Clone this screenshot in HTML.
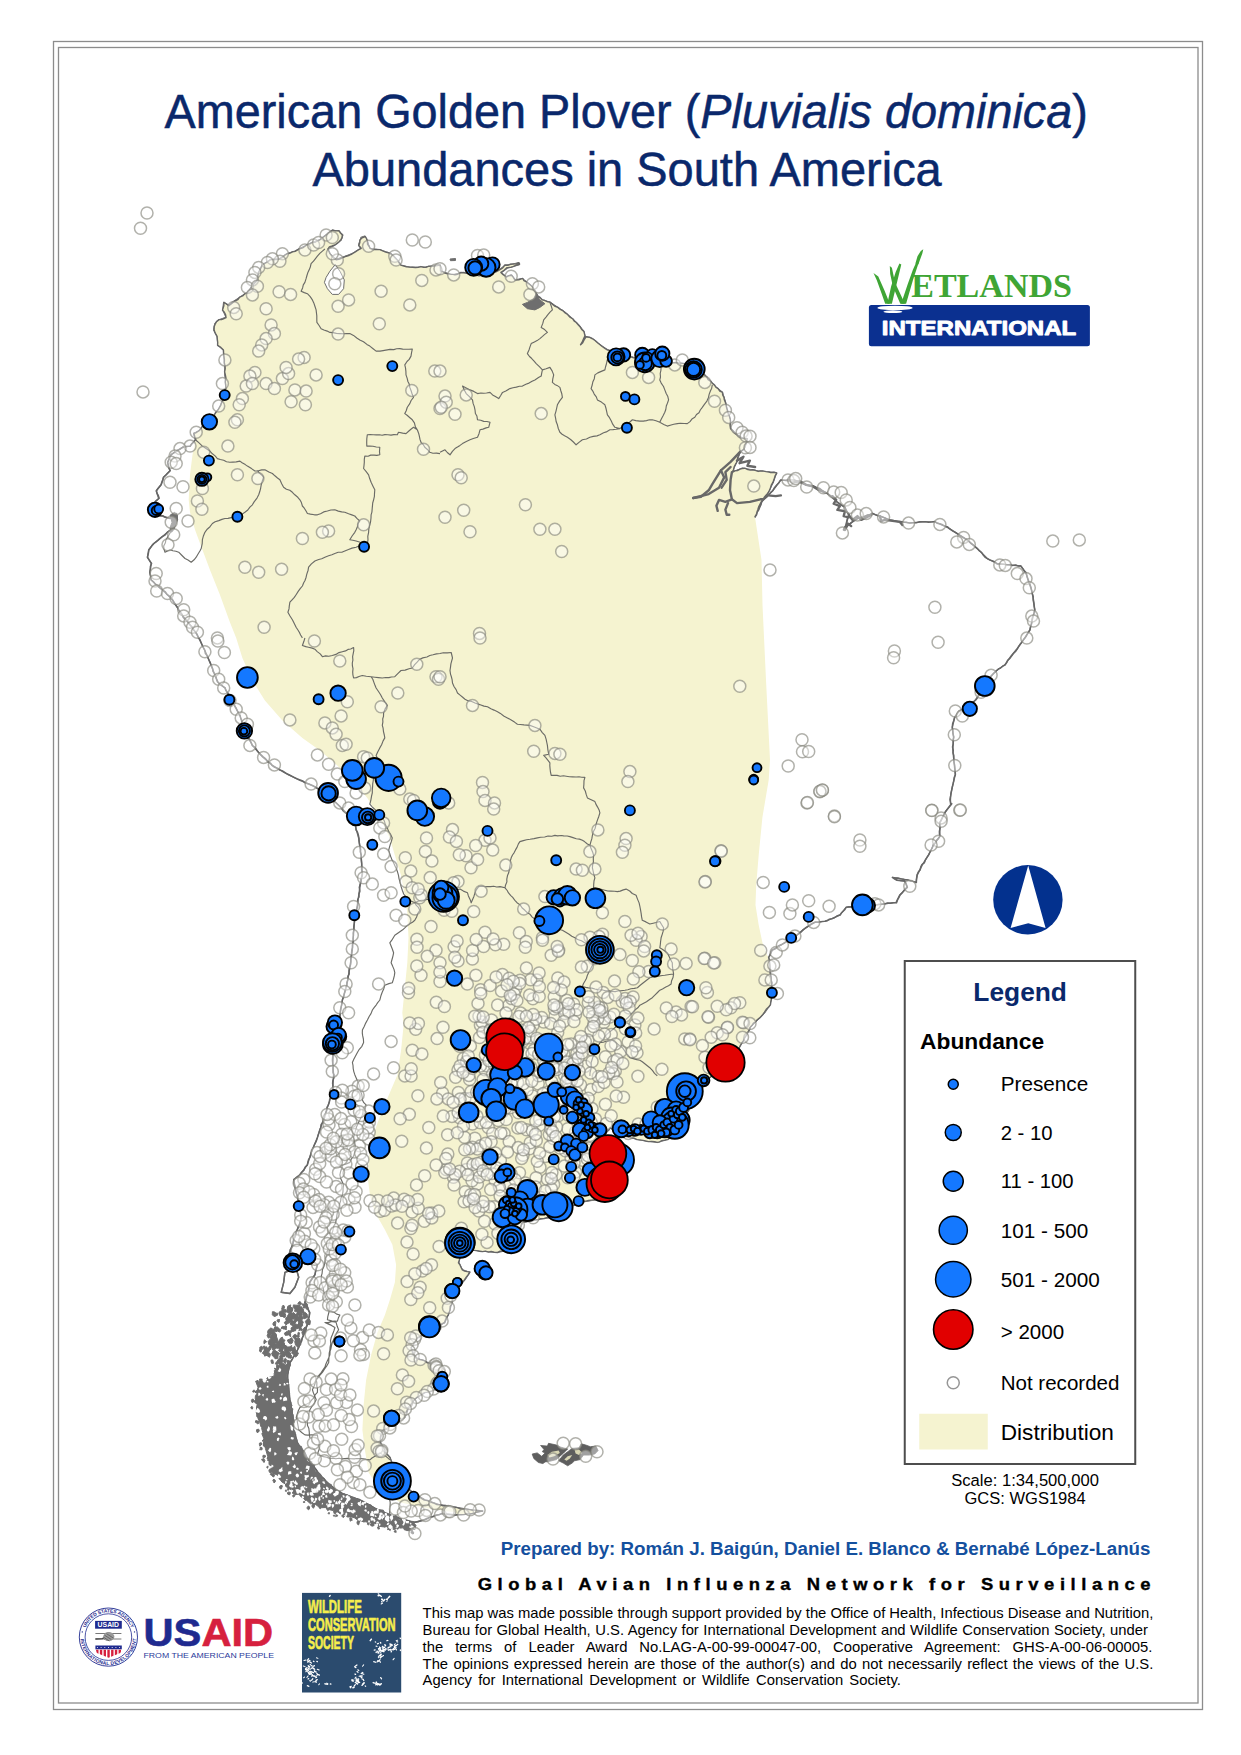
<!DOCTYPE html>
<html><head><meta charset="utf-8"><title>American Golden Plover Abundances in South America</title>
<style>
html,body{margin:0;padding:0;background:#fff;}
body{width:1241px;height:1755px;overflow:hidden;font-family:"Liberation Sans",sans-serif;}
svg{display:block;font-family:"Liberation Sans",sans-serif;}
</style></head><body>
<svg width="1241" height="1755" viewBox="0 0 1241 1755">
<rect width="1241" height="1755" fill="#fff"/>
<defs><clipPath id="landclip"><path d="M440.0,265.5 L426.0,266.9 L409.8,267.4 L401.0,265.5 L396.1,258.7 L391.1,253.7 L379.8,250.0 L369.8,248.7 L367.3,241.2 L364.8,236.2 L361.1,237.5 L358.6,245.0 L361.1,248.7 L352.3,253.7 L343.6,257.0 L336.1,259.5 L329.9,253.7 L327.4,248.7 L334.8,245.0 L341.1,240.0 L342.8,235.0 L338.6,231.2 L332.3,230.5 L327.4,233.7 L319.9,240.0 L312.4,242.5 L304.9,246.2 L294.9,251.2 L287.4,253.7 L279.9,258.7 L269.9,260.0 L262.4,265.0 L258.7,272.4 L257.4,279.9 L252.4,286.2 L247.4,292.4 L239.9,297.4 L232.4,302.4 L228.7,306.2 L223.7,302.4 L222.9,309.9 L226.2,317.4 L218.7,319.9 L214.9,323.7 L213.7,329.9 L217.4,336.1 L217.9,344.9 L223.7,349.9 L224.4,359.9 L224.9,374.9 L226.2,384.9 L223.7,397.4 L219.9,407.3 L213.7,416.1 L204.9,423.6 L198.7,431.1 L193.7,433.6 L195.5,439.8 L190.0,446.1 L182.5,447.3 L176.2,451.1 L171.2,454.8 L167.5,462.3 L170.0,471.0 L163.7,477.3 L161.2,484.8 L156.2,491.0 L158.7,498.5 L153.7,503.5 L148.7,509.8 L153.7,515.3 L162.5,516.0 L170.0,518.5 L176.2,513.5 L177.5,519.8 L173.7,527.3 L167.5,532.3 L160.0,538.5 L153.7,543.5 L148.7,549.7 L147.5,557.2 L151.2,563.5 L150.0,572.2 L151.2,579.7 L157.5,586.0 L165.0,592.2 L172.5,599.7 L178.7,609.7 L183.7,617.2 L190.0,624.7 L195.5,632.2 L198.7,637.9 L198.7,638.0 L204.9,650.5 L211.2,665.5 L217.4,681.7 L224.9,688.0 L232.4,701.7 L239.9,715.4 L244.9,730.4 L252.4,745.4 L262.4,756.7 L272.4,765.4 L284.9,772.9 L299.9,780.4 L312.4,785.4 L327.4,794.1 L337.3,804.1 L347.3,814.1 L354.8,824.1 L358.6,837.9 L361.1,855.3 L362.3,872.8 L359.8,887.8 L357.3,905.3 L354.8,917.8 L353.6,932.8 L352.3,950.3 L349.8,967.8 L346.8,985.2 L342.4,1000.0 L339.9,1015.0 L336.1,1030.0 L333.6,1045.0 L332.4,1060.0 L333.6,1074.9 L332.4,1092.4 L327.4,1107.4 L322.4,1122.4 L317.4,1137.4 L311.2,1152.4 L307.4,1164.9 L299.9,1174.9 L293.7,1179.9 L296.2,1192.4 L299.9,1207.3 L301.2,1219.8 L296.2,1232.3 L292.4,1244.8 L288.7,1254.8 L287.4,1264.8 L299.9,1262.3 L312.4,1261.1 L317.4,1264.8 L314.9,1274.8 L309.9,1282.3 L307.4,1294.8 L304.9,1302.5 L309.9,1312.5 L307.4,1325.0 L302.4,1337.5 L297.4,1350.0 L290.0,1362.5 L287.5,1374.9 L288.7,1387.4 L290.0,1399.9 L292.5,1414.9 L293.7,1429.9 L297.4,1442.4 L304.9,1454.9 L312.4,1464.9 L319.9,1474.9 L329.9,1484.9 L339.9,1492.4 L352.4,1497.4 L364.9,1502.3 L377.4,1509.8 L389.9,1514.8 L402.4,1519.8 L414.9,1522.3 L424.9,1519.8 L429.9,1517.3 L442.3,1513.6 L454.8,1514.8 L469.8,1513.6 L482.3,1511.1 L469.8,1509.8 L454.8,1507.3 L439.8,1504.8 L424.9,1499.9 L412.4,1492.4 L402.4,1482.4 L392.4,1474.9 L392.4,1464.9 L389.9,1457.4 L382.4,1449.9 L379.9,1439.9 L382.4,1431.2 L392.4,1424.9 L404.9,1417.4 L408.6,1407.4 L414.9,1398.7 L424.9,1392.4 L434.8,1389.9 L443.6,1382.4 L444.8,1369.9 L439.8,1365.0 L427.4,1362.5 L414.9,1357.5 L411.1,1347.5 L417.4,1337.5 L429.9,1330.0 L444.8,1322.5 L449.8,1310.0 L452.3,1300.0 L452.3,1297.3 L457.3,1287.3 L464.8,1279.8 L469.8,1272.3 L462.3,1269.8 L458.6,1262.3 L461.1,1252.3 L469.8,1249.8 L472.5,1249.8 L482.5,1251.1 L497.5,1252.3 L509.9,1249.8 L517.4,1239.8 L519.9,1229.8 L522.4,1222.3 L534.9,1219.8 L549.9,1217.3 L564.9,1209.8 L579.9,1202.3 L594.9,1199.9 L609.9,1194.9 L619.9,1184.9 L627.4,1169.9 L624.9,1154.9 L614.9,1144.9 L604.9,1134.9 L609.9,1127.4 L614.9,1131.2 L624.9,1136.1 L639.9,1139.9 L657.3,1142.4 L672.3,1137.4 L683.6,1124.9 L687.3,1112.4 L692.3,1099.9 L699.8,1087.4 L709.8,1077.4 L731.0,1060.0 L738.5,1048.7 L744.8,1037.5 L750.0,1028.7 L750.0,1027.3 L757.4,1019.8 L764.9,1012.3 L769.9,1004.8 L772.4,992.3 L771.2,979.9 L769.9,967.4 L768.7,957.4 L772.4,949.9 L781.2,944.9 L789.9,939.9 L798.7,933.6 L806.2,927.4 L814.9,922.4 L824.9,921.1 L832.4,918.6 L839.9,914.9 L846.1,907.4 L854.9,906.2 L864.9,906.2 L874.9,904.9 L884.9,903.7 L896.1,902.4 L899.8,894.9 L907.3,887.4 L904.8,881.2 L897.3,879.9 L892.3,877.4 L907.3,879.9 L916.1,882.4 L917.3,874.9 L922.3,864.9 L928.6,854.9 L933.6,845.0 L939.8,836.2 L939.8,822.5 L944.8,812.5 L951.8,803.7 L951.1,804.7 L949.9,799.7 L952.3,787.2 L955.3,774.7 L954.3,764.7 L952.8,749.7 L953.6,737.2 L952.3,727.2 L954.8,717.2 L958.6,711.0 L967.3,707.3 L976.1,699.8 L983.6,687.3 L989.8,677.3 L996.1,671.0 L1004.8,664.8 L1011.1,656.0 L1017.3,648.5 L1023.5,639.8 L1029.8,629.8 L1032.3,619.8 L1034.8,609.8 L1033.5,599.8 L1031.0,587.3 L1026.0,573.6 L1021.0,566.1 L1009.8,564.9 L997.3,563.6 L987.3,558.6 L977.3,548.6 L967.3,539.9 L957.3,533.6 L947.4,527.4 L934.9,521.9 L922.4,521.9 L909.9,522.9 L899.9,521.9 L889.9,519.9 L879.9,516.1 L872.4,513.6 L864.9,516.1 L857.4,518.6 L849.9,523.6 L843.7,529.9 L846.2,524.9 L848.7,514.9 L844.9,507.4 L837.4,502.4 L830.0,495.4 L819.6,489.0 L813.1,485.7 L806.7,485.1 L800.2,482.5 L793.8,479.9 L786.0,480.6 L780.9,479.9 L777.0,485.1 L773.1,490.3 L768.0,495.4 L760.3,503.1 L755.1,517.3 L762.8,499.3 L768.0,492.8 L773.1,482.5 L776.4,472.8 L757.7,470.9 L742.2,468.3 L731.9,472.2 L737.0,460.6 L740.3,451.6 L744.1,449.0 L746.1,443.8 L747.4,438.7 L743.5,438.7 L737.0,434.8 L730.6,428.4 L730.0,419.3 L726.7,409.0 L724.8,400.0 L722.3,392.4 L716.0,387.4 L712.3,383.6 L704.8,374.9 L694.8,366.1 L682.3,363.6 L669.8,362.4 L654.8,359.9 L639.9,359.9 L629.9,356.1 L614.9,352.4 L607.4,349.9 L599.9,344.9 L592.4,338.6 L586.1,336.9 L581.1,344.9 L584.9,336.1 L583.6,331.2 L578.6,324.9 L572.4,318.7 L564.9,312.4 L557.4,307.4 L549.9,302.4 L542.4,299.9 L537.4,296.2 L533.7,288.7 L528.7,283.7 L522.4,278.7 L514.9,279.9 L511.2,274.9 L506.2,277.4 L501.2,272.4 L507.4,267.9 L519.4,264.5 L518.7,263.0 L505.0,265.5 L497.5,271.2 L485.0,276.2 L472.5,274.9 L463.7,272.4 L452.5,274.9 L440.0,271.2Z"/><path d="M284.9,1272.3 L296.2,1268.5 L298.7,1277.3 L294.9,1287.3 L289.9,1293.5 L281.2,1292.3 L283.7,1282.3Z"/></clipPath></defs>
<path d="M440.0,265.5 L426.0,266.9 L409.8,267.4 L401.0,265.5 L396.1,258.7 L391.1,253.7 L379.8,250.0 L369.8,248.7 L367.3,241.2 L364.8,236.2 L361.1,237.5 L358.6,245.0 L361.1,248.7 L352.3,253.7 L343.6,257.0 L336.1,259.5 L329.9,253.7 L327.4,248.7 L334.8,245.0 L341.1,240.0 L342.8,235.0 L338.6,231.2 L332.3,230.5 L327.4,233.7 L319.9,240.0 L312.4,242.5 L304.9,246.2 L294.9,251.2 L287.4,253.7 L279.9,258.7 L269.9,260.0 L262.4,265.0 L258.7,272.4 L257.4,279.9 L252.4,286.2 L247.4,292.4 L239.9,297.4 L232.4,302.4 L228.7,306.2 L223.7,302.4 L222.9,309.9 L226.2,317.4 L218.7,319.9 L214.9,323.7 L213.7,329.9 L217.4,336.1 L217.9,344.9 L223.7,349.9 L224.4,359.9 L224.9,374.9 L226.2,384.9 L223.7,397.4 L219.9,407.3 L213.7,416.1 L204.9,423.6 L198.7,431.1 L193.7,433.6 L195.5,439.8 L190.0,446.1 L182.5,447.3 L176.2,451.1 L171.2,454.8 L167.5,462.3 L170.0,471.0 L163.7,477.3 L161.2,484.8 L156.2,491.0 L158.7,498.5 L153.7,503.5 L148.7,509.8 L153.7,515.3 L162.5,516.0 L170.0,518.5 L176.2,513.5 L177.5,519.8 L173.7,527.3 L167.5,532.3 L160.0,538.5 L153.7,543.5 L148.7,549.7 L147.5,557.2 L151.2,563.5 L150.0,572.2 L151.2,579.7 L157.5,586.0 L165.0,592.2 L172.5,599.7 L178.7,609.7 L183.7,617.2 L190.0,624.7 L195.5,632.2 L198.7,637.9 L198.7,638.0 L204.9,650.5 L211.2,665.5 L217.4,681.7 L224.9,688.0 L232.4,701.7 L239.9,715.4 L244.9,730.4 L252.4,745.4 L262.4,756.7 L272.4,765.4 L284.9,772.9 L299.9,780.4 L312.4,785.4 L327.4,794.1 L337.3,804.1 L347.3,814.1 L354.8,824.1 L358.6,837.9 L361.1,855.3 L362.3,872.8 L359.8,887.8 L357.3,905.3 L354.8,917.8 L353.6,932.8 L352.3,950.3 L349.8,967.8 L346.8,985.2 L342.4,1000.0 L339.9,1015.0 L336.1,1030.0 L333.6,1045.0 L332.4,1060.0 L333.6,1074.9 L332.4,1092.4 L327.4,1107.4 L322.4,1122.4 L317.4,1137.4 L311.2,1152.4 L307.4,1164.9 L299.9,1174.9 L293.7,1179.9 L296.2,1192.4 L299.9,1207.3 L301.2,1219.8 L296.2,1232.3 L292.4,1244.8 L288.7,1254.8 L287.4,1264.8 L299.9,1262.3 L312.4,1261.1 L317.4,1264.8 L314.9,1274.8 L309.9,1282.3 L307.4,1294.8 L304.9,1302.5 L309.9,1312.5 L307.4,1325.0 L302.4,1337.5 L297.4,1350.0 L290.0,1362.5 L287.5,1374.9 L288.7,1387.4 L290.0,1399.9 L292.5,1414.9 L293.7,1429.9 L297.4,1442.4 L304.9,1454.9 L312.4,1464.9 L319.9,1474.9 L329.9,1484.9 L339.9,1492.4 L352.4,1497.4 L364.9,1502.3 L377.4,1509.8 L389.9,1514.8 L402.4,1519.8 L414.9,1522.3 L424.9,1519.8 L429.9,1517.3 L442.3,1513.6 L454.8,1514.8 L469.8,1513.6 L482.3,1511.1 L469.8,1509.8 L454.8,1507.3 L439.8,1504.8 L424.9,1499.9 L412.4,1492.4 L402.4,1482.4 L392.4,1474.9 L392.4,1464.9 L389.9,1457.4 L382.4,1449.9 L379.9,1439.9 L382.4,1431.2 L392.4,1424.9 L404.9,1417.4 L408.6,1407.4 L414.9,1398.7 L424.9,1392.4 L434.8,1389.9 L443.6,1382.4 L444.8,1369.9 L439.8,1365.0 L427.4,1362.5 L414.9,1357.5 L411.1,1347.5 L417.4,1337.5 L429.9,1330.0 L444.8,1322.5 L449.8,1310.0 L452.3,1300.0 L452.3,1297.3 L457.3,1287.3 L464.8,1279.8 L469.8,1272.3 L462.3,1269.8 L458.6,1262.3 L461.1,1252.3 L469.8,1249.8 L472.5,1249.8 L482.5,1251.1 L497.5,1252.3 L509.9,1249.8 L517.4,1239.8 L519.9,1229.8 L522.4,1222.3 L534.9,1219.8 L549.9,1217.3 L564.9,1209.8 L579.9,1202.3 L594.9,1199.9 L609.9,1194.9 L619.9,1184.9 L627.4,1169.9 L624.9,1154.9 L614.9,1144.9 L604.9,1134.9 L609.9,1127.4 L614.9,1131.2 L624.9,1136.1 L639.9,1139.9 L657.3,1142.4 L672.3,1137.4 L683.6,1124.9 L687.3,1112.4 L692.3,1099.9 L699.8,1087.4 L709.8,1077.4 L731.0,1060.0 L738.5,1048.7 L744.8,1037.5 L750.0,1028.7 L750.0,1027.3 L757.4,1019.8 L764.9,1012.3 L769.9,1004.8 L772.4,992.3 L771.2,979.9 L769.9,967.4 L768.7,957.4 L772.4,949.9 L781.2,944.9 L789.9,939.9 L798.7,933.6 L806.2,927.4 L814.9,922.4 L824.9,921.1 L832.4,918.6 L839.9,914.9 L846.1,907.4 L854.9,906.2 L864.9,906.2 L874.9,904.9 L884.9,903.7 L896.1,902.4 L899.8,894.9 L907.3,887.4 L904.8,881.2 L897.3,879.9 L892.3,877.4 L907.3,879.9 L916.1,882.4 L917.3,874.9 L922.3,864.9 L928.6,854.9 L933.6,845.0 L939.8,836.2 L939.8,822.5 L944.8,812.5 L951.8,803.7 L951.1,804.7 L949.9,799.7 L952.3,787.2 L955.3,774.7 L954.3,764.7 L952.8,749.7 L953.6,737.2 L952.3,727.2 L954.8,717.2 L958.6,711.0 L967.3,707.3 L976.1,699.8 L983.6,687.3 L989.8,677.3 L996.1,671.0 L1004.8,664.8 L1011.1,656.0 L1017.3,648.5 L1023.5,639.8 L1029.8,629.8 L1032.3,619.8 L1034.8,609.8 L1033.5,599.8 L1031.0,587.3 L1026.0,573.6 L1021.0,566.1 L1009.8,564.9 L997.3,563.6 L987.3,558.6 L977.3,548.6 L967.3,539.9 L957.3,533.6 L947.4,527.4 L934.9,521.9 L922.4,521.9 L909.9,522.9 L899.9,521.9 L889.9,519.9 L879.9,516.1 L872.4,513.6 L864.9,516.1 L857.4,518.6 L849.9,523.6 L843.7,529.9 L846.2,524.9 L848.7,514.9 L844.9,507.4 L837.4,502.4 L830.0,495.4 L819.6,489.0 L813.1,485.7 L806.7,485.1 L800.2,482.5 L793.8,479.9 L786.0,480.6 L780.9,479.9 L777.0,485.1 L773.1,490.3 L768.0,495.4 L760.3,503.1 L755.1,517.3 L762.8,499.3 L768.0,492.8 L773.1,482.5 L776.4,472.8 L757.7,470.9 L742.2,468.3 L731.9,472.2 L737.0,460.6 L740.3,451.6 L744.1,449.0 L746.1,443.8 L747.4,438.7 L743.5,438.7 L737.0,434.8 L730.6,428.4 L730.0,419.3 L726.7,409.0 L724.8,400.0 L722.3,392.4 L716.0,387.4 L712.3,383.6 L704.8,374.9 L694.8,366.1 L682.3,363.6 L669.8,362.4 L654.8,359.9 L639.9,359.9 L629.9,356.1 L614.9,352.4 L607.4,349.9 L599.9,344.9 L592.4,338.6 L586.1,336.9 L581.1,344.9 L584.9,336.1 L583.6,331.2 L578.6,324.9 L572.4,318.7 L564.9,312.4 L557.4,307.4 L549.9,302.4 L542.4,299.9 L537.4,296.2 L533.7,288.7 L528.7,283.7 L522.4,278.7 L514.9,279.9 L511.2,274.9 L506.2,277.4 L501.2,272.4 L507.4,267.9 L519.4,264.5 L518.7,263.0 L505.0,265.5 L497.5,271.2 L485.0,276.2 L472.5,274.9 L463.7,272.4 L452.5,274.9 L440.0,271.2Z" fill="#fff" stroke="#6a6a6a" stroke-width="1.4" stroke-linejoin="round"/>
<path d="M284.9,1272.3 L296.2,1268.5 L298.7,1277.3 L294.9,1287.3 L289.9,1293.5 L281.2,1292.3 L283.7,1282.3Z" fill="#fff" stroke="#6a6a6a" stroke-width="1.4" stroke-linejoin="round"/>
<g clip-path="url(#landclip)"><path d="M150.0,440.0 L195.5,439.8 L192.5,454.8 L190.0,474.8 L188.7,499.8 L190.0,512.3 L195.0,529.8 L202.4,549.7 L209.9,569.7 L219.9,594.7 L229.9,622.2 L236.2,637.9 L236.2,638.0 L242.4,658.0 L252.4,680.5 L264.9,700.5 L282.4,720.4 L302.4,737.9 L319.9,750.4 L337.3,765.4 L354.8,782.9 L367.3,797.9 L379.8,817.9 L389.8,837.9 L394.8,855.3 L401.0,875.3 L404.8,895.3 L407.3,912.8 L408.5,937.8 L407.3,962.8 L404.8,987.7 L402.3,1012.7 L403.6,1025.0 L401.1,1050.0 L397.4,1074.9 L389.9,1092.4 L382.4,1109.9 L374.9,1129.9 L369.9,1149.9 L367.4,1174.9 L369.9,1194.9 L374.9,1212.3 L384.9,1229.8 L392.4,1244.8 L396.1,1264.8 L394.9,1282.3 L389.9,1299.8 L384.9,1315.0 L377.4,1332.5 L371.1,1355.0 L366.1,1379.9 L363.6,1404.9 L362.4,1429.9 L364.9,1449.9 L368.6,1472.4 L379.9,1489.9 L399.9,1502.3 L427.4,1508.6 L454.8,1512.3 L482.0,1535.0 L800.0,1535.0 L800.0,960.0 L767.4,956.1 L762.4,942.4 L758.7,924.9 L755.5,904.9 L756.2,884.9 L758.7,854.9 L762.4,817.5 L768.7,780.0 L770.0,760.0 L766.0,680.0 L762.5,605.0 L761.5,560.0 L755.0,517.0 L762.8,499.3 L768.0,492.8 L773.1,482.5 L776.4,472.8 L792.0,465.0 L792.0,200.0 L150.0,200.0Z" fill="#f5f3d0"/></g>
<path d="M335.3,264.5 L329.9,271.2 L326.1,277.4 L324.4,282.4 L327.4,288.7 L332.3,294.4 L338.6,294.4 L343.6,288.7 L344.3,279.9 L340.3,271.9Z" fill="#fff" stroke="#6e6e6e" stroke-width="1"/>
<path d="M440.2,265.1 L437.3,265.5 L433.9,266.1 L431.6,266.1 L428.3,266.3 L426.0,267.4 L423.5,267.3 L420.9,266.6 L418.3,267.4 L415.5,267.6 L412.7,267.2 L409.5,267.0 L406.5,266.7 L403.9,266.0 L400.8,265.1 L399.3,263.1 L398.0,260.7 L395.8,258.6 L393.7,256.2 L391.2,254.0 L388.5,252.8 L385.7,252.1 L382.7,250.9 L380.1,249.6 L376.4,249.5 L373.0,249.5 L370.2,248.4 L369.2,246.5 L367.6,244.1 L367.4,240.7 L366.5,238.5 L365.3,236.5 L361.6,238.0 L359.9,240.2 L359.8,242.5 L358.8,245.5 L361.2,248.3 L358.2,249.9 L355.3,251.9 L351.9,254.0 L349.4,255.2 L346.3,256.2 L343.6,257.3 L341.5,258.2 L338.7,259.2 L336.1,259.7 L333.7,258.1 L331.6,255.6 L330.0,253.6 L328.8,251.0 L327.9,249.1 L329.4,246.9 L332.1,246.0 L334.8,245.0 L336.8,243.7 L339.1,241.7 L340.9,239.8 L342.0,237.7 L342.4,234.9 L340.5,233.0 L339.0,230.7 L335.6,230.9 L332.5,230.0 L329.7,231.8 L327.3,234.2 L324.6,236.1 L322.1,237.9 L319.9,239.8 L317.1,241.0 L315.3,242.2 L312.3,242.4 L309.9,243.8 L307.0,244.6 L305.3,246.0 L302.6,247.9 L299.7,248.7 L297.4,250.0 L295.2,251.4 L292.5,251.8 L290.0,253.1 L287.3,253.7 L284.4,255.4 L282.8,257.4 L279.8,258.7 L276.8,259.5 L273.2,259.4 L269.8,260.1 L267.7,261.9 L264.8,263.3 L262.0,265.2 L261.2,267.3 L260.1,269.7 L258.6,272.6 L257.7,276.4 L257.5,279.5 L256.0,281.6 L253.9,283.6 L252.7,286.0 L250.8,287.8 L249.5,290.3 L247.5,292.9 L244.8,293.7 L242.6,295.9 L239.7,297.1 L237.9,299.5 L234.6,301.1 L232.4,302.9 L230.8,304.2 L228.9,305.7 L226.4,303.8 L223.9,302.4 L223.8,305.7 L222.5,310.1 L224.3,312.2 L225.6,314.9 L226.0,317.7 L224.0,318.5 L221.5,319.6 L219.1,319.6 L216.5,321.6 L215.4,323.6 L214.2,326.6 L214.1,329.9 L215.1,332.9 L217.0,336.3 L217.3,339.3 L217.7,342.5 L217.6,345.3 L220.8,347.4 L223.4,350.1 L223.6,353.2 L224.0,356.8 L224.4,359.7 L224.3,362.9 L225.0,365.6 L225.2,368.7 L224.6,371.9 L225.2,374.5 L225.9,378.0 L225.2,381.8 L225.7,385.2 L226.0,388.0 L224.6,391.5 L223.9,394.7 L223.4,396.9 L223.3,399.7 L221.7,402.3 L220.8,405.2 L219.5,407.3 L218.2,409.7 L216.7,411.2 L215.1,413.5 L213.9,415.7 L211.9,417.7 L209.0,420.1 L207.1,421.6 L204.8,423.4 L202.6,425.9 L201.1,428.5 L199.1,430.7 L196.0,432.7 L193.9,433.2 L194.8,437.2 L195.8,439.3 L193.5,442.1 L191.4,444.0 L190.2,446.3 L186.0,446.4 L182.6,447.3 L179.7,449.4 L176.3,451.2 L173.3,453.2 L171.0,454.6 L169.8,457.5 L169.0,459.3 L167.7,462.7 L168.2,465.6 L168.7,467.7 L170.2,470.6 L167.7,473.0 L165.9,475.0 L163.4,477.2 L162.8,479.7 L161.6,482.7 L161.1,484.6 L159.5,486.5 L157.9,488.4 L156.4,490.6 L157.2,493.7 L158.3,495.5 L159.2,498.2 L155.9,500.8 L153.8,503.6 L152.4,505.6 L150.0,507.3 L148.8,509.5 L150.8,512.7 L153.2,515.3 L157.2,515.5 L159.2,515.7 L162.9,515.8 L164.5,517.1 L168.0,518.1 L169.8,518.2 L172.4,516.9 L174.7,515.2 L175.7,513.3 L176.9,516.8 L177.2,519.4 L175.8,522.7 L175.0,524.9 L174.0,527.6 L171.4,528.8 L170.1,530.7 L167.7,531.8 L165.3,534.9 L162.4,536.6 L159.8,538.6 L158.2,540.1 L155.8,542.2 L154.0,543.5 L152.3,545.1 L150.6,547.6 L148.9,550.0 L148.4,553.3 L147.4,557.3 L149.1,559.9 L151.6,563.5 L150.4,566.4 L150.3,569.2 L149.7,572.5 L150.5,575.5 L151.0,580.0 L153.4,581.8 L155.2,584.1 L157.7,585.5 L160.1,588.0 L162.8,590.2 L165.4,591.8 L166.7,594.1 L168.3,595.4 L170.9,597.4 L172.5,600.1 L173.7,602.3 L175.6,605.0 L177.3,607.3 L178.5,609.9 L180.4,612.6 L182.2,614.4 L183.2,617.4 L185.7,619.7 L188.4,622.6 L190.0,625.0 L192.3,627.1 L193.5,630.1 L195.6,632.2 L197.2,634.5 L198.6,638.3 L198.6,637.6 L200.2,640.2 L201.5,643.5 L202.4,645.8 L203.2,647.5 L204.7,650.2 L205.4,653.5 L207.1,655.5 L208.2,658.2 L209.1,660.3 L210.4,662.9 L211.4,665.9 L212.7,668.7 L213.0,671.3 L214.7,673.8 L215.9,676.6 L216.6,679.0 L217.7,681.6 L219.4,684.0 L222.5,686.1 L225.2,687.8 L225.7,690.4 L227.7,693.0 L228.9,694.8 L230.3,696.8 L230.8,699.7 L231.9,701.5 L233.8,703.8 L235.0,706.5 L236.2,708.4 L237.1,710.5 L238.5,713.2 L240.2,715.8 L240.6,717.9 L241.6,720.4 L242.2,723.4 L243.5,725.1 L243.9,728.4 L245.1,730.2 L246.7,732.4 L247.7,735.3 L248.2,737.4 L250.1,740.9 L251.1,742.5 L252.3,745.6 L254.9,747.2 L256.4,749.5 L258.0,751.7 L259.9,753.9 L262.9,756.6 L264.8,758.0 L266.5,759.8 L267.9,762.1 L270.6,763.2 L272.0,765.3 L274.7,767.3 L277.6,768.4 L279.6,769.9 L282.5,770.9 L285.1,772.5 L287.2,774.0 L289.4,775.0 L292.1,776.4 L294.5,777.7 L297.3,778.9 L300.1,779.9 L302.7,780.9 L304.9,782.7 L307.8,783.7 L309.8,784.5 L312.9,785.8 L315.2,787.0 L317.4,788.5 L320.3,790.1 L322.9,791.3 L325.4,792.5 L327.8,793.9 L329.8,796.4 L331.7,797.6 L333.1,800.4 L335.4,802.3 L337.1,803.8 L339.8,806.2 L341.6,808.4 L342.8,810.3 L344.8,811.8 L347.7,814.3 L349.0,816.8 L350.8,819.3 L353.0,822.0 L355.1,824.1 L355.8,826.7 L355.9,829.8 L357.5,832.2 L358.3,834.7 L359.0,838.4 L359.1,841.0 L359.5,844.2 L360.0,846.7 L360.7,849.2 L360.3,851.9 L361.3,855.2 L361.1,858.1 L361.4,860.8 L361.7,863.7 L361.6,867.0 L361.6,869.9 L362.5,873.3 L362.2,876.3 L360.9,878.9 L361.1,881.3 L359.8,885.3 L359.3,887.4 L359.9,891.2 L359.0,894.0 L359.0,897.0 L357.7,899.5 L357.7,902.3 L357.8,905.4 L357.0,908.6 L356.2,911.6 L355.4,914.2 L354.4,917.5 L354.6,920.4 L354.1,924.3 L353.8,926.4 L353.8,929.9 L353.2,933.2 L353.4,935.2 L353.1,938.6 L353.4,941.2 L352.4,944.6 L352.5,947.5 L351.8,949.9 L351.5,953.5 L351.3,956.0 L350.6,958.8 L350.9,961.9 L350.6,964.7 L349.4,967.8 L349.0,970.7 L349.2,973.9 L347.9,976.3 L347.8,979.9 L346.8,982.4 L346.8,984.8 L345.7,988.3 L345.1,990.7 L344.3,993.9 L343.6,997.3 L342.5,999.5 L342.0,1003.0 L341.5,1005.5 L340.6,1009.2 L340.2,1012.4 L340.1,1015.0 L339.5,1018.3 L338.6,1021.2 L337.3,1023.9 L337.1,1027.3 L336.0,1030.3 L335.9,1033.4 L335.5,1036.3 L334.3,1039.5 L334.1,1041.8 L333.8,1045.0 L333.4,1048.1 L332.9,1051.5 L333.2,1054.4 L333.1,1056.8 L332.9,1060.5 L332.8,1063.2 L333.2,1066.2 L333.0,1069.0 L333.0,1072.4 L334.1,1075.1 L333.8,1078.3 L332.8,1080.8 L332.6,1083.3 L333.1,1086.4 L333.1,1089.2 L332.4,1092.4 L331.4,1094.8 L330.7,1097.2 L329.6,1099.5 L329.4,1102.0 L328.3,1105.3 L327.0,1107.1 L326.9,1109.9 L326.2,1112.1 L324.9,1115.1 L324.6,1117.5 L323.6,1120.4 L322.7,1122.7 L321.1,1124.5 L320.7,1127.8 L319.9,1129.4 L318.9,1132.8 L318.2,1134.9 L317.5,1137.4 L316.7,1139.9 L315.8,1142.2 L314.3,1145.0 L313.5,1147.2 L312.4,1149.4 L311.3,1152.7 L310.5,1155.4 L309.9,1157.7 L308.6,1159.5 L307.8,1162.4 L307.3,1165.0 L305.2,1167.1 L303.8,1170.4 L301.6,1172.3 L299.6,1175.0 L298.3,1176.2 L296.1,1177.7 L293.9,1179.4 L293.9,1183.2 L294.7,1185.7 L295.7,1189.8 L295.9,1192.1 L297.2,1195.8 L297.6,1198.1 L298.8,1201.6 L299.4,1204.1 L299.5,1207.1 L299.9,1210.1 L300.7,1213.9 L301.1,1216.2 L301.0,1220.3 L300.1,1222.5 L299.4,1224.7 L298.4,1226.9 L297.2,1229.8 L296.1,1231.9 L295.8,1235.3 L294.6,1237.7 L293.5,1239.8 L293.1,1242.2 L292.9,1244.5 L291.6,1247.6 L290.1,1250.0 L290.1,1252.4 L289.1,1255.1 L287.8,1258.6 L288.1,1261.1 L287.5,1265.2 L290.4,1264.0 L294.0,1263.3 L296.3,1263.0 L299.4,1262.2 L302.6,1261.8 L306.5,1261.6 L309.0,1261.5 L312.8,1261.3 L315.3,1263.0 L317.6,1264.5 L316.2,1268.6 L315.5,1271.2 L315.0,1274.5 L313.5,1276.8 L311.4,1279.3 L309.5,1282.3 L309.8,1285.2 L309.1,1288.3 L308.5,1291.3 L307.4,1294.3 L306.0,1296.9 L306.2,1299.5 L304.7,1302.6 L306.4,1304.5 L307.7,1307.4 L308.2,1310.0 L309.5,1312.7 L309.3,1316.2 L308.2,1318.9 L308.3,1322.2 L306.9,1325.3 L306.1,1327.1 L305.5,1329.6 L304.0,1332.7 L303.6,1335.5 L302.3,1338.0 L301.9,1340.4 L300.9,1342.8 L299.8,1344.5 L298.8,1347.6 L297.7,1349.5 L296.4,1352.7 L294.5,1355.5 L293.0,1357.9 L291.8,1360.3 L290.2,1362.3 L289.5,1366.1 L288.9,1368.4 L288.3,1371.3 L287.7,1374.9 L287.3,1378.3 L287.8,1381.1 L288.4,1384.2 L288.6,1387.6 L288.7,1390.7 L288.9,1393.7 L289.3,1397.0 L289.8,1400.4 L290.9,1402.6 L291.1,1405.5 L291.6,1409.2 L291.9,1412.0 L292.6,1414.9 L292.8,1417.7 L293.2,1420.7 L293.1,1423.8 L292.9,1426.9 L293.2,1430.4 L294.4,1432.8 L295.6,1434.7 L295.7,1437.4 L296.6,1439.4 L296.9,1442.5 L298.6,1445.1 L300.2,1447.5 L301.8,1450.2 L302.9,1451.9 L304.7,1455.4 L306.9,1457.2 L308.8,1459.9 L311.0,1462.8 L312.8,1465.2 L314.0,1466.9 L316.5,1470.0 L317.8,1472.4 L320.4,1474.6 L321.7,1476.8 L323.9,1478.5 L325.6,1481.0 L327.7,1483.0 L329.9,1485.3 L332.1,1486.6 L334.4,1488.9 L337.7,1490.7 L340.4,1491.9 L342.4,1493.9 L345.3,1494.7 L347.4,1495.0 L349.6,1496.4 L352.5,1497.2 L355.4,1498.5 L357.1,1498.8 L360.1,1499.8 L362.8,1501.3 L365.2,1502.6 L367.5,1504.3 L370.2,1504.9 L372.3,1506.7 L374.8,1508.1 L376.9,1509.9 L379.9,1510.6 L382.3,1511.3 L384.6,1512.8 L387.8,1513.8 L390.3,1514.8 L392.4,1516.2 L394.4,1516.4 L397.9,1517.4 L399.9,1518.4 L402.9,1519.6 L405.9,1519.9 L408.4,1520.8 L411.8,1522.1 L415.4,1522.0 L417.9,1521.7 L421.1,1520.8 L424.8,1519.3 L427.4,1518.3 L430.1,1516.8 L433.2,1516.7 L436.1,1515.0 L438.8,1514.8 L442.1,1513.3 L445.1,1514.2 L448.5,1514.5 L451.9,1514.9 L454.8,1515.2 L457.3,1514.8 L461.0,1514.8 L464.0,1514.6 L467.0,1513.5 L470.3,1514.1 L472.6,1513.5 L476.6,1512.1 L478.7,1511.6 L482.8,1511.0 L479.7,1510.8 L475.8,1510.2 L472.5,1510.2 L469.8,1509.6 L466.8,1509.2 L463.4,1509.2 L460.3,1508.7 L457.3,1507.6 L455.3,1507.3 L451.3,1507.1 L448.8,1506.3 L445.5,1505.5 L443.1,1505.7 L439.9,1504.8 L436.9,1504.5 L434.5,1503.4 L432.8,1502.8 L429.5,1501.6 L427.5,1500.5 L424.4,1500.1 L422.3,1498.8 L419.6,1497.1 L417.4,1495.4 L415.4,1493.7 L412.6,1492.0 L410.0,1490.7 L408.2,1488.1 L406.7,1486.5 L403.9,1484.8 L402.1,1482.9 L399.8,1480.5 L397.8,1479.0 L395.3,1476.2 L391.9,1474.9 L392.1,1471.7 L392.5,1468.3 L392.8,1464.7 L391.7,1462.3 L390.9,1460.0 L390.0,1457.5 L387.9,1455.1 L385.7,1453.2 L384.0,1452.0 L382.6,1449.9 L382.0,1447.0 L380.6,1443.7 L380.3,1440.0 L380.5,1436.9 L381.1,1434.3 L381.9,1430.7 L384.5,1429.4 L387.9,1428.3 L389.4,1426.1 L392.2,1424.6 L395.0,1423.3 L397.6,1421.5 L399.5,1420.9 L401.9,1419.0 L404.6,1417.4 L406.0,1415.0 L406.3,1412.5 L407.2,1410.1 L408.4,1407.4 L410.3,1405.2 L411.6,1403.4 L413.2,1401.4 L415.1,1399.0 L417.0,1397.4 L420.4,1395.3 L422.2,1394.3 L424.5,1392.6 L428.5,1392.1 L431.9,1391.0 L434.5,1389.7 L437.1,1387.6 L438.7,1386.3 L440.9,1384.4 L443.4,1382.2 L444.3,1379.6 L444.6,1376.1 L444.9,1372.5 L444.6,1369.9 L441.9,1367.2 L440.1,1365.0 L436.5,1364.8 L433.6,1364.1 L430.9,1363.5 L427.4,1362.9 L425.3,1361.1 L422.7,1360.0 L419.8,1359.5 L417.5,1358.4 L415.2,1357.9 L413.5,1355.2 L412.7,1353.0 L411.7,1349.7 L411.1,1347.6 L413.0,1345.5 L414.2,1342.6 L416.1,1340.3 L417.4,1338.0 L420.2,1336.5 L422.2,1334.3 L424.8,1332.8 L427.6,1331.6 L429.5,1330.4 L432.4,1328.4 L434.6,1327.7 L437.4,1326.7 L439.7,1325.4 L442.0,1323.8 L444.5,1322.5 L445.3,1320.4 L446.5,1317.6 L448.2,1315.3 L449.0,1312.7 L449.9,1310.5 L450.3,1306.1 L452.0,1303.9 L452.1,1299.8 L452.3,1297.2 L453.5,1295.0 L454.5,1292.2 L456.6,1290.3 L457.5,1287.3 L459.2,1286.0 L461.4,1283.6 L463.1,1281.8 L464.6,1279.7 L466.1,1277.4 L468.4,1274.4 L469.7,1271.9 L467.2,1271.6 L464.7,1271.0 L462.4,1269.8 L461.1,1267.5 L459.8,1264.5 L458.5,1262.8 L459.8,1258.6 L460.0,1255.8 L460.9,1252.0 L463.5,1251.6 L466.8,1250.8 L470.1,1250.3 L472.6,1250.1 L476.2,1250.6 L479.4,1251.2 L482.5,1251.6 L485.4,1251.1 L488.6,1252.1 L491.1,1251.5 L494.3,1252.2 L497.6,1252.5 L500.1,1251.2 L503.7,1251.0 L506.7,1250.2 L509.4,1249.6 L511.3,1247.1 L514.2,1244.4 L515.5,1242.8 L517.9,1239.3 L518.6,1236.3 L519.0,1233.1 L520.1,1230.0 L520.3,1227.3 L521.5,1224.3 L522.1,1222.2 L525.4,1222.0 L528.5,1221.3 L532.0,1221.0 L535.1,1219.6 L538.0,1219.7 L540.4,1218.8 L544.3,1218.5 L547.3,1217.5 L549.7,1217.7 L552.5,1216.5 L555.0,1214.4 L557.8,1213.7 L559.8,1211.9 L562.3,1211.3 L564.7,1209.5 L566.9,1208.4 L569.7,1207.0 L571.9,1205.5 L574.7,1204.8 L577.3,1204.0 L580.1,1202.7 L583.3,1201.4 L586.4,1201.0 L588.7,1200.5 L591.7,1200.1 L594.8,1199.7 L597.2,1199.3 L600.4,1197.7 L602.6,1197.1 L605.1,1196.2 L606.9,1195.4 L610.4,1195.0 L612.0,1193.1 L614.1,1191.3 L615.7,1189.1 L617.4,1187.0 L619.7,1184.8 L620.9,1182.3 L622.7,1179.9 L624.1,1177.8 L625.3,1175.3 L625.8,1172.1 L627.2,1170.4 L627.0,1166.7 L626.0,1163.9 L625.5,1161.1 L625.1,1158.0 L625.4,1155.2 L622.8,1153.2 L620.5,1151.3 L618.7,1148.7 L616.9,1146.5 L614.7,1144.9 L612.9,1142.7 L610.8,1140.8 L608.8,1138.4 L607.0,1136.6 L605.2,1134.6 L606.5,1132.0 L608.7,1130.3 L610.1,1127.9 L612.5,1128.8 L614.9,1130.9 L617.2,1132.2 L619.4,1133.2 L622.9,1134.8 L624.6,1136.0 L628.3,1136.9 L630.4,1137.7 L633.9,1138.1 L637.0,1139.6 L639.9,1139.9 L643.0,1140.4 L645.6,1141.0 L648.5,1141.6 L651.6,1141.4 L654.8,1141.8 L657.1,1142.4 L659.6,1141.9 L661.8,1140.7 L664.6,1140.3 L667.7,1139.6 L669.9,1138.0 L672.0,1137.9 L674.7,1135.3 L675.5,1133.6 L677.8,1131.6 L679.8,1128.8 L681.4,1126.7 L683.6,1125.3 L684.7,1122.3 L685.6,1119.7 L685.5,1117.2 L686.1,1115.3 L686.9,1112.6 L688.8,1110.4 L688.9,1107.9 L690.8,1104.8 L691.6,1102.1 L692.7,1099.5 L693.9,1097.9 L695.1,1094.5 L696.6,1092.2 L698.7,1089.5 L699.6,1087.1 L702.2,1085.0 L703.5,1083.8 L705.9,1081.0 L707.3,1079.6 L709.6,1077.6 L711.9,1076.0 L714.1,1074.2 L716.5,1072.2 L718.3,1070.1 L720.1,1068.2 L722.1,1066.7 L724.6,1064.7 L727.1,1063.7 L728.8,1062.0 L731.1,1059.6 L732.7,1057.3 L733.8,1055.2 L735.5,1053.2 L736.5,1050.7 L738.8,1048.8 L740.2,1045.8 L741.8,1043.0 L743.3,1040.8 L744.8,1037.4 L746.6,1035.0 L748.3,1031.6 L749.6,1029.2 L749.8,1027.7 L752.3,1024.9 L753.5,1023.2 L755.4,1022.1 L756.9,1020.1 L759.4,1018.2 L761.1,1016.4 L762.9,1014.5 L764.5,1012.2 L766.3,1009.3 L768.7,1007.0 L770.4,1004.9 L770.8,1002.1 L771.5,998.5 L771.7,995.5 L772.3,992.1 L772.1,989.3 L771.3,985.9 L771.9,982.8 L771.1,980.0 L770.9,977.1 L770.2,973.4 L769.8,970.7 L769.9,967.3 L769.8,964.6 L769.5,961.1 L768.6,957.1 L770.1,955.3 L770.8,952.2 L771.9,950.4 L775.8,948.6 L778.3,946.0 L781.7,944.5 L783.9,943.2 L786.9,941.1 L789.4,940.2 L792.2,938.4 L794.3,936.7 L797.0,935.2 L798.5,933.8 L801.2,931.8 L803.3,929.5 L806.7,927.4 L809.5,925.2 L811.6,923.6 L815.4,921.9 L818.4,922.4 L821.9,921.6 L824.9,921.4 L827.4,920.8 L829.4,919.1 L831.9,918.6 L834.8,917.5 L837.5,915.7 L840.3,915.0 L841.6,912.7 L844.5,910.0 L846.3,907.1 L848.8,906.7 L852.4,907.0 L855.2,906.3 L858.5,906.3 L861.8,906.5 L865.3,906.6 L868.8,906.2 L871.0,905.2 L874.6,905.4 L878.4,904.5 L882.0,904.4 L884.9,903.9 L887.6,903.0 L890.2,903.3 L893.5,902.7 L896.5,902.9 L897.6,899.7 L898.7,897.9 L900.3,894.6 L902.0,893.1 L903.4,891.2 L905.1,888.9 L907.4,887.2 L906.4,884.4 L904.6,880.7 L901.0,880.7 L896.9,880.4 L894.4,878.9 L892.7,877.5 L895.3,878.0 L897.9,877.9 L901.3,878.9 L904.1,879.5 L907.8,880.0 L910.6,881.1 L912.8,881.4 L916.4,882.6 L916.4,879.0 L917.1,874.7 L918.3,872.0 L920.3,869.7 L920.7,867.0 L921.9,864.5 L924.3,862.9 L925.4,859.9 L927.3,856.9 L928.8,854.6 L929.8,852.5 L931.2,849.7 L932.4,847.4 L933.1,844.6 L935.7,843.2 L936.8,840.1 L938.5,838.6 L939.9,836.4 L939.4,833.5 L939.4,831.1 L940.3,827.5 L939.8,825.4 L939.6,822.7 L941.2,820.5 L942.7,817.1 L944.1,814.7 L944.8,813.0 L946.2,810.7 L947.9,808.4 L949.7,806.0 L951.5,803.9 L950.6,805.1 L950.4,799.7 L950.6,796.6 L950.9,793.4 L951.5,790.6 L952.3,787.0 L953.1,783.7 L953.6,781.3 L954.2,777.3 L955.4,774.7 L955.3,771.8 L954.9,768.3 L954.6,764.8 L953.9,761.8 L953.8,758.4 L953.8,755.5 L953.0,752.8 L953.3,750.1 L952.5,747.0 L953.2,743.9 L953.1,739.9 L953.8,737.0 L952.8,733.4 L952.8,730.9 L952.3,727.4 L952.6,723.7 L953.8,720.4 L954.6,717.2 L956.8,714.4 L959.1,711.5 L961.9,709.5 L964.3,708.9 L967.4,707.8 L969.3,705.2 L971.4,704.1 L973.9,701.4 L975.8,699.5 L977.2,697.4 L978.7,694.9 L980.6,692.2 L982.0,689.9 L983.4,687.0 L985.4,685.0 L986.9,681.8 L987.9,679.4 L990.2,677.5 L991.9,675.3 L993.7,673.3 L996.1,671.1 L998.3,668.9 L1000.6,668.0 L1002.6,666.2 L1005.0,665.2 L1006.7,662.7 L1007.6,660.2 L1009.9,658.4 L1011.4,656.4 L1013.2,653.8 L1015.5,651.5 L1017.7,648.3 L1018.5,646.7 L1020.1,644.3 L1022.1,641.9 L1023.6,639.4 L1025.2,637.8 L1026.8,635.2 L1028.4,632.4 L1030.0,630.1 L1030.6,626.7 L1031.7,623.6 L1031.9,619.4 L1032.8,616.4 L1034.1,612.9 L1034.8,609.8 L1034.1,606.3 L1033.8,603.4 L1033.1,599.9 L1033.2,596.4 L1032.3,593.5 L1031.6,590.2 L1030.7,587.6 L1029.9,585.0 L1028.6,582.1 L1027.6,578.6 L1026.8,576.0 L1026.5,573.3 L1024.4,570.8 L1022.9,568.6 L1020.6,565.8 L1018.7,566.0 L1015.5,565.0 L1012.1,565.6 L1010.2,564.5 L1007.2,564.9 L1003.6,564.2 L1000.2,564.0 L997.1,564.0 L994.9,561.9 L992.6,560.9 L990.2,560.1 L986.9,558.4 L984.9,557.1 L983.0,554.8 L981.7,552.5 L978.8,550.3 L976.9,548.1 L974.9,546.7 L973.4,545.1 L971.2,543.7 L968.8,541.2 L966.8,539.5 L965.3,538.8 L961.8,536.6 L959.8,535.3 L957.6,533.9 L954.9,532.2 L952.6,530.8 L949.5,528.7 L947.8,527.0 L945.1,526.1 L942.6,524.8 L939.8,523.8 L937.1,523.3 L934.7,521.4 L931.9,521.9 L928.6,522.3 L925.2,521.6 L922.1,521.7 L919.6,521.8 L916.1,522.9 L912.9,522.8 L909.7,523.1 L906.3,522.2 L903.6,521.9 L900.3,521.4 L896.8,521.4 L893.3,520.4 L889.6,520.3 L887.2,519.2 L885.0,518.0 L882.4,516.9 L879.8,515.8 L877.4,515.7 L875.0,514.7 L872.3,513.2 L870.0,514.8 L867.5,514.9 L865.4,516.2 L862.7,516.9 L860.2,517.4 L857.6,518.7 L854.7,520.2 L852.3,521.8 L850.4,523.6 L847.6,525.6 L846.0,527.8 L843.4,529.7 L844.4,527.6 L845.8,525.4 L846.5,522.1 L847.5,517.9 L849.2,514.5 L847.8,512.7 L845.7,510.3 L845.1,507.0 L841.9,505.4 L839.8,503.9 L837.7,502.4 L834.9,499.6 L832.7,497.2 L830.1,495.4 L827.7,493.5 L825.1,492.7 L822.0,490.2 L819.9,488.5 L816.1,487.4 L812.9,486.1 L810.4,485.9 L807.2,485.3 L803.3,483.4 L800.7,482.5 L797.2,480.9 L793.9,480.0 L791.0,479.9 L789.1,480.7 L785.7,480.3 L780.5,480.2 L779.0,482.7 L776.7,485.0 L774.6,487.4 L772.8,490.7 L770.8,492.4 L767.7,495.7 L766.6,497.2 L764.3,499.0 L761.8,500.9 L760.5,503.3 L758.8,506.5 L758.0,509.3 L757.0,512.0 L756.5,514.2 L754.9,516.8 L756.6,514.8 L757.0,512.0 L758.7,510.0 L759.8,507.3 L761.0,504.6 L761.7,502.1 L763.0,499.8 L764.1,497.5 L766.7,494.6 L768.3,492.5 L769.6,490.2 L770.5,487.7 L771.3,485.2 L772.9,482.4 L774.0,479.6 L775.1,475.9 L776.8,473.1 L774.0,472.2 L770.7,472.6 L768.9,472.0 L766.1,471.6 L762.8,470.9 L760.4,471.0 L758.1,471.4 L755.3,470.3 L752.7,469.7 L750.3,470.1 L746.9,469.2 L744.8,468.2 L741.8,468.5 L740.1,469.1 L737.4,470.5 L734.8,470.9 L732.4,472.4 L733.6,469.5 L734.2,466.8 L736.2,463.1 L737.4,460.7 L737.6,457.6 L739.0,454.7 L740.3,451.8 L743.9,449.1 L744.9,446.7 L745.9,443.4 L746.7,441.4 L746.9,438.5 L743.7,438.6 L739.7,437.1 L737.1,434.9 L734.5,433.1 L732.7,430.8 L730.6,428.8 L730.0,425.0 L730.5,422.2 L730.3,419.2 L729.4,416.2 L728.5,414.6 L727.6,411.3 L726.9,408.5 L726.3,406.3 L725.7,402.9 L724.3,399.6 L724.0,397.3 L722.7,395.0 L722.5,392.3 L719.8,391.0 L718.1,388.6 L715.9,387.1 L714.6,385.1 L712.2,383.1 L711.0,381.4 L708.2,379.6 L706.5,376.7 L704.8,375.2 L703.2,373.4 L701.3,371.2 L699.2,369.5 L696.9,367.8 L695.3,366.1 L691.5,365.0 L689.0,365.1 L685.8,364.0 L681.9,363.1 L678.8,363.1 L675.7,362.5 L672.6,362.9 L670.0,362.3 L667.2,361.7 L664.3,361.6 L660.5,360.7 L657.4,360.4 L655.2,359.6 L651.9,360.3 L649.2,360.4 L645.9,360.2 L642.8,360.3 L639.9,360.3 L637.4,359.4 L634.9,358.0 L632.9,357.6 L630.3,356.6 L627.0,355.3 L623.8,354.4 L620.9,354.0 L618.0,353.1 L614.6,352.4 L612.1,351.5 L609.7,350.5 L607.0,349.7 L605.3,348.6 L602.2,346.5 L600.1,344.8 L597.8,343.0 L595.1,340.5 L592.0,338.5 L589.8,337.3 L586.0,336.8 L584.4,339.3 L582.7,342.7 L580.6,344.7 L582.0,342.5 L583.7,338.6 L585.0,335.8 L584.0,331.6 L581.7,329.4 L580.3,327.1 L578.2,324.7 L576.3,322.5 L574.3,321.2 L572.9,319.0 L569.6,316.9 L567.2,314.1 L564.8,312.6 L562.7,310.5 L560.3,309.4 L557.9,307.4 L554.6,306.0 L552.4,304.1 L549.9,302.0 L547.9,301.9 L544.4,300.3 L542.2,299.9 L540.3,297.6 L537.7,295.8 L536.5,293.5 L535.0,291.2 L533.4,288.4 L531.4,285.8 L528.4,283.4 L526.9,282.2 L524.0,280.6 L522.7,278.4 L518.8,279.7 L515.0,280.1 L513.4,277.4 L511.7,275.2 L508.5,275.7 L506.6,276.9 L503.2,274.7 L500.9,272.4 L504.1,270.3 L507.1,267.6 L510.6,267.4 L513.0,266.6 L516.2,265.2 L519.6,264.1 L518.8,262.7 L516.4,263.6 L513.6,264.1 L510.5,264.3 L507.8,265.3 L504.9,265.0 L502.7,267.9 L500.4,269.3 L497.8,270.8 L494.9,272.4 L492.5,273.1 L490.0,274.5 L487.5,275.5 L485.2,276.5 L482.2,275.3 L479.0,275.8 L476.1,274.7 L472.8,274.9 L469.9,273.6 L466.7,273.3 L463.9,272.7 L460.9,272.5 L457.6,274.2 L454.9,274.7 L453.0,274.4 L449.9,274.1 L447.6,273.8 L444.9,273.1 L442.5,271.5 L440.5,270.9 L440.5,268.6Z" fill="none" stroke="#666" stroke-width="1.45" stroke-linejoin="round"/>
<path d="M284.9,1272.3 L296.2,1268.5 L298.7,1277.3 L294.9,1287.3 L289.9,1293.5 L281.2,1292.3 L283.7,1282.3Z" fill="none" stroke="#6a6a6a" stroke-width="1.4" stroke-linejoin="round"/>
<path d="M324.9,249.0 L322.4,251.1 L319.8,253.4 L317.4,256.2 L315.3,258.8 L313.5,261.2 L311.1,263.7 L310.3,267.0 L309.3,269.6 L307.9,272.4 L306.8,276.0 L306.0,278.9 L304.9,282.4 L303.3,284.9 L302.6,287.9 L301.1,291.2 L304.3,292.6 L307.4,293.7 L310.2,296.6 L312.4,299.9 L313.8,302.9 L315.0,306.5 L316.1,309.9 L316.5,313.3 L316.8,315.9 L316.8,319.7 L316.9,322.4 L319.1,325.5 L321.1,328.7 L323.9,330.0 L327.2,331.1 L329.9,332.4 L333.0,332.6 L336.4,333.4 L339.8,333.6 L343.0,333.8 L346.8,333.6 L349.8,333.6 L353.5,335.4 L356.8,338.0 L359.8,339.9 L363.5,341.7 L366.9,344.4 L369.8,346.1 L373.1,348.7 L376.1,351.1 L380.0,351.1 L383.1,350.6 L387.3,349.9 L390.1,349.4 L393.8,349.6 L396.6,348.8 L399.8,348.6 L402.7,349.1 L405.9,349.2 L408.9,349.3 L412.3,349.1 L411.5,352.8 L411.0,356.1 L409.2,359.4 L407.0,361.5 L404.8,364.9 L405.5,367.9 L405.9,371.4 L406.0,374.9 L407.2,378.4 L407.9,381.5 L409.2,384.0 L409.8,387.4 L411.2,391.0 L412.2,394.3 L413.5,397.4 L411.1,400.5 L409.8,403.6 L407.3,407.3 L406.2,410.7 L404.8,413.6 L407.1,415.3 L409.6,417.5 L412.3,419.8 L414.4,422.8 L415.4,426.9 L417.3,429.8 L418.6,433.2 L419.3,435.8 L420.0,439.4 L421.0,442.3 L423.2,444.5 L424.8,447.3 L427.7,449.7 L429.8,452.3 L432.9,453.2 L436.4,453.1 L440.0,453.6 M417.3,429.8 L413.5,427.3 L410.6,429.5 L408.6,431.3 L406.0,433.6 L402.7,433.1 L398.5,432.3 L397.3,434.8 L393.9,434.6 L391.0,435.1 L387.9,434.8 L384.9,434.6 L382.1,435.2 L379.6,434.8 L376.3,434.9 L373.4,434.7 L370.1,434.6 L367.3,434.8 L366.8,438.7 L366.7,442.5 L366.8,446.1 L369.8,446.0 L373.0,446.3 L376.3,447.0 L379.8,447.3 L379.5,451.4 L379.8,454.8 L376.9,455.4 L374.0,455.1 L370.7,455.1 L368.1,456.2 L364.8,456.1 L364.3,459.4 L364.3,462.4 L364.0,465.6 L363.6,468.5 L366.2,471.7 L368.6,474.8 L369.6,478.3 L371.1,482.3 L373.1,486.4 L374.8,489.8 L374.5,493.6 L374.4,496.3 L373.6,499.8 L372.7,503.0 L372.5,505.4 L372.2,508.6 L371.9,512.2 L371.1,514.8 L371.0,518.0 L370.5,522.2 L369.6,525.5 L368.8,529.1 L368.6,532.3 L367.8,536.4 L368.0,540.0 L367.3,543.5 M195.5,439.8 L197.7,441.7 L200.3,444.1 L202.4,446.1 L204.5,447.6 L207.1,449.3 L209.9,451.1 L212.4,453.8 L215.1,455.9 L217.4,458.6 L220.3,459.5 L223.7,460.3 L226.5,461.7 L229.9,462.3 L232.9,462.1 L236.2,461.9 L239.9,461.1 L242.1,462.8 L245.3,464.6 L247.4,466.1 L251.5,468.6 L254.9,471.0 L258.4,470.8 L261.7,469.9 L264.9,469.8 L268.9,472.0 L272.4,473.5 L274.9,475.8 L277.5,478.0 L279.9,479.8 L281.7,483.7 L283.6,487.3 L286.4,489.2 L289.8,490.3 L292.4,492.3 L294.8,494.8 L297.8,497.3 L299.9,499.8 L301.4,502.6 L302.4,506.0 L304.3,508.2 L306.2,511.3 L307.4,513.5 L310.4,514.1 L314.4,514.8 L317.4,514.8 L320.5,513.7 L323.7,511.9 L327.4,511.0 L330.9,510.0 L334.8,509.8 L338.3,511.1 L341.7,511.9 L344.8,512.3 L348.6,513.8 L351.8,514.9 L354.8,516.0 L356.9,518.4 L359.8,521.0 L358.2,523.5 L357.6,526.2 L356.4,529.3 L354.8,532.3 L352.1,536.0 L349.8,539.7 L352.8,540.2 L356.1,541.0 L360.2,542.2 L363.7,542.6 L367.3,543.5 M257.4,470.3 L259.4,473.1 L261.9,475.2 L263.6,477.3 L262.4,480.7 L261.2,484.8 L260.6,488.5 L259.7,491.8 L258.7,494.8 L257.0,498.1 L254.1,501.9 L252.4,504.8 L249.9,507.2 L247.8,510.0 L244.9,512.3 L241.1,514.9 L237.4,516.8 L234.5,517.6 L231.1,517.6 L228.0,518.4 L224.9,518.5 L221.9,519.4 L218.8,520.6 L215.1,521.8 L212.4,523.5 L210.0,526.7 L207.2,529.2 L204.9,532.3 L203.5,535.7 L202.4,539.7 L202.2,543.7 L201.2,548.5 L199.9,551.0 L197.9,554.2 L196.2,557.2 L194.1,559.8 L191.2,562.2 L188.0,560.0 L185.0,558.5 L181.5,555.0 L178.7,552.2 L175.9,551.3 L172.8,550.8 L170.0,549.7 L165.0,552.2 L164.0,549.1 L163.7,546.0 L165.4,542.8 L165.8,540.2 L167.5,537.2 L169.4,534.3 L171.2,530.6 L173.7,527.3 M367.3,543.5 L363.5,544.7 L359.5,545.8 L356.1,547.2 L352.0,548.1 L348.5,549.5 L344.8,551.0 L341.8,552.2 L338.2,552.3 L334.8,553.5 L331.9,554.7 L328.6,555.8 L324.9,557.2 L321.7,558.7 L318.7,559.5 L314.9,561.0 L311.4,563.9 L308.6,567.2 L308.1,570.2 L306.8,574.1 L306.1,577.2 L305.0,580.5 L303.7,582.8 L302.4,586.0 L300.2,588.6 L298.2,591.4 L296.1,594.7 L294.3,597.4 L292.3,599.6 L289.9,602.2 L289.3,605.9 L289.0,608.9 L287.9,612.2 L290.0,616.0 L292.4,619.7 L294.4,623.7 L296.1,627.2 L298.1,630.2 L299.3,632.2 L300.6,635.0 L302.4,637.9 M549.9,302.4 L551.3,306.2 L552.4,309.9 L550.0,312.2 L547.9,314.6 L546.0,317.1 L543.7,319.9 L542.8,323.4 L541.2,327.4 L544.6,329.6 L547.4,332.4 L544.7,334.4 L542.5,336.4 L539.9,338.6 L537.1,340.6 L534.4,341.9 L531.2,343.6 L529.9,347.1 L529.0,350.0 L527.4,353.6 L529.5,356.5 L531.5,358.3 L534.1,361.1 L536.2,363.6 L539.4,366.7 L542.4,369.9 L541.7,373.2 L541.2,376.1 L538.5,377.6 L534.9,379.9 L532.1,381.3 L529.0,383.1 L525.9,384.3 L522.4,386.1 L519.5,386.3 L516.3,387.1 L513.0,387.8 L509.9,388.6 L505.8,390.9 L502.5,392.4 L500.7,395.5 L498.7,398.6 L495.4,396.6 L492.6,394.9 L490.0,392.4 L486.5,393.0 L483.9,393.3 L480.9,393.0 L477.5,393.6 L473.8,391.4 L470.0,389.9 L466.2,387.9 L462.5,386.1 L464.3,389.9 L466.2,393.6 L469.4,396.6 L472.5,399.9 L473.1,403.4 L474.3,406.6 L475.0,409.8 L475.4,413.5 L476.9,416.0 L477.5,419.8 L480.7,420.2 L483.7,421.4 L487.0,421.5 L490.0,422.3 L488.7,427.3 L486.1,427.9 L482.9,429.1 L480.0,429.8 L479.0,433.7 L477.5,437.3 L473.3,438.5 L470.0,439.8 L466.3,441.5 L462.5,443.6 L460.0,445.4 L457.9,446.8 L455.0,448.6 L452.4,451.3 L450.0,454.8 L447.3,452.5 L445.0,449.8 L440.0,452.3 M542.4,369.9 L546.1,368.8 L549.9,367.4 L552.1,370.9 L553.7,374.9 L552.8,378.8 L552.4,382.4 L554.8,384.4 L557.0,385.4 L559.9,387.4 L560.9,391.0 L561.8,393.8 L562.4,397.4 L559.7,400.9 L557.4,404.8 L556.6,408.5 L556.0,411.1 L554.9,414.8 L555.6,418.2 L556.2,421.8 L557.4,424.8 L558.3,428.5 L559.9,432.3 L562.1,434.3 L564.6,435.8 L567.4,437.3 L570.6,439.5 L573.4,442.0 L576.1,444.8 L579.3,442.1 L582.4,439.8 L586.4,439.0 L589.9,437.3 L593.3,436.4 L597.0,435.9 L599.9,434.8 L603.6,432.8 L606.3,431.9 L609.9,429.8 L612.9,429.6 L616.1,429.3 L619.9,428.6 M607.9,357.9 L607.1,360.6 L606.4,364.0 L605.5,367.0 L604.9,369.9 L601.3,371.4 L597.8,372.9 L594.9,374.9 L594.3,378.7 L592.9,381.7 L592.2,385.0 L591.1,388.6 L592.8,391.1 L594.2,394.1 L596.3,396.9 L597.4,399.9 L601.4,402.1 L604.9,404.8 L605.9,408.0 L606.6,411.1 L607.4,414.8 L609.5,417.7 L611.3,421.1 L612.7,424.2 L614.9,427.3 L619.9,428.6 L623.6,426.1 L626.6,424.3 L629.6,422.3 L632.4,419.8 L635.8,420.6 L639.9,421.1 L643.3,421.1 L646.5,420.6 L649.5,419.8 L652.3,419.8 L656.0,420.8 L659.8,422.3 M661.1,367.4 L660.9,370.3 L660.2,373.5 L660.5,377.0 L659.8,379.9 L661.2,383.1 L663.5,386.5 L664.8,389.9 L666.2,393.5 L667.7,396.2 L668.6,399.9 L667.4,403.3 L666.3,406.0 L665.8,409.5 L664.8,412.3 L663.2,415.5 L661.2,419.2 L659.8,422.3 L663.8,424.4 L667.3,426.1 L671.1,425.0 L673.8,424.2 L677.3,423.6 L680.4,423.2 L684.3,423.5 L687.3,423.6 L690.0,421.6 L691.9,419.1 L694.8,417.3 L696.5,414.5 L699.0,412.7 L700.3,410.0 L702.3,407.3 L704.4,404.3 L706.9,401.1 L708.5,397.4 L709.2,394.1 L710.5,390.8 L711.7,388.2 L712.3,384.9 M304.9,638.0 L303.9,641.3 L302.4,645.5 L305.8,646.6 L308.5,647.2 L312.2,648.1 L314.9,649.2 L317.2,651.6 L320.2,653.9 L322.4,656.7 L325.6,655.9 L328.8,656.3 L332.3,655.5 L335.9,654.4 L339.0,652.6 L342.3,651.7 L345.5,650.9 L348.0,649.4 L350.7,649.0 L353.6,647.5 L353.8,650.6 L353.1,654.1 L352.6,656.6 L352.9,660.0 L352.3,663.0 L352.4,665.9 L353.0,668.6 L352.7,672.1 L352.9,674.8 L353.6,678.0 L356.4,677.6 L359.0,676.5 L362.3,675.5 L366.3,676.2 L371.1,676.7 L374.9,677.2 L378.5,677.6 L382.3,678.0 L385.7,677.5 L389.0,677.6 L391.3,677.0 L394.8,676.7 L397.8,673.6 L401.0,670.5 L405.1,670.1 L409.0,668.7 L412.3,668.0 L414.7,664.7 L416.9,662.3 L419.8,659.2 L422.8,657.9 L426.9,657.0 L429.8,655.5 L433.0,654.8 L436.5,653.9 L440.0,653.5 M371.1,676.7 L372.8,679.2 L373.8,682.1 L374.8,684.8 L376.1,688.0 L378.5,691.5 L380.6,694.7 L382.3,698.0 L384.8,701.9 L387.3,705.4 L385.0,709.1 L383.6,712.9 L383.5,716.4 L382.7,719.0 L382.9,721.9 L382.3,725.4 L383.1,728.2 L383.5,731.7 L384.3,735.0 L384.8,737.9 L383.1,740.9 L381.6,744.8 L379.8,747.9 L377.7,752.1 L376.1,755.4 L377.8,758.9 L378.6,762.9 L377.9,765.7 L376.6,769.0 L375.3,771.8 L374.6,774.7 L373.6,777.9 L373.2,781.0 L372.7,783.9 L372.6,786.8 L372.3,789.8 L372.3,792.9 L371.5,796.4 L370.8,800.5 L369.8,804.1 L372.7,807.5 L376.1,810.4 L377.7,813.2 L380.6,815.6 L382.3,817.9 M382.3,817.9 L379.4,818.6 L376.0,820.1 L372.9,821.1 L369.8,821.6 L366.7,821.8 L363.2,822.9 L359.2,823.7 L356.1,824.1 M382.3,817.9 L384.3,820.8 L385.5,824.8 L387.3,827.9 L388.7,831.6 L390.6,834.5 L392.3,837.9 L391.4,841.4 L390.5,843.7 L389.5,847.2 L388.6,850.3 L389.7,853.6 L390.8,856.8 L392.0,859.9 L393.6,862.8 L395.0,866.1 L396.3,868.7 L397.5,871.8 L398.5,875.3 L399.0,878.6 L399.7,881.1 L400.6,884.4 L401.2,886.9 L402.3,890.3 L403.7,894.0 L405.6,896.6 L407.3,900.3 L411.1,901.1 L414.8,902.8 L418.1,901.3 L421.0,900.3 L425.6,899.8 L429.8,899.1 L433.1,898.7 L436.2,898.3 L440.0,897.8 M414.8,902.8 L416.1,905.2 L418.4,907.4 L419.8,910.3 L417.7,913.5 L416.6,917.0 L414.8,920.3 L412.5,922.2 L409.7,923.8 L407.1,925.5 L404.8,927.8 L402.7,929.8 L400.2,931.5 L397.7,933.3 L394.8,935.3 L393.0,938.2 L391.8,940.1 L389.8,942.8 L391.2,946.3 L392.4,949.2 L393.6,952.8 L393.0,955.8 L392.0,959.5 L391.1,962.8 L392.6,966.1 L394.0,969.4 L394.8,972.7 L394.3,975.9 L393.4,979.4 L392.3,982.7 L388.9,983.6 L384.8,985.2 L383.8,988.7 L382.3,992.0 L381.1,995.2 L379.8,1000.2 M440.0,653.5 L443.3,652.7 L447.4,652.9 L451.2,652.5 L452.5,658.0 L451.7,660.9 L450.9,663.9 L450.5,667.1 L450.0,670.5 L450.5,674.1 L451.3,676.5 L452.1,679.6 L452.5,683.0 L454.0,686.5 L456.1,689.6 L457.5,693.0 L460.1,695.1 L462.7,697.2 L465.0,699.2 L468.3,700.9 L471.7,701.4 L475.0,703.0 L478.3,704.1 L480.9,705.0 L484.0,706.1 L487.5,706.7 L490.9,708.8 L494.0,710.1 L497.5,711.7 L500.4,713.4 L503.7,716.0 L507.4,717.9 L511.2,719.9 L514.5,722.1 L517.4,724.2 L520.2,724.5 L524.0,724.9 L527.0,725.1 L529.9,725.4 L533.0,726.5 L536.8,728.0 L539.9,729.2 L542.1,732.3 L544.9,735.4 L546.1,739.1 L546.8,742.5 L547.4,745.4 L547.9,750.0 L548.7,754.2 L543.7,755.4 L545.8,757.7 L548.2,760.7 L549.9,762.9 L549.8,765.6 L550.1,769.0 L550.5,772.2 L551.2,775.4 L554.4,775.2 L557.1,775.4 L560.2,776.2 L563.6,775.8 L566.2,776.2 L569.6,776.8 L572.5,776.9 L576.1,777.0 L579.0,776.8 L581.6,777.2 L584.9,777.4 L584.0,780.7 L583.9,784.2 L583.6,787.9 L585.3,791.0 L586.2,794.4 L587.4,797.9 L591.2,799.7 L594.9,801.6 L595.9,804.1 L597.6,807.1 L599.1,809.9 L599.9,812.9 L598.6,817.0 L597.5,819.9 L596.1,824.1 L595.2,828.2 L593.3,831.7 L592.4,835.4 L591.8,838.9 L590.9,841.6 L589.9,845.3 M589.9,845.3 L587.4,844.0 L584.5,841.6 L582.4,840.3 L579.5,839.1 L576.3,838.7 L573.0,837.6 L569.9,836.6 L567.2,836.0 L563.6,835.9 L561.3,835.5 L557.5,835.9 L554.9,835.4 L551.8,836.3 L548.0,836.0 L544.7,837.0 L540.7,837.2 L537.4,837.9 L534.0,838.6 L530.0,839.3 L526.6,839.7 L523.3,840.6 L519.9,841.6 L518.4,843.9 L517.0,847.4 L515.5,849.9 L514.2,852.6 L512.5,855.0 L511.2,857.8 L510.4,860.6 L510.3,863.6 L509.8,866.6 L509.2,870.1 L508.7,872.8 L507.5,875.6 L506.8,879.2 L506.9,881.9 L505.5,885.2 L505.0,887.8 L500.0,886.6 L496.7,887.0 L493.7,886.2 L490.5,886.6 L487.6,886.5 L484.8,886.8 L482.2,886.3 L478.7,886.6 L476.7,889.3 L475.0,892.8 L473.9,896.4 L472.7,899.2 L471.2,902.8 L470.3,899.9 L468.4,895.9 L467.5,892.8 L463.4,891.1 L460.0,889.1 L456.9,889.8 L453.0,889.7 L450.0,890.3 L446.6,892.4 L443.5,894.3 L440.0,896.6 M589.9,845.3 L591.3,849.1 L592.6,851.9 L593.6,855.3 L593.3,858.1 L593.4,861.8 L592.7,864.6 L592.4,867.8 L593.2,871.5 L593.7,874.0 L594.9,877.8 L594.0,881.0 L593.7,884.6 L593.6,887.8 L597.1,888.5 L601.1,889.3 L604.9,890.3 L607.7,891.0 L610.9,891.1 L614.6,891.3 L617.4,891.6 L620.2,891.1 L623.3,889.9 L626.1,889.1 L629.7,891.0 L632.3,893.5 L636.1,895.3 L637.5,899.1 L639.1,902.9 L639.9,906.5 L640.5,909.6 L641.1,913.2 L641.6,916.9 L642.3,920.3 L645.9,921.9 L649.8,924.0 L653.2,923.2 L656.1,922.5 L659.8,921.5 L661.4,924.3 L663.6,927.8 L663.1,931.4 L662.3,934.1 L661.1,937.8 L660.6,941.5 L660.3,944.6 L659.8,947.8 L662.3,949.2 L664.8,951.0 L667.3,952.8 L669.1,956.5 L670.5,959.4 L672.3,962.8 L672.4,966.2 L673.0,970.5 L673.6,974.0 M505.0,887.8 L507.2,890.5 L508.5,892.9 L510.8,895.6 L512.7,897.4 L514.9,900.3 L517.0,902.7 L520.1,904.9 L522.0,907.8 L524.9,910.3 L527.2,912.7 L530.1,914.3 L532.2,917.1 L534.9,919.0 L537.6,921.0 L541.0,922.0 L544.6,924.1 L547.4,925.3 L550.0,926.1 L553.4,927.4 L556.6,928.2 L559.2,929.5 L562.4,930.3 L565.8,932.3 L568.7,934.1 L571.8,936.2 L574.9,937.8 L577.6,939.5 L581.5,940.8 L584.3,942.6 L587.4,944.0 L590.0,947.4 L592.1,949.7 L594.9,952.8 L593.8,956.0 L593.6,959.2 L593.4,962.2 L592.4,965.3 L590.9,968.2 L589.0,971.7 L587.4,975.2 L586.4,978.5 L585.0,981.0 L583.4,983.7 L582.4,986.5 L585.7,987.4 L588.5,987.9 L591.9,988.1 L594.9,989.0 L598.1,989.6 L601.6,989.7 L605.6,990.8 L608.9,990.7 L612.4,991.5 L615.2,991.6 L618.9,990.8 L621.5,990.6 L624.9,990.2 L627.8,989.7 L630.9,988.7 L634.3,988.4 L637.4,987.7 L640.2,985.3 L642.7,983.3 L645.3,981.3 L647.2,979.8 L649.8,977.7 L652.6,977.0 L656.1,976.6 L658.7,976.1 L662.2,975.5 L664.8,975.2 L669.5,974.5 L673.6,974.0 M673.6,974.0 L673.0,977.6 L671.5,981.1 L671.1,984.0 L668.5,985.8 L665.8,987.0 L662.5,988.9 L659.8,990.2 L657.5,992.5 L655.1,994.8 L652.3,997.7 L649.6,999.5 L646.5,1001.8 L643.2,1003.5 L639.9,1005.2 L637.8,1007.8 L634.8,1010.1 L632.4,1012.7 L630.0,1015.4 L627.8,1017.8 L624.9,1020.2 L622.5,1021.8 L619.7,1024.0 L617.2,1026.1 L614.9,1027.7 L612.1,1030.0 L609.1,1032.4 L606.1,1035.2 L603.7,1037.9 L602.4,1040.3 L599.9,1042.7 L603.3,1042.2 L605.9,1041.2 L608.9,1041.2 L612.4,1040.2 L615.0,1042.3 L617.2,1043.6 L620.1,1046.1 L622.4,1047.7 L624.3,1050.3 L625.8,1052.9 L628.1,1055.2 L629.9,1057.7 L633.2,1058.6 L636.8,1059.6 L639.9,1060.2 L642.3,1061.7 L644.8,1063.7 L647.3,1065.7 L649.8,1067.7 L652.6,1070.7 L654.5,1073.4 L657.3,1075.9 M599.9,1042.7 L597.8,1046.3 L596.8,1049.8 L594.9,1052.7 L593.4,1055.6 L592.3,1059.0 L591.1,1062.7 L591.2,1065.7 L590.9,1069.0 L590.0,1072.8 L589.9,1075.9 M379.9,1000.0 L377.7,1002.6 L376.3,1004.8 L374.1,1007.6 L372.4,1010.0 L371.0,1013.6 L369.3,1016.2 L367.4,1020.0 L365.7,1023.1 L364.2,1026.5 L362.4,1030.0 L362.3,1033.2 L362.7,1035.9 L363.4,1039.0 L363.6,1042.5 L361.9,1046.3 L359.3,1049.3 L357.4,1052.5 L355.4,1056.3 L353.8,1059.3 L352.4,1062.5 L353.0,1065.3 L353.2,1068.5 L353.8,1071.6 L354.9,1074.9 L356.2,1077.9 L357.6,1081.3 L359.0,1084.3 L359.9,1087.4 L360.2,1090.5 L361.6,1093.7 L362.1,1096.7 L362.4,1099.9 L363.8,1102.7 L366.1,1104.9 L365.3,1108.4 L363.3,1111.6 L362.4,1114.9 L360.8,1118.0 L358.9,1121.8 L357.4,1124.9 L356.2,1127.9 L355.4,1131.2 L354.4,1134.6 L353.6,1137.4 L354.2,1140.5 L355.0,1143.5 L355.5,1146.4 L356.1,1149.9 L354.5,1153.1 L353.3,1156.6 L351.3,1159.0 L349.9,1162.4 L346.5,1163.9 L342.4,1164.9 L342.0,1167.8 L340.6,1171.5 L339.9,1174.9 L340.7,1178.4 L342.1,1181.6 L343.6,1184.9 L343.1,1188.0 L343.0,1191.3 L342.4,1194.9 L341.0,1197.9 L340.7,1200.7 L339.6,1203.9 L338.6,1207.3 L337.8,1210.1 L337.1,1213.9 L336.7,1217.0 L336.1,1219.8 L335.6,1223.3 L333.9,1225.8 L333.1,1229.5 L332.4,1232.3 L331.4,1235.6 L330.4,1238.4 L329.8,1242.1 L328.7,1244.8 L328.4,1247.5 L327.6,1251.0 L327.0,1254.0 L326.2,1257.3 L325.3,1260.0 L324.7,1263.4 L323.8,1266.8 L322.4,1269.8 L322.1,1273.3 L321.4,1275.8 L321.2,1278.8 L321.2,1282.3 L322.1,1285.1 L323.4,1288.8 L323.8,1291.7 L324.9,1294.8 L326.0,1298.1 L327.8,1301.0 L328.8,1304.6 L329.9,1307.3 L329.4,1310.3 L328.6,1313.5 L327.8,1316.6 L327.4,1319.8 L330.6,1320.6 L333.0,1321.8 L336.1,1322.3 L337.2,1326.3 L338.6,1329.8 L336.7,1332.9 L335.6,1335.8 L334.0,1338.8 L332.4,1342.2 L331.5,1345.6 L330.9,1348.7 L330.1,1351.1 L329.9,1354.7 L328.6,1358.0 L327.5,1360.6 L325.9,1363.9 L324.9,1367.2 L323.0,1369.9 L321.4,1372.4 L319.1,1375.1 L317.4,1377.2 L315.7,1380.4 L315.1,1383.2 L314.0,1386.6 L312.4,1389.7 L313.3,1392.6 L314.7,1396.0 L316.2,1399.7 L314.2,1403.2 L312.2,1406.0 L309.9,1409.7 L309.0,1413.0 L308.5,1415.7 L307.8,1418.7 L307.4,1422.2 L307.5,1425.6 L308.8,1428.2 L309.2,1431.4 L309.4,1434.3 L309.9,1437.9 M329.9,1300.0 L329.8,1303.5 L329.4,1306.7 L328.7,1310.0 L331.2,1311.3 L334.1,1312.2 L336.7,1314.1 L339.9,1315.0 L338.4,1317.8 L337.4,1321.2 L334.3,1321.1 L331.0,1321.6 L328.4,1322.6 L324.9,1322.5 L328.1,1323.9 L331.5,1325.4 L334.9,1327.5 L333.9,1330.9 L332.6,1334.2 L331.2,1337.5 L330.5,1340.6 L330.8,1343.5 L330.1,1347.0 L329.9,1350.0 L329.2,1353.2 L329.1,1356.1 L328.8,1359.6 L328.7,1362.5 L326.6,1366.1 L324.6,1368.9 L322.4,1372.4 L320.0,1375.0 L318.3,1377.6 L316.2,1379.9 L316.9,1383.0 L316.8,1385.9 L317.5,1389.3 L317.4,1392.4 L315.3,1394.6 L313.8,1397.8 L311.5,1400.1 L309.9,1402.4 L306.8,1404.1 L303.2,1405.4 L299.9,1407.4 L298.4,1410.5 L297.3,1413.9 L296.2,1417.4 L297.2,1420.6 L297.6,1423.5 L298.3,1427.0 L298.7,1429.9 L301.7,1432.5 L304.9,1434.9 L307.7,1435.1 L311.2,1434.7 L314.7,1435.1 L317.4,1434.9 L317.9,1438.5 L319.2,1441.5 L319.9,1444.9 L319.5,1448.4 L318.2,1451.9 L317.4,1454.9 L320.5,1455.7 L323.5,1456.6 L326.7,1457.3 L329.9,1458.6 L332.8,1458.2 L335.9,1458.8 L339.1,1458.2 L342.1,1458.9 L344.9,1458.6 L347.5,1458.4 L350.6,1458.8 L354.2,1458.9 L356.9,1458.5 L359.9,1458.6 L363.2,1458.7 L366.3,1459.3 L369.9,1459.9 L372.0,1458.0 L374.9,1456.2 L377.2,1454.7 L379.9,1452.4 L382.3,1454.7 L385.1,1455.8 L387.7,1457.9 L389.9,1459.9 M389.9,1492.4 L390.1,1495.9 L389.5,1498.6 L390.2,1502.3 L390.1,1505.4 L390.1,1508.0 L389.6,1511.9 L389.9,1514.8" fill="none" stroke="#6b6b66" stroke-width="1.15" stroke-linejoin="round"/>
<path d="M740.3,451.6 L730.6,461.9 L720.9,470.3 L724.2,477.4 L719.0,487.7 L708.7,494.1 L693.2,498.0" fill="none" stroke="#686868" stroke-width="2.4" stroke-linejoin="round" stroke-linecap="round"/>
<path d="M720.9,470.3 L712.5,483.8 L708.7,490.3 L700.9,496.7 L693.2,498.0" fill="none" stroke="#686868" stroke-width="2.4" stroke-linejoin="round" stroke-linecap="round"/>
<path d="M730.6,467.0 L725.4,472.2 L726.7,479.9 L721.6,487.7" fill="none" stroke="#686868" stroke-width="2.4" stroke-linejoin="round" stroke-linecap="round"/>
<path d="M731.9,472.2 L730.6,479.9 L730.0,490.3 L731.9,499.3 L737.0,503.1 L749.9,501.9 L760.3,499.3 L762.8,499.3" fill="none" stroke="#686868" stroke-width="2.4" stroke-linejoin="round" stroke-linecap="round"/>
<path d="M731.9,499.3 L725.4,501.9 L719.0,499.9 L716.4,505.7 L717.7,510.9" fill="none" stroke="#686868" stroke-width="2.4" stroke-linejoin="round" stroke-linecap="round"/>
<path d="M728.0,503.1 L725.4,509.6 L726.7,514.7 L729.3,514.7" fill="none" stroke="#686868" stroke-width="2.4" stroke-linejoin="round" stroke-linecap="round"/>
<path d="M737.0,460.6 L743.5,456.7 L739.6,463.2 L749.9,460.6 L747.4,465.8 L755.1,467.0" fill="none" stroke="#686868" stroke-width="2.4" stroke-linejoin="round" stroke-linecap="round"/>
<path d="M768.0,495.4 L775.7,496.1 L780.9,495.4" fill="none" stroke="#686868" stroke-width="2.4" stroke-linejoin="round" stroke-linecap="round"/>
<path d="M832.4,496.2 L836.2,499.9 L833.7,503.7 L839.9,506.2 L837.4,509.9 L844.9,511.2 L843.7,516.1 L848.7,517.4" fill="none" stroke="#686868" stroke-width="2.4" stroke-linejoin="round" stroke-linecap="round"/>
<path d="M848.7,514.9 L852.4,519.9 L857.4,516.1 L861.2,519.9 L867.4,516.9 L871.2,514.9" fill="none" stroke="#686868" stroke-width="2.4" stroke-linejoin="round" stroke-linecap="round"/>
<path d="M844.9,529.9 L847.9,523.6 L851.2,526.1" fill="none" stroke="#686868" stroke-width="2.4" stroke-linejoin="round" stroke-linecap="round"/>
<path d="M787.5,479.9 L792.5,482.4 L800.0,481.2 L806.2,484.9 L812.5,486.2 L818.7,489.9 L824.9,492.4" fill="none" stroke="#686868" stroke-width="2.4" stroke-linejoin="round" stroke-linecap="round"/>
<path d="M879.9,516.1 L881.2,521.1 L884.9,519.9 L899.9,521.9 L902.4,524.9" fill="none" stroke="#686868" stroke-width="2.4" stroke-linejoin="round" stroke-linecap="round"/>
<path d="M170.0,515.3 L174.5,512.3 L177.5,515.3 L176.5,522.3 L174.0,529.3 L171.5,532.3 L170.0,527.8 L172.0,522.3Z" fill="#6e6e6e" stroke="#6e6e6e" stroke-width="1" stroke-linejoin="round"/>
<path d="M522.4,304.4 L527.4,302.4 L533.7,298.7 L536.2,293.7 L539.9,299.9 L544.9,303.7 L539.9,307.4 L534.9,309.9 L527.4,308.7Z" fill="#6e6e6e" stroke="#6e6e6e" stroke-width="1" stroke-linejoin="round"/>
<path d="M450.0,259.0 L455.5,258.5 L455.5,260.5 L450.5,260.7Z" fill="#6e6e6e" stroke="#6e6e6e" stroke-width="1" stroke-linejoin="round"/>
<path d="M276.7,1365.1 L276.5,1367.8 L276.7,1368.6 L274.1,1373.5 L274.2,1374.0 L274.1,1375.9 L271.1,1377.0 L267.9,1377.0 L265.4,1380.4 L262.6,1381.0 L260.5,1379.9 L258.3,1382.7 L256.5,1383.4 L258.0,1387.3 L257.1,1391.1 L256.8,1393.7 L255.4,1395.9 L255.2,1398.8 L256.2,1398.6 L254.2,1401.5 L257.2,1404.7 L256.5,1406.8 L256.5,1409.5 L256.3,1412.7 L257.4,1416.2 L258.1,1418.8 L259.4,1421.5 L259.5,1421.3 L260.8,1426.4 L261.7,1427.6 L261.8,1429.0 L262.8,1432.6 L261.8,1433.5 L264.0,1439.0 L262.0,1440.9 L263.5,1441.3 L263.5,1445.8 L265.8,1445.9 L265.4,1448.4 L266.4,1451.9 L267.7,1456.4 L267.2,1459.0 L267.4,1458.5 L269.0,1460.9 L269.0,1464.6 L271.6,1466.3 L271.0,1471.1 L273.1,1473.9 L277.1,1474.5 L277.8,1477.5 L280.5,1480.2 L282.2,1482.3 L285.4,1483.9 L285.8,1486.6 L287.2,1487.3 L291.5,1490.0 L292.3,1489.8 L294.0,1493.0 L294.8,1494.6 L298.9,1494.2 L301.1,1496.9 L303.3,1498.0 L305.6,1500.7 L305.9,1499.7 L310.5,1503.8 L311.6,1503.5 L315.2,1504.3 L317.0,1505.5 L319.5,1507.6 L321.8,1507.7 L325.8,1507.5 L327.6,1510.6 L329.3,1509.7 L333.4,1510.6 L333.9,1512.1 L338.0,1511.9 L339.3,1513.4 L343.5,1514.6 L346.0,1514.6 L346.9,1516.9 L351.1,1517.1 L351.5,1516.9 L355.0,1518.0 L358.4,1520.9 L358.9,1519.9 L363.4,1521.9 L365.9,1521.8 L366.2,1522.1 L370.8,1522.4 L371.9,1523.3 L374.6,1523.7 L378.7,1523.3 L378.3,1526.2 L383.6,1526.9 L384.7,1527.2 L388.8,1525.4 L390.7,1527.9 L392.9,1527.4 L394.2,1527.3 L396.5,1526.9 L400.2,1528.1 L403.4,1527.8 L406.2,1530.4 L409.1,1530.8 L411.8,1529.4 L411.7,1529.7 L415.0,1528.0 L416.0,1525.5 L414.6,1523.7 L412.8,1521.3 L409.1,1522.5 L407.3,1521.7 L404.4,1519.3 L402.5,1520.8 L398.8,1519.7 L398.7,1518.8 L395.9,1515.2 L392.8,1517.0 L388.5,1514.1 L386.7,1513.9 L384.7,1512.7 L383.3,1510.2 L378.5,1509.6 L376.2,1508.4 L376.4,1509.4 L371.1,1506.8 L369.3,1504.7 L366.9,1504.3 L365.2,1501.9 L361.4,1500.8 L358.7,1500.5 L358.1,1499.0 L353.6,1497.4 L352.0,1497.7 L350.8,1496.0 L348.4,1495.8 L344.7,1494.0 L342.4,1494.0 L339.6,1493.0 L337.8,1490.1 L336.0,1490.0 L332.5,1487.7 L331.7,1487.6 L331.3,1484.5 L329.2,1483.8 L325.1,1480.8 L322.7,1479.9 L322.4,1478.1 L320.8,1475.4 L319.1,1473.1 L315.6,1471.2 L313.8,1467.8 L314.8,1465.4 L311.1,1463.6 L312.1,1461.9 L307.9,1462.0 L306.7,1460.0 L307.0,1458.0 L306.3,1455.2 L304.4,1450.9 L302.8,1449.9 L301.1,1446.1 L299.7,1446.3 L296.0,1441.8 L296.9,1440.9 L295.1,1436.4 L294.4,1435.3 L295.3,1432.1 L293.3,1429.6 L293.0,1427.1 L292.0,1424.9 L294.6,1422.1 L293.7,1418.8 L293.3,1418.2 L293.1,1415.0 L292.0,1412.9 L292.9,1408.8 L290.0,1408.2 L292.2,1405.0 L290.2,1403.1 L289.0,1399.2 L288.8,1397.7 L288.9,1394.0 L289.8,1393.9 L288.3,1390.6 L288.4,1388.5 L288.7,1384.2 L287.3,1380.9 L287.9,1379.5 L286.7,1377.0 L286.9,1375.8 L286.9,1374.0 L288.4,1370.3 L288.9,1368.5 L290.5,1365.2 L289.9,1363.2 L288.6,1362.7 L285.7,1365.0 L282.4,1363.1 L279.2,1365.2Z" fill="#6e6e6e" stroke="#6e6e6e" stroke-width="1" stroke-linejoin="round"/>
<path d="M302.9,1319.1 L301.8,1318.8 L301.1,1318.2 L300.9,1317.6 L300.7,1316.4 L302.0,1316.1 L302.5,1317.1 L303.6,1317.8Z" fill="#6e6e6e" stroke="#6e6e6e" stroke-width="1" stroke-linejoin="round"/>
<path d="M289.1,1348.5 L289.5,1347.0 L291.7,1345.4 L291.6,1348.6 L291.7,1350.5 L290.2,1351.4 L288.5,1350.6Z" fill="#6e6e6e" stroke="#6e6e6e" stroke-width="1" stroke-linejoin="round"/>
<path d="M298.0,1317.0 L300.0,1316.6 L302.0,1317.3 L301.9,1319.8 L300.6,1322.3 L298.7,1321.5 L296.7,1320.3 L295.8,1318.1Z" fill="#6e6e6e" stroke="#6e6e6e" stroke-width="1" stroke-linejoin="round"/>
<path d="M271.9,1345.8 L273.4,1346.2 L275.4,1345.4 L275.5,1348.0 L274.4,1349.1 L272.9,1350.3 L272.2,1348.4 L271.5,1347.2Z" fill="#6e6e6e" stroke="#6e6e6e" stroke-width="1" stroke-linejoin="round"/>
<path d="M273.0,1325.0 L273.0,1323.2 L274.0,1321.9 L275.8,1321.6 L275.7,1323.5 L275.3,1326.2Z" fill="#6e6e6e" stroke="#6e6e6e" stroke-width="1" stroke-linejoin="round"/>
<path d="M296.5,1338.3 L296.9,1338.8 L297.3,1339.6 L297.3,1340.9 L296.2,1341.1 L295.4,1340.7 L295.0,1339.8 L294.9,1338.7 L295.4,1337.4Z" fill="#6e6e6e" stroke="#6e6e6e" stroke-width="1" stroke-linejoin="round"/>
<path d="M287.2,1309.4 L288.6,1307.6 L290.1,1307.6 L292.4,1307.7 L292.3,1310.8 L290.8,1312.2 L287.9,1312.5Z" fill="#6e6e6e" stroke="#6e6e6e" stroke-width="1" stroke-linejoin="round"/>
<path d="M284.2,1359.2 L285.4,1358.2 L286.5,1359.7 L285.9,1361.4 L285.4,1363.7 L283.9,1362.5 L283.0,1361.1 L283.7,1360.3Z" fill="#6e6e6e" stroke="#6e6e6e" stroke-width="1" stroke-linejoin="round"/>
<path d="M282.8,1347.9 L281.4,1348.6 L280.5,1347.1 L281.1,1345.9 L280.7,1343.6 L282.5,1344.2 L284.5,1343.3 L283.9,1346.1 L284.6,1348.1Z" fill="#6e6e6e" stroke="#6e6e6e" stroke-width="1" stroke-linejoin="round"/>
<path d="M288.3,1335.1 L287.1,1335.1 L285.3,1335.4 L284.4,1333.4 L286.2,1331.9 L287.7,1332.3 L288.8,1333.7Z" fill="#6e6e6e" stroke="#6e6e6e" stroke-width="1" stroke-linejoin="round"/>
<path d="M283.2,1311.0 L282.8,1313.4 L282.8,1316.5 L280.3,1316.4 L279.0,1313.8 L279.2,1312.1 L280.1,1311.4 L281.6,1311.0Z" fill="#6e6e6e" stroke="#6e6e6e" stroke-width="1" stroke-linejoin="round"/>
<path d="M289.6,1310.0 L287.5,1312.4 L287.2,1309.0 L287.8,1306.2 L290.7,1304.9 L290.3,1309.1Z" fill="#6e6e6e" stroke="#6e6e6e" stroke-width="1" stroke-linejoin="round"/>
<path d="M288.8,1362.8 L287.9,1363.0 L286.9,1362.3 L286.8,1360.9 L287.9,1360.2 L288.7,1360.8 L289.7,1361.0 L289.4,1362.2Z" fill="#6e6e6e" stroke="#6e6e6e" stroke-width="1" stroke-linejoin="round"/>
<path d="M275.1,1353.5 L276.3,1355.1 L274.6,1355.2 L273.5,1356.2 L272.2,1355.7 L272.8,1353.8 L273.1,1352.9 L273.5,1350.4 L275.5,1351.8Z" fill="#6e6e6e" stroke="#6e6e6e" stroke-width="1" stroke-linejoin="round"/>
<path d="M264.0,1351.0 L264.6,1348.7 L266.4,1350.3 L268.8,1350.3 L267.1,1352.3 L267.1,1355.4 L264.4,1354.7 L262.3,1353.2Z" fill="#6e6e6e" stroke="#6e6e6e" stroke-width="1" stroke-linejoin="round"/>
<path d="M297.7,1335.2 L298.4,1333.8 L299.0,1335.2 L299.3,1336.2 L298.7,1337.6 L297.4,1337.2 L296.9,1336.2Z" fill="#6e6e6e" stroke="#6e6e6e" stroke-width="1" stroke-linejoin="round"/>
<path d="M292.5,1331.3 L291.4,1328.2 L292.5,1326.8 L294.1,1325.0 L295.0,1327.1 L295.7,1330.7Z" fill="#6e6e6e" stroke="#6e6e6e" stroke-width="1" stroke-linejoin="round"/>
<path d="M275.0,1352.8 L274.3,1352.1 L274.2,1351.3 L274.4,1350.3 L275.4,1350.4 L276.4,1351.2 L276.1,1352.7Z" fill="#6e6e6e" stroke="#6e6e6e" stroke-width="1" stroke-linejoin="round"/>
<path d="M272.3,1314.8 L272.4,1311.7 L274.7,1311.9 L275.9,1313.2 L277.7,1313.2 L277.5,1315.2 L276.0,1315.8 L275.1,1316.4 L273.8,1316.3Z" fill="#6e6e6e" stroke="#6e6e6e" stroke-width="1" stroke-linejoin="round"/>
<path d="M297.0,1319.9 L297.2,1320.8 L296.5,1321.3 L295.7,1322.4 L294.5,1321.5 L294.3,1320.1 L295.0,1319.0 L296.4,1318.7Z" fill="#6e6e6e" stroke="#6e6e6e" stroke-width="1" stroke-linejoin="round"/>
<path d="M277.6,1354.7 L275.3,1356.3 L273.9,1356.1 L271.5,1354.1 L273.2,1350.9 L276.3,1351.9Z" fill="#6e6e6e" stroke="#6e6e6e" stroke-width="1" stroke-linejoin="round"/>
<path d="M288.2,1355.9 L287.1,1354.1 L286.3,1353.2 L286.5,1350.9 L288.1,1350.8 L289.0,1352.0 L290.6,1353.1 L290.0,1355.3Z" fill="#6e6e6e" stroke="#6e6e6e" stroke-width="1" stroke-linejoin="round"/>
<path d="M278.4,1346.5 L278.9,1344.3 L277.5,1342.3 L279.6,1340.2 L281.6,1342.0 L282.7,1342.9 L283.7,1344.7 L281.6,1345.6 L280.5,1346.5Z" fill="#6e6e6e" stroke="#6e6e6e" stroke-width="1" stroke-linejoin="round"/>
<path d="M285.8,1319.7 L285.8,1317.9 L288.0,1317.7 L288.8,1319.4 L288.5,1322.0 L286.6,1321.1Z" fill="#6e6e6e" stroke="#6e6e6e" stroke-width="1" stroke-linejoin="round"/>
<path d="M301.7,1321.8 L301.4,1323.0 L300.3,1324.0 L299.6,1322.6 L299.6,1321.6 L300.7,1320.2Z" fill="#6e6e6e" stroke="#6e6e6e" stroke-width="1" stroke-linejoin="round"/>
<path d="M297.8,1303.9 L298.9,1302.0 L300.0,1301.6 L300.9,1302.4 L301.5,1304.2 L299.8,1304.5Z" fill="#6e6e6e" stroke="#6e6e6e" stroke-width="1" stroke-linejoin="round"/>
<path d="M265.6,1340.7 L266.6,1341.9 L265.5,1342.6 L264.1,1343.9 L263.9,1342.0 L264.0,1341.1 L264.6,1339.7Z" fill="#6e6e6e" stroke="#6e6e6e" stroke-width="1" stroke-linejoin="round"/>
<path d="M292.2,1321.8 L293.1,1321.1 L293.8,1321.3 L294.5,1321.5 L294.9,1322.3 L294.4,1323.5 L293.5,1323.3 L292.4,1322.9Z" fill="#6e6e6e" stroke="#6e6e6e" stroke-width="1" stroke-linejoin="round"/>
<path d="M298.6,1312.1 L300.0,1309.9 L301.0,1306.4 L303.3,1309.0 L303.6,1311.8 L301.2,1313.2Z" fill="#6e6e6e" stroke="#6e6e6e" stroke-width="1" stroke-linejoin="round"/>
<path d="M271.0,1332.6 L272.3,1332.0 L273.9,1332.3 L275.3,1333.6 L273.8,1335.0 L273.0,1336.1 L271.6,1335.9 L271.1,1334.5Z" fill="#6e6e6e" stroke="#6e6e6e" stroke-width="1" stroke-linejoin="round"/>
<path d="M299.6,1313.4 L300.2,1315.3 L298.7,1315.2 L297.3,1315.2 L297.0,1314.1 L297.0,1313.0 L297.5,1311.9 L298.6,1311.1 L299.2,1312.6Z" fill="#6e6e6e" stroke="#6e6e6e" stroke-width="1" stroke-linejoin="round"/>
<path d="M273.7,1329.0 L275.4,1326.8 L277.0,1329.1 L277.4,1331.2 L275.4,1331.8 L271.9,1332.3Z" fill="#6e6e6e" stroke="#6e6e6e" stroke-width="1" stroke-linejoin="round"/>
<path d="M279.4,1346.0 L278.6,1346.2 L278.4,1345.6 L278.1,1344.6 L278.7,1344.0 L279.6,1343.1 L279.9,1344.7 L280.7,1345.2 L280.6,1346.3Z" fill="#6e6e6e" stroke="#6e6e6e" stroke-width="1" stroke-linejoin="round"/>
<path d="M273.9,1344.3 L271.0,1345.5 L269.1,1344.4 L268.1,1341.6 L270.4,1338.9 L273.5,1340.5Z" fill="#6e6e6e" stroke="#6e6e6e" stroke-width="1" stroke-linejoin="round"/>
<path d="M271.7,1341.2 L273.8,1339.6 L274.5,1342.7 L274.5,1346.2 L271.6,1345.9 L268.4,1343.9Z" fill="#6e6e6e" stroke="#6e6e6e" stroke-width="1" stroke-linejoin="round"/>
<path d="M282.8,1314.3 L283.8,1313.3 L285.2,1313.4 L285.7,1315.3 L285.1,1317.4 L283.5,1317.2 L282.0,1315.9Z" fill="#6e6e6e" stroke="#6e6e6e" stroke-width="1" stroke-linejoin="round"/>
<path d="M299.0,1322.2 L298.8,1320.2 L301.2,1319.7 L302.5,1321.0 L303.2,1322.2 L302.8,1323.6 L301.3,1324.3 L299.3,1324.1Z" fill="#6e6e6e" stroke="#6e6e6e" stroke-width="1" stroke-linejoin="round"/>
<path d="M294.7,1318.8 L292.4,1318.7 L290.8,1316.7 L292.3,1314.8 L293.4,1312.3 L295.4,1314.3 L296.6,1316.8Z" fill="#6e6e6e" stroke="#6e6e6e" stroke-width="1" stroke-linejoin="round"/>
<path d="M264.4,1356.1 L265.3,1353.2 L264.9,1350.5 L267.7,1351.0 L268.9,1352.5 L270.5,1354.2 L269.5,1357.3 L266.8,1355.4Z" fill="#6e6e6e" stroke="#6e6e6e" stroke-width="1" stroke-linejoin="round"/>
<path d="M287.4,1340.0 L289.3,1339.3 L291.6,1337.7 L293.2,1340.5 L292.1,1343.2 L290.4,1343.8 L289.0,1343.0 L288.2,1342.1Z" fill="#6e6e6e" stroke="#6e6e6e" stroke-width="1" stroke-linejoin="round"/>
<path d="M294.7,1323.8 L293.9,1324.2 L293.5,1323.2 L292.8,1322.7 L293.1,1321.9 L294.0,1321.8 L295.2,1320.5 L295.5,1322.3 L294.9,1323.1Z" fill="#6e6e6e" stroke="#6e6e6e" stroke-width="1" stroke-linejoin="round"/>
<path d="M271.1,1361.5 L271.1,1360.0 L272.7,1359.9 L273.1,1361.2 L273.4,1363.3 L271.7,1363.4Z" fill="#6e6e6e" stroke="#6e6e6e" stroke-width="1" stroke-linejoin="round"/>
<path d="M295.1,1318.6 L293.9,1316.7 L295.1,1314.8 L297.4,1313.5 L298.2,1316.5 L297.2,1318.7Z" fill="#6e6e6e" stroke="#6e6e6e" stroke-width="1" stroke-linejoin="round"/>
<path d="M269.8,1337.6 L269.0,1338.1 L268.1,1337.8 L267.5,1336.7 L267.1,1335.1 L268.5,1333.6 L270.5,1333.5 L270.4,1335.9 L272.2,1337.2Z" fill="#6e6e6e" stroke="#6e6e6e" stroke-width="1" stroke-linejoin="round"/>
<path d="M277.8,1319.4 L278.7,1319.6 L280.0,1319.8 L279.1,1320.7 L279.3,1322.0 L278.2,1322.3 L277.3,1321.2 L277.0,1320.2Z" fill="#6e6e6e" stroke="#6e6e6e" stroke-width="1" stroke-linejoin="round"/>
<path d="M269.6,1348.1 L269.3,1346.1 L270.0,1345.5 L271.2,1344.4 L272.1,1346.2 L271.1,1347.3Z" fill="#6e6e6e" stroke="#6e6e6e" stroke-width="1" stroke-linejoin="round"/>
<path d="M276.5,1364.4 L275.7,1364.2 L275.5,1363.2 L276.4,1362.0 L277.6,1362.4 L278.0,1363.9 L277.3,1364.5Z" fill="#6e6e6e" stroke="#6e6e6e" stroke-width="1" stroke-linejoin="round"/>
<path d="M297.9,1334.2 L297.9,1333.3 L298.3,1332.2 L299.4,1332.7 L299.5,1333.8 L299.3,1334.5 L298.3,1334.7Z" fill="#6e6e6e" stroke="#6e6e6e" stroke-width="1" stroke-linejoin="round"/>
<path d="M305.7,1302.6 L307.6,1304.4 L307.0,1306.6 L305.7,1307.7 L303.6,1308.0 L303.2,1306.1 L302.0,1303.9 L304.2,1304.1Z" fill="#6e6e6e" stroke="#6e6e6e" stroke-width="1" stroke-linejoin="round"/>
<path d="M305.4,1321.4 L306.9,1319.5 L308.9,1318.5 L310.4,1321.2 L309.9,1324.7 L306.5,1324.3Z" fill="#6e6e6e" stroke="#6e6e6e" stroke-width="1" stroke-linejoin="round"/>
<path d="M269.0,1329.9 L271.2,1330.7 L271.1,1332.5 L270.3,1334.0 L268.7,1335.2 L267.8,1333.2 L267.6,1331.4Z" fill="#6e6e6e" stroke="#6e6e6e" stroke-width="1" stroke-linejoin="round"/>
<path d="M297.8,1327.7 L298.0,1325.6 L298.3,1324.1 L299.0,1321.5 L300.6,1323.2 L302.3,1323.9 L302.6,1325.8 L301.2,1326.9 L299.9,1329.3Z" fill="#6e6e6e" stroke="#6e6e6e" stroke-width="1" stroke-linejoin="round"/>
<path d="M307.1,1314.3 L307.6,1317.4 L304.1,1318.8 L303.0,1315.1 L302.8,1311.2 L306.0,1313.0Z" fill="#6e6e6e" stroke="#6e6e6e" stroke-width="1" stroke-linejoin="round"/>
<path d="M299.6,1328.8 L299.3,1327.6 L300.4,1327.2 L301.2,1328.1 L301.7,1328.5 L302.6,1330.2 L301.2,1330.6 L300.3,1330.1 L298.8,1330.5Z" fill="#6e6e6e" stroke="#6e6e6e" stroke-width="1" stroke-linejoin="round"/>
<path d="M266.7,1347.4 L267.1,1347.7 L267.6,1348.6 L266.7,1348.9 L266.1,1348.7 L265.3,1348.6 L265.5,1347.7 L266.0,1347.0Z" fill="#6e6e6e" stroke="#6e6e6e" stroke-width="1" stroke-linejoin="round"/>
<path d="M288.3,1353.2 L288.0,1354.6 L287.9,1355.8 L286.7,1357.2 L285.7,1355.3 L284.5,1354.5 L284.4,1352.7 L286.3,1352.8 L287.2,1353.0Z" fill="#6e6e6e" stroke="#6e6e6e" stroke-width="1" stroke-linejoin="round"/>
<path d="M286.4,1328.2 L286.4,1329.7 L284.7,1329.1 L283.6,1329.2 L283.5,1327.7 L284.1,1326.9 L285.0,1325.8 L286.5,1326.1Z" fill="#6e6e6e" stroke="#6e6e6e" stroke-width="1" stroke-linejoin="round"/>
<path d="M270.6,1338.2 L271.1,1335.7 L274.1,1335.3 L275.8,1337.3 L273.9,1338.9 L272.2,1341.4Z" fill="#6e6e6e" stroke="#6e6e6e" stroke-width="1" stroke-linejoin="round"/>
<path d="M261.7,1346.2 L263.1,1348.0 L262.0,1349.9 L261.7,1350.4 L261.0,1352.2 L259.5,1351.2 L259.5,1350.1 L259.9,1349.1 L259.8,1347.3Z" fill="#6e6e6e" stroke="#6e6e6e" stroke-width="1" stroke-linejoin="round"/>
<path d="M293.3,1347.9 L294.7,1345.9 L295.3,1348.3 L295.0,1349.9 L294.4,1351.4 L292.5,1351.1 L291.1,1350.2 L290.9,1347.6Z" fill="#6e6e6e" stroke="#6e6e6e" stroke-width="1" stroke-linejoin="round"/>
<path d="M304.0,1331.9 L303.3,1330.5 L303.1,1329.5 L303.6,1328.4 L305.1,1327.0 L306.4,1328.2 L306.3,1330.3 L305.5,1332.0Z" fill="#6e6e6e" stroke="#6e6e6e" stroke-width="1" stroke-linejoin="round"/>
<path d="M282.2,1353.5 L282.9,1352.0 L284.2,1352.1 L285.3,1352.2 L286.0,1353.8 L285.0,1354.9 L284.6,1356.7 L283.3,1356.0 L282.1,1355.6Z" fill="#6e6e6e" stroke="#6e6e6e" stroke-width="1" stroke-linejoin="round"/>
<path d="M288.6,1321.0 L286.6,1318.0 L287.7,1315.6 L289.7,1315.6 L291.2,1316.8 L291.2,1319.6Z" fill="#6e6e6e" stroke="#6e6e6e" stroke-width="1" stroke-linejoin="round"/>
<path d="M282.3,1357.4 L280.4,1358.0 L279.6,1356.4 L280.7,1354.8 L282.2,1354.7 L284.1,1353.9 L284.3,1356.1 L283.1,1357.1Z" fill="#6e6e6e" stroke="#6e6e6e" stroke-width="1" stroke-linejoin="round"/>
<path d="M290.7,1324.8 L290.3,1322.5 L290.6,1320.4 L292.6,1320.2 L293.3,1321.7 L294.8,1323.3 L293.1,1325.6Z" fill="#6e6e6e" stroke="#6e6e6e" stroke-width="1" stroke-linejoin="round"/>
<path d="M293.3,1328.2 L294.2,1329.1 L293.6,1331.2 L291.8,1331.2 L291.0,1328.8 L292.2,1327.1Z" fill="#6e6e6e" stroke="#6e6e6e" stroke-width="1" stroke-linejoin="round"/>
<path d="M300.1,1327.5 L298.4,1327.3 L298.5,1325.5 L298.8,1323.5 L300.5,1322.9 L301.9,1324.4 L300.8,1326.5Z" fill="#6e6e6e" stroke="#6e6e6e" stroke-width="1" stroke-linejoin="round"/>
<path d="M297.1,1329.1 L295.4,1328.4 L295.6,1326.5 L296.3,1325.3 L297.8,1325.8 L298.3,1327.5Z" fill="#6e6e6e" stroke="#6e6e6e" stroke-width="1" stroke-linejoin="round"/>
<path d="M288.9,1318.0 L288.0,1315.5 L288.9,1313.2 L291.7,1312.2 L293.5,1314.7 L293.7,1317.3 L291.2,1319.7Z" fill="#6e6e6e" stroke="#6e6e6e" stroke-width="1" stroke-linejoin="round"/>
<path d="M287.0,1319.8 L288.3,1320.4 L289.9,1322.6 L287.9,1323.4 L286.0,1324.9 L284.3,1322.8 L285.8,1320.9Z" fill="#6e6e6e" stroke="#6e6e6e" stroke-width="1" stroke-linejoin="round"/>
<path d="M277.5,1327.0 L278.4,1327.7 L278.3,1329.1 L276.9,1329.1 L276.0,1329.8 L274.9,1329.1 L274.6,1327.8 L275.0,1326.8 L276.5,1327.0Z" fill="#6e6e6e" stroke="#6e6e6e" stroke-width="1" stroke-linejoin="round"/>
<path d="M292.2,1311.6 L289.7,1312.0 L289.7,1309.1 L290.1,1307.8 L291.4,1308.0 L292.8,1309.2Z" fill="#6e6e6e" stroke="#6e6e6e" stroke-width="1" stroke-linejoin="round"/>
<path d="M300.3,1313.6 L302.1,1313.2 L302.1,1315.0 L301.4,1316.9 L299.1,1316.8 L299.2,1314.5Z" fill="#6e6e6e" stroke="#6e6e6e" stroke-width="1" stroke-linejoin="round"/>
<path d="M280.9,1348.8 L281.6,1351.0 L280.2,1352.2 L279.1,1351.2 L278.5,1350.4 L279.3,1349.3Z" fill="#6e6e6e" stroke="#6e6e6e" stroke-width="1" stroke-linejoin="round"/>
<path d="M284.6,1344.9 L287.2,1346.9 L290.3,1347.0 L290.1,1350.6 L286.9,1352.3 L284.6,1351.7 L284.7,1348.6Z" fill="#6e6e6e" stroke="#6e6e6e" stroke-width="1" stroke-linejoin="round"/>
<path d="M281.7,1350.8 L282.3,1352.6 L282.0,1353.8 L281.3,1354.3 L280.4,1354.3 L279.2,1353.9 L280.3,1352.9 L280.7,1352.5Z" fill="#6e6e6e" stroke="#6e6e6e" stroke-width="1" stroke-linejoin="round"/>
<path d="M291.8,1356.9 L290.9,1358.3 L289.4,1358.0 L288.0,1357.8 L287.3,1356.0 L288.4,1354.7 L289.1,1352.9 L290.4,1354.4 L291.2,1355.0Z" fill="#6e6e6e" stroke="#6e6e6e" stroke-width="1" stroke-linejoin="round"/>
<path d="M295.6,1338.6 L294.2,1338.4 L292.7,1337.1 L293.5,1335.3 L295.2,1334.3 L297.0,1335.7 L296.1,1337.2Z" fill="#6e6e6e" stroke="#6e6e6e" stroke-width="1" stroke-linejoin="round"/>
<path d="M275.3,1344.3 L276.7,1344.9 L278.6,1346.0 L278.0,1348.2 L276.2,1348.1 L274.5,1349.8 L273.7,1348.0 L273.7,1346.3 L274.0,1344.7Z" fill="#6e6e6e" stroke="#6e6e6e" stroke-width="1" stroke-linejoin="round"/>
<path d="M288.1,1330.5 L289.2,1330.8 L292.3,1330.7 L290.6,1333.3 L290.6,1336.9 L288.3,1334.4 L286.7,1335.0 L284.8,1332.9 L287.3,1331.5Z" fill="#6e6e6e" stroke="#6e6e6e" stroke-width="1" stroke-linejoin="round"/>
<path d="M276.7,1358.7 L275.0,1358.7 L274.1,1357.3 L273.5,1354.5 L275.7,1354.1 L276.9,1355.5 L277.8,1357.4Z" fill="#6e6e6e" stroke="#6e6e6e" stroke-width="1" stroke-linejoin="round"/>
<path d="M283.4,1348.3 L283.0,1349.8 L282.3,1351.0 L281.0,1350.4 L281.2,1349.2 L281.5,1347.1Z" fill="#6e6e6e" stroke="#6e6e6e" stroke-width="1" stroke-linejoin="round"/>
<path d="M293.9,1319.0 L291.7,1319.3 L290.3,1319.2 L290.6,1317.5 L291.5,1317.0 L293.4,1316.3Z" fill="#6e6e6e" stroke="#6e6e6e" stroke-width="1" stroke-linejoin="round"/>
<path d="M278.7,1352.5 L278.2,1355.2 L277.6,1358.5 L275.0,1356.7 L274.0,1355.5 L274.6,1353.5 L275.9,1351.3Z" fill="#6e6e6e" stroke="#6e6e6e" stroke-width="1" stroke-linejoin="round"/>
<path d="M283.8,1326.5 L284.4,1328.1 L282.7,1328.5 L281.1,1328.7 L281.8,1326.8 L282.5,1326.4Z" fill="#6e6e6e" stroke="#6e6e6e" stroke-width="1" stroke-linejoin="round"/>
<path d="M296.1,1305.2 L297.6,1305.1 L300.3,1305.7 L299.2,1308.2 L298.0,1310.2 L295.9,1310.5 L294.7,1309.3 L293.2,1307.3 L293.4,1304.9Z" fill="#6e6e6e" stroke="#6e6e6e" stroke-width="1" stroke-linejoin="round"/>
<path d="M280.4,1345.0 L281.8,1346.0 L282.1,1347.8 L280.1,1348.6 L279.0,1348.1 L277.6,1347.8 L277.0,1345.7 L278.1,1343.6Z" fill="#6e6e6e" stroke="#6e6e6e" stroke-width="1" stroke-linejoin="round"/>
<path d="M284.7,1345.1 L287.1,1346.5 L284.9,1348.4 L283.5,1347.8 L282.5,1347.6 L279.7,1347.3 L281.3,1345.0 L282.6,1345.0 L284.1,1343.5Z" fill="#6e6e6e" stroke="#6e6e6e" stroke-width="1" stroke-linejoin="round"/>
<path d="M284.1,1313.6 L282.0,1314.3 L282.8,1311.9 L281.8,1310.5 L282.7,1308.9 L284.8,1309.2 L286.3,1310.2 L286.8,1312.0 L284.9,1312.3Z" fill="#6e6e6e" stroke="#6e6e6e" stroke-width="1" stroke-linejoin="round"/>
<path d="M277.6,1347.6 L276.5,1346.9 L276.0,1345.9 L275.2,1344.2 L276.7,1343.5 L278.1,1342.7 L278.4,1344.7 L279.5,1345.8 L279.5,1348.4Z" fill="#6e6e6e" stroke="#6e6e6e" stroke-width="1" stroke-linejoin="round"/>
<path d="M280.8,1330.3 L279.8,1332.1 L277.9,1331.3 L277.3,1329.6 L278.5,1328.6 L279.9,1329.0Z" fill="#6e6e6e" stroke="#6e6e6e" stroke-width="1" stroke-linejoin="round"/>
<path d="M302.4,1331.2 L303.8,1329.9 L305.9,1331.7 L304.7,1334.1 L302.5,1334.7 L301.9,1332.5Z" fill="#6e6e6e" stroke="#6e6e6e" stroke-width="1" stroke-linejoin="round"/>
<path d="M281.9,1314.9 L281.0,1314.2 L281.5,1313.2 L282.4,1312.7 L283.5,1312.8 L284.2,1313.7 L284.4,1315.9 L282.7,1315.2Z" fill="#6e6e6e" stroke="#6e6e6e" stroke-width="1" stroke-linejoin="round"/>
<path d="M296.6,1338.0 L299.9,1338.6 L300.3,1341.7 L300.8,1344.4 L298.3,1347.9 L295.5,1344.9 L294.7,1341.6Z" fill="#6e6e6e" stroke="#6e6e6e" stroke-width="1" stroke-linejoin="round"/>
<path d="M299.1,1307.7 L301.8,1307.1 L301.1,1310.3 L301.9,1312.8 L299.8,1314.9 L297.8,1313.2 L296.9,1310.8 L297.8,1308.7Z" fill="#6e6e6e" stroke="#6e6e6e" stroke-width="1" stroke-linejoin="round"/>
<path d="M273.2,1330.8 L271.6,1331.9 L270.6,1333.4 L269.1,1332.1 L268.1,1330.6 L269.4,1329.0 L270.7,1328.1 L272.3,1328.5Z" fill="#6e6e6e" stroke="#6e6e6e" stroke-width="1" stroke-linejoin="round"/>
<path d="M283.6,1351.2 L283.6,1352.7 L282.5,1353.5 L281.8,1352.3 L281.2,1350.8 L282.7,1351.1Z" fill="#6e6e6e" stroke="#6e6e6e" stroke-width="1" stroke-linejoin="round"/>
<path d="M297.1,1308.2 L298.7,1310.6 L296.7,1311.7 L295.7,1311.7 L294.2,1311.0 L295.4,1309.9Z" fill="#6e6e6e" stroke="#6e6e6e" stroke-width="1" stroke-linejoin="round"/>
<path d="M272.4,1335.1 L273.2,1332.8 L275.2,1332.9 L276.5,1334.5 L276.5,1337.1 L273.8,1336.8Z" fill="#6e6e6e" stroke="#6e6e6e" stroke-width="1" stroke-linejoin="round"/>
<path d="M277.2,1343.0 L275.4,1343.4 L274.2,1342.3 L272.9,1341.4 L272.0,1339.0 L274.1,1339.1 L275.8,1335.5 L277.2,1338.2 L278.0,1340.6Z" fill="#6e6e6e" stroke="#6e6e6e" stroke-width="1" stroke-linejoin="round"/>
<path d="M287.3,1361.9 L288.0,1361.1 L289.1,1360.7 L289.9,1362.1 L288.9,1363.0 L288.2,1363.3 L287.7,1362.8Z" fill="#6e6e6e" stroke="#6e6e6e" stroke-width="1" stroke-linejoin="round"/>
<path d="M296.9,1324.4 L298.4,1325.1 L297.7,1326.7 L296.4,1327.4 L294.2,1326.8 L294.8,1323.8Z" fill="#6e6e6e" stroke="#6e6e6e" stroke-width="1" stroke-linejoin="round"/>
<path d="M270.9,1349.3 L269.9,1349.9 L268.9,1351.8 L268.1,1350.1 L266.8,1348.7 L268.5,1348.1 L269.4,1346.4 L270.9,1347.0Z" fill="#6e6e6e" stroke="#6e6e6e" stroke-width="1" stroke-linejoin="round"/>
<path d="M285.1,1340.1 L284.2,1341.6 L283.6,1343.7 L282.0,1344.3 L281.3,1341.9 L279.6,1340.5 L280.1,1338.5 L282.3,1337.1 L283.4,1339.7Z" fill="#6e6e6e" stroke="#6e6e6e" stroke-width="1" stroke-linejoin="round"/>
<path d="M265.3,1347.1 L266.9,1346.9 L267.2,1348.8 L266.1,1350.2 L264.9,1349.8 L264.1,1349.7 L263.6,1348.5 L263.0,1346.7 L264.3,1345.9Z" fill="#6e6e6e" stroke="#6e6e6e" stroke-width="1" stroke-linejoin="round"/>
<path d="M283.2,1309.0 L281.6,1309.3 L282.1,1307.3 L282.2,1306.5 L283.3,1305.0 L284.4,1306.3 L284.4,1308.1Z" fill="#6e6e6e" stroke="#6e6e6e" stroke-width="1" stroke-linejoin="round"/>
<path d="M298.5,1353.1 L297.1,1355.9 L295.3,1357.1 L293.9,1354.5 L291.7,1353.3 L292.4,1350.7 L295.0,1349.0 L296.6,1351.4Z" fill="#6e6e6e" stroke="#6e6e6e" stroke-width="1" stroke-linejoin="round"/>
<path d="M291.1,1318.9 L291.2,1320.8 L289.6,1322.3 L288.4,1320.5 L287.5,1319.0 L288.5,1317.3 L290.2,1317.0Z" fill="#6e6e6e" stroke="#6e6e6e" stroke-width="1" stroke-linejoin="round"/>
<path d="M307.6,1309.6 L306.0,1308.8 L306.2,1307.4 L306.9,1306.6 L307.7,1307.2 L308.1,1308.0Z" fill="#6e6e6e" stroke="#6e6e6e" stroke-width="1" stroke-linejoin="round"/>
<path d="M283.0,1358.0 L282.3,1362.0 L281.1,1365.2 L278.7,1363.9 L276.7,1362.2 L277.8,1360.0 L279.9,1357.4Z" fill="#6e6e6e" stroke="#6e6e6e" stroke-width="1" stroke-linejoin="round"/>
<path d="M276.0,1376.5 L275.7,1377.2 L275.1,1377.9 L274.6,1377.2 L274.3,1376.7 L274.6,1376.1 L275.2,1376.2Z" fill="#6e6e6e" stroke="#6e6e6e" stroke-width="1" stroke-linejoin="round"/>
<path d="M276.3,1368.7 L276.1,1369.8 L275.4,1369.8 L275.0,1369.4 L274.6,1369.0 L274.8,1368.0 L275.6,1368.6Z" fill="#6e6e6e" stroke="#6e6e6e" stroke-width="1" stroke-linejoin="round"/>
<path d="M276.7,1369.1 L277.1,1371.1 L277.1,1372.4 L276.3,1373.6 L275.0,1373.2 L274.5,1371.9 L274.3,1370.6 L275.4,1369.9Z" fill="#6e6e6e" stroke="#6e6e6e" stroke-width="1" stroke-linejoin="round"/>
<path d="M262.7,1383.2 L262.2,1382.7 L261.3,1381.3 L262.9,1381.0 L263.7,1381.7 L263.4,1382.8Z" fill="#6e6e6e" stroke="#6e6e6e" stroke-width="1" stroke-linejoin="round"/>
<path d="M257.0,1380.8 L258.0,1380.3 L258.5,1381.6 L258.6,1383.0 L257.4,1384.2 L256.4,1383.0 L255.6,1381.3Z" fill="#6e6e6e" stroke="#6e6e6e" stroke-width="1" stroke-linejoin="round"/>
<path d="M260.9,1381.2 L260.1,1381.5 L259.8,1380.5 L259.5,1379.1 L261.0,1379.1 L262.4,1379.2 L262.5,1381.1Z" fill="#6e6e6e" stroke="#6e6e6e" stroke-width="1" stroke-linejoin="round"/>
<path d="M252.8,1392.0 L252.9,1390.9 L253.3,1390.4 L254.2,1389.9 L254.3,1390.8 L255.0,1391.4 L254.2,1391.6 L253.7,1392.2Z" fill="#6e6e6e" stroke="#6e6e6e" stroke-width="1" stroke-linejoin="round"/>
<path d="M253.4,1399.3 L254.1,1400.6 L253.4,1402.1 L252.0,1402.5 L251.4,1400.5 L252.0,1399.2Z" fill="#6e6e6e" stroke="#6e6e6e" stroke-width="1" stroke-linejoin="round"/>
<path d="M257.1,1393.1 L256.2,1392.5 L255.0,1392.5 L255.5,1391.1 L256.2,1390.7 L256.9,1390.4 L257.6,1390.9 L257.8,1391.8Z" fill="#6e6e6e" stroke="#6e6e6e" stroke-width="1" stroke-linejoin="round"/>
<path d="M255.0,1401.0 L255.8,1401.1 L256.9,1400.6 L256.6,1402.1 L256.3,1403.3 L255.5,1402.6 L254.5,1402.1Z" fill="#6e6e6e" stroke="#6e6e6e" stroke-width="1" stroke-linejoin="round"/>
<path d="M252.2,1406.5 L252.7,1407.3 L252.6,1408.0 L252.5,1409.0 L251.5,1408.9 L251.1,1408.2 L250.8,1407.3 L251.3,1406.7Z" fill="#6e6e6e" stroke="#6e6e6e" stroke-width="1" stroke-linejoin="round"/>
<path d="M256.8,1416.7 L256.7,1415.6 L256.8,1414.6 L257.5,1415.1 L258.0,1415.4 L257.9,1416.6Z" fill="#6e6e6e" stroke="#6e6e6e" stroke-width="1" stroke-linejoin="round"/>
<path d="M256.9,1429.5 L257.6,1429.4 L258.8,1429.2 L259.0,1430.6 L257.8,1431.9 L256.4,1431.2Z" fill="#6e6e6e" stroke="#6e6e6e" stroke-width="1" stroke-linejoin="round"/>
<path d="M255.3,1422.2 L255.8,1420.5 L257.1,1420.9 L258.0,1421.0 L259.0,1421.8 L258.6,1423.6 L257.3,1423.7 L256.6,1423.0Z" fill="#6e6e6e" stroke="#6e6e6e" stroke-width="1" stroke-linejoin="round"/>
<path d="M259.4,1430.8 L258.8,1431.6 L258.2,1432.2 L257.0,1432.5 L257.0,1430.9 L257.2,1429.0 L258.4,1430.3Z" fill="#6e6e6e" stroke="#6e6e6e" stroke-width="1" stroke-linejoin="round"/>
<path d="M266.4,1446.0 L265.2,1447.6 L264.1,1446.4 L263.4,1445.5 L264.2,1444.6 L265.8,1444.2Z" fill="#6e6e6e" stroke="#6e6e6e" stroke-width="1" stroke-linejoin="round"/>
<path d="M260.2,1447.3 L261.2,1447.4 L262.0,1447.6 L262.2,1448.8 L261.9,1449.9 L260.9,1449.7 L259.7,1449.8 L260.2,1448.4Z" fill="#6e6e6e" stroke="#6e6e6e" stroke-width="1" stroke-linejoin="round"/>
<path d="M261.6,1442.9 L262.0,1444.4 L260.9,1444.8 L259.9,1446.2 L259.4,1444.5 L259.4,1443.2 L260.6,1442.7Z" fill="#6e6e6e" stroke="#6e6e6e" stroke-width="1" stroke-linejoin="round"/>
<path d="M262.8,1459.0 L263.7,1458.6 L264.4,1459.4 L264.9,1460.6 L264.0,1462.6 L262.9,1460.8 L262.0,1460.4 L261.7,1459.2Z" fill="#6e6e6e" stroke="#6e6e6e" stroke-width="1" stroke-linejoin="round"/>
<path d="M262.8,1456.3 L263.1,1455.3 L264.2,1455.3 L265.3,1455.5 L265.5,1456.9 L264.6,1457.2 L263.8,1458.3 L263.0,1457.3Z" fill="#6e6e6e" stroke="#6e6e6e" stroke-width="1" stroke-linejoin="round"/>
<path d="M268.6,1459.5 L268.6,1459.8 L269.2,1460.5 L268.4,1460.5 L268.0,1460.9 L267.7,1460.5 L267.6,1460.0 L267.8,1459.6 L268.1,1459.3Z" fill="#6e6e6e" stroke="#6e6e6e" stroke-width="1" stroke-linejoin="round"/>
<path d="M273.5,1469.7 L272.9,1469.9 L272.4,1469.7 L272.3,1468.9 L273.1,1468.0 L273.8,1468.7Z" fill="#6e6e6e" stroke="#6e6e6e" stroke-width="1" stroke-linejoin="round"/>
<path d="M268.9,1470.5 L269.4,1469.3 L270.2,1468.8 L271.2,1469.4 L271.9,1470.6 L271.0,1472.7 L269.4,1472.3Z" fill="#6e6e6e" stroke="#6e6e6e" stroke-width="1" stroke-linejoin="round"/>
<path d="M266.8,1467.0 L267.2,1466.5 L267.8,1465.9 L268.1,1466.9 L268.0,1467.4 L267.9,1467.7 L267.3,1468.2 L266.9,1467.8Z" fill="#6e6e6e" stroke="#6e6e6e" stroke-width="1" stroke-linejoin="round"/>
<path d="M274.0,1474.6 L273.0,1476.7 L271.8,1475.4 L270.3,1474.6 L271.2,1472.8 L272.6,1473.9Z" fill="#6e6e6e" stroke="#6e6e6e" stroke-width="1" stroke-linejoin="round"/>
<path d="M275.3,1480.3 L275.3,1481.1 L275.2,1482.0 L274.0,1482.9 L273.3,1481.3 L272.8,1480.0 L274.0,1479.1 L274.8,1480.1Z" fill="#6e6e6e" stroke="#6e6e6e" stroke-width="1" stroke-linejoin="round"/>
<path d="M272.9,1475.1 L273.3,1474.7 L273.8,1475.0 L274.5,1475.3 L274.3,1476.3 L273.7,1476.8 L273.0,1476.8 L272.7,1475.7Z" fill="#6e6e6e" stroke="#6e6e6e" stroke-width="1" stroke-linejoin="round"/>
<path d="M281.8,1487.6 L281.5,1488.8 L280.3,1488.9 L279.4,1487.3 L280.0,1485.9 L280.9,1485.6 L282.1,1485.4 L282.4,1486.7Z" fill="#6e6e6e" stroke="#6e6e6e" stroke-width="1" stroke-linejoin="round"/>
<path d="M286.5,1490.8 L286.3,1491.5 L285.8,1491.4 L285.3,1491.1 L285.4,1490.6 L285.5,1490.1 L285.9,1489.8 L286.3,1490.2Z" fill="#6e6e6e" stroke="#6e6e6e" stroke-width="1" stroke-linejoin="round"/>
<path d="M288.9,1487.9 L289.0,1489.1 L288.9,1489.9 L288.4,1490.2 L287.7,1490.1 L287.0,1489.6 L287.6,1488.9 L288.0,1487.9Z" fill="#6e6e6e" stroke="#6e6e6e" stroke-width="1" stroke-linejoin="round"/>
<path d="M287.6,1494.1 L287.4,1492.7 L288.5,1492.0 L289.3,1492.2 L290.1,1492.1 L290.3,1493.2 L290.0,1494.6 L289.0,1494.8Z" fill="#6e6e6e" stroke="#6e6e6e" stroke-width="1" stroke-linejoin="round"/>
<path d="M292.6,1495.8 L293.3,1494.8 L293.9,1494.9 L294.7,1494.7 L294.9,1495.8 L294.4,1496.6 L293.2,1497.1Z" fill="#6e6e6e" stroke="#6e6e6e" stroke-width="1" stroke-linejoin="round"/>
<path d="M293.0,1492.1 L293.8,1491.8 L294.6,1492.3 L294.7,1493.4 L294.0,1493.7 L293.5,1494.0 L293.2,1493.5 L292.1,1493.0Z" fill="#6e6e6e" stroke="#6e6e6e" stroke-width="1" stroke-linejoin="round"/>
<path d="M306.8,1508.2 L307.4,1507.2 L307.9,1506.3 L308.8,1506.2 L309.7,1506.9 L309.4,1508.0 L309.5,1509.0 L308.5,1509.8 L307.6,1508.9Z" fill="#6e6e6e" stroke="#6e6e6e" stroke-width="1" stroke-linejoin="round"/>
<path d="M303.4,1501.7 L303.8,1501.4 L304.4,1501.2 L304.6,1501.6 L304.9,1502.3 L304.1,1502.6 L303.4,1502.5Z" fill="#6e6e6e" stroke="#6e6e6e" stroke-width="1" stroke-linejoin="round"/>
<path d="M314.6,1504.2 L314.6,1506.3 L313.4,1508.3 L312.0,1506.6 L312.0,1504.9 L312.9,1503.6Z" fill="#6e6e6e" stroke="#6e6e6e" stroke-width="1" stroke-linejoin="round"/>
<path d="M334.9,1511.4 L335.5,1511.5 L336.1,1512.0 L335.8,1512.7 L335.6,1513.7 L334.9,1513.3 L334.1,1513.5 L333.8,1512.4 L334.2,1511.7Z" fill="#6e6e6e" stroke="#6e6e6e" stroke-width="1" stroke-linejoin="round"/>
<path d="M329.9,1513.1 L329.2,1513.4 L329.1,1514.2 L328.6,1513.9 L328.1,1513.4 L328.4,1513.0 L328.6,1512.6 L329.0,1512.5 L329.3,1512.8Z" fill="#6e6e6e" stroke="#6e6e6e" stroke-width="1" stroke-linejoin="round"/>
<path d="M319.8,1508.5 L319.2,1508.0 L319.3,1507.1 L320.2,1507.0 L320.8,1507.6 L320.6,1508.7Z" fill="#6e6e6e" stroke="#6e6e6e" stroke-width="1" stroke-linejoin="round"/>
<path d="M344.0,1516.9 L343.1,1517.6 L342.1,1516.6 L341.9,1515.8 L342.3,1514.8 L343.3,1514.4 L343.7,1515.5 L344.4,1516.0Z" fill="#6e6e6e" stroke="#6e6e6e" stroke-width="1" stroke-linejoin="round"/>
<path d="M336.6,1516.3 L335.6,1516.7 L335.9,1515.7 L335.8,1514.5 L336.7,1514.9 L337.7,1515.3 L337.3,1516.3Z" fill="#6e6e6e" stroke="#6e6e6e" stroke-width="1" stroke-linejoin="round"/>
<path d="M333.6,1516.1 L333.3,1515.5 L333.8,1515.1 L334.2,1515.1 L334.7,1515.1 L334.9,1515.8 L334.4,1516.1 L334.1,1516.5Z" fill="#6e6e6e" stroke="#6e6e6e" stroke-width="1" stroke-linejoin="round"/>
<path d="M359.7,1522.0 L358.8,1521.9 L358.1,1521.3 L358.6,1520.7 L358.4,1520.0 L359.2,1518.9 L359.8,1520.0 L360.5,1520.4 L359.8,1521.2Z" fill="#6e6e6e" stroke="#6e6e6e" stroke-width="1" stroke-linejoin="round"/>
<path d="M358.6,1524.9 L357.4,1524.2 L357.0,1522.8 L357.0,1521.6 L357.8,1521.5 L358.7,1521.2 L359.2,1522.0 L359.2,1523.2Z" fill="#6e6e6e" stroke="#6e6e6e" stroke-width="1" stroke-linejoin="round"/>
<path d="M350.2,1521.2 L350.0,1519.9 L349.7,1518.5 L350.7,1517.5 L351.9,1518.3 L351.9,1519.4 L352.2,1520.4 L351.3,1520.4Z" fill="#6e6e6e" stroke="#6e6e6e" stroke-width="1" stroke-linejoin="round"/>
<path d="M372.9,1524.9 L371.7,1525.9 L370.3,1525.1 L370.9,1523.7 L371.4,1521.9 L372.8,1523.0 L373.8,1523.9Z" fill="#6e6e6e" stroke="#6e6e6e" stroke-width="1" stroke-linejoin="round"/>
<path d="M373.1,1524.0 L373.9,1524.3 L374.0,1525.7 L373.1,1525.8 L372.7,1526.3 L372.1,1525.8 L371.4,1525.5 L371.9,1524.8 L372.4,1524.2Z" fill="#6e6e6e" stroke="#6e6e6e" stroke-width="1" stroke-linejoin="round"/>
<path d="M368.4,1525.1 L367.4,1524.3 L367.7,1522.7 L368.9,1522.4 L369.2,1523.6 L369.2,1524.2Z" fill="#6e6e6e" stroke="#6e6e6e" stroke-width="1" stroke-linejoin="round"/>
<path d="M390.2,1530.6 L388.9,1529.5 L387.5,1529.6 L388.3,1528.0 L388.9,1527.2 L390.2,1527.0 L390.5,1528.8Z" fill="#6e6e6e" stroke="#6e6e6e" stroke-width="1" stroke-linejoin="round"/>
<path d="M387.3,1527.1 L387.5,1526.1 L388.3,1526.7 L389.0,1527.3 L388.5,1528.8 L387.5,1527.7Z" fill="#6e6e6e" stroke="#6e6e6e" stroke-width="1" stroke-linejoin="round"/>
<path d="M377.9,1528.1 L377.4,1527.3 L378.2,1526.6 L378.9,1526.9 L379.2,1527.7 L379.6,1528.8 L378.8,1528.8 L378.0,1529.2Z" fill="#6e6e6e" stroke="#6e6e6e" stroke-width="1" stroke-linejoin="round"/>
<path d="M396.0,1530.5 L396.1,1531.3 L396.1,1532.5 L395.2,1532.1 L394.4,1532.1 L394.2,1531.1 L395.0,1530.9 L395.4,1530.2Z" fill="#6e6e6e" stroke="#6e6e6e" stroke-width="1" stroke-linejoin="round"/>
<path d="M397.7,1529.0 L397.2,1529.3 L396.6,1528.8 L397.1,1528.1 L397.7,1527.5 L398.3,1528.3 L398.3,1529.0Z" fill="#6e6e6e" stroke="#6e6e6e" stroke-width="1" stroke-linejoin="round"/>
<path d="M393.1,1527.4 L394.1,1526.8 L394.8,1527.3 L395.5,1528.0 L395.4,1529.2 L394.7,1529.7 L393.9,1529.5 L392.8,1529.1 L393.4,1528.3Z" fill="#6e6e6e" stroke="#6e6e6e" stroke-width="1" stroke-linejoin="round"/>
<path d="M411.2,1532.0 L411.3,1531.4 L411.6,1529.1 L412.6,1530.8 L413.0,1531.6 L413.8,1532.9 L413.1,1534.1 L411.7,1533.3 L411.0,1533.1Z" fill="#6e6e6e" stroke="#6e6e6e" stroke-width="1" stroke-linejoin="round"/>
<path d="M405.8,1529.5 L405.3,1530.2 L404.6,1529.9 L403.9,1529.1 L403.7,1528.1 L404.5,1527.1 L405.5,1527.7 L406.2,1528.0 L406.5,1528.9Z" fill="#6e6e6e" stroke="#6e6e6e" stroke-width="1" stroke-linejoin="round"/>
<path d="M414.9,1527.8 L415.0,1528.7 L415.0,1529.5 L414.1,1529.4 L413.3,1529.4 L413.6,1528.4 L414.0,1528.2Z" fill="#6e6e6e" stroke="#6e6e6e" stroke-width="1" stroke-linejoin="round"/>
<path d="M532.2,1454.0 L537.2,1452.9 L541.7,1456.3 L545.1,1452.9 L542.3,1451.7 L544.0,1449.5 L540.6,1445.5 L547.4,1446.1 L548.5,1443.3 L556.4,1445.0 L560.9,1447.2 L565.4,1448.4 L567.7,1448.9 L563.2,1453.4 L559.8,1456.3 L556.4,1459.6 L549.6,1461.3 L545.1,1461.9 L542.9,1463.6 L538.4,1462.5 L533.8,1458.5Z" fill="#5e5e5e" stroke="#5e5e5e" stroke-width="0.8" stroke-linejoin="round"/>
<path d="M558.7,1460.8 L563.2,1455.1 L567.7,1451.7 L572.2,1448.4 L579.0,1447.8 L581.2,1443.8 L585.7,1445.0 L590.3,1446.7 L595.9,1446.1 L598.1,1450.6 L594.8,1454.0 L589.1,1455.1 L583.5,1455.1 L580.1,1459.6 L574.5,1460.8 L572.2,1463.0 L567.7,1465.8 L563.2,1463.0Z" fill="#5e5e5e" stroke="#5e5e5e" stroke-width="0.8" stroke-linejoin="round"/>
<path d="M547.4,1455.1 L551.9,1451.7 L558.7,1450.6 L559.8,1452.9 L554.2,1456.3 L549.6,1457.4Z" fill="#d9d7b4"/>
<path d="M574.5,1449.5 L579.0,1449.5 L582.4,1452.9 L579.0,1455.1 L575.6,1453.4Z" fill="#d9d7b4"/>
<path d="M564.3,1459.6 L567.7,1456.3 L572.2,1455.1 L569.9,1458.5 L566.6,1460.8Z" fill="#d9d7b4"/>
<path d="M318.3,1491.8 L316.5,1491.0 L315.6,1489.5 L316.3,1488.2 L316.9,1486.6 L318.6,1487.1 L319.9,1488.3 L318.7,1489.6Z" fill="#fff"/>
<path d="M323.5,1483.5 L322.9,1483.1 L321.9,1481.8 L323.2,1481.4 L323.8,1481.3 L324.6,1481.4 L324.6,1482.2 L325.3,1483.5 L324.3,1483.9Z" fill="#fff"/>
<path d="M312.6,1479.3 L313.5,1478.2 L313.5,1479.9 L313.5,1480.9 L312.4,1480.8 L312.2,1479.9Z" fill="#fff"/>
<path d="M298.6,1477.0 L297.0,1477.4 L296.0,1476.6 L295.5,1475.3 L296.0,1474.3 L297.0,1473.5 L298.0,1473.8 L299.1,1475.3Z" fill="#fff"/>
<path d="M394.3,1521.1 L395.8,1520.5 L396.9,1521.7 L397.2,1523.0 L396.4,1523.7 L395.1,1524.6 L394.8,1523.1Z" fill="#fff"/>
<path d="M352.0,1510.4 L353.0,1510.1 L354.0,1509.0 L354.4,1510.5 L355.5,1511.1 L355.1,1512.1 L354.0,1512.2 L353.3,1512.2 L352.5,1511.8Z" fill="#fff"/>
<path d="M311.5,1476.8 L312.1,1476.8 L313.2,1477.0 L312.6,1477.9 L312.3,1478.4 L311.8,1478.5 L310.6,1479.9 L310.6,1478.0 L310.9,1477.2Z" fill="#fff"/>
<path d="M285.6,1480.3 L286.1,1479.5 L286.5,1479.0 L287.4,1479.0 L287.6,1480.3 L286.5,1480.3Z" fill="#fff"/>
<path d="M379.9,1512.8 L381.0,1512.6 L382.7,1512.9 L382.4,1514.7 L380.8,1514.9 L379.8,1514.9 L379.3,1513.6Z" fill="#fff"/>
<path d="M314.4,1480.9 L315.0,1480.1 L316.4,1479.7 L316.9,1481.7 L315.7,1483.1 L314.6,1481.8Z" fill="#fff"/>
<path d="M282.3,1466.7 L282.4,1469.7 L282.9,1471.0 L281.8,1471.6 L280.4,1472.3 L278.6,1471.3 L279.1,1469.4 L280.6,1468.7Z" fill="#fff"/>
<path d="M341.3,1512.1 L340.5,1511.1 L339.8,1510.4 L340.6,1509.1 L341.6,1508.2 L342.2,1509.7 L342.7,1510.6 L342.8,1512.9Z" fill="#fff"/>
<path d="M295.7,1452.5 L296.8,1452.2 L298.1,1452.4 L297.0,1454.0 L296.9,1454.9 L295.7,1455.3 L294.8,1454.3 L294.5,1453.0Z" fill="#fff"/>
<path d="M311.0,1495.8 L309.5,1494.6 L309.7,1492.6 L311.2,1492.1 L312.8,1492.4 L313.3,1494.0 L312.6,1495.7Z" fill="#fff"/>
<path d="M374.7,1515.5 L375.3,1515.0 L375.9,1515.6 L376.8,1516.7 L375.5,1516.9 L374.9,1516.4Z" fill="#fff"/>
<path d="M267.8,1380.9 L268.6,1381.6 L268.1,1382.4 L267.3,1382.3 L266.7,1381.9 L266.7,1380.7Z" fill="#fff"/>
<path d="M269.7,1447.8 L271.1,1447.9 L271.1,1449.7 L271.1,1450.8 L270.2,1452.2 L269.0,1451.4 L268.0,1450.3 L269.0,1449.3Z" fill="#fff"/>
<path d="M289.5,1474.2 L287.9,1474.7 L288.1,1472.5 L288.4,1471.6 L289.4,1471.3 L291.2,1471.2 L291.4,1473.9Z" fill="#fff"/>
<path d="M259.3,1395.6 L258.3,1396.0 L258.3,1394.6 L258.2,1393.8 L258.6,1392.8 L259.4,1392.8 L260.0,1393.6 L260.7,1394.5 L260.0,1395.3Z" fill="#fff"/>
<path d="M319.2,1490.5 L318.3,1490.0 L317.8,1488.8 L318.5,1487.5 L319.6,1487.5 L320.5,1488.5 L320.3,1489.4 L320.1,1490.2Z" fill="#fff"/>
<path d="M314.4,1478.8 L313.9,1477.8 L314.9,1477.2 L315.8,1476.7 L316.6,1477.7 L316.8,1478.5 L316.5,1479.6 L315.7,1480.0 L314.7,1479.7Z" fill="#fff"/>
<path d="M273.9,1402.4 L272.2,1403.1 L271.8,1401.7 L271.5,1399.5 L272.8,1398.7 L274.3,1398.8 L274.9,1400.4 L275.8,1401.2 L275.0,1402.7Z" fill="#fff"/>
<path d="M305.9,1487.0 L305.1,1487.5 L304.4,1487.6 L304.0,1487.2 L303.0,1486.7 L303.9,1486.2 L304.6,1485.6 L305.1,1486.3Z" fill="#fff"/>
<path d="M346.6,1498.3 L347.5,1497.0 L349.1,1497.7 L350.2,1498.9 L349.7,1500.5 L348.7,1501.1 L347.4,1502.9 L346.7,1500.5 L346.6,1499.6Z" fill="#fff"/>
<path d="M344.7,1496.8 L344.3,1497.6 L343.5,1497.7 L343.1,1496.9 L342.7,1496.6 L342.4,1495.3 L343.3,1495.2 L344.1,1495.3 L344.5,1496.0Z" fill="#fff"/>
<path d="M267.0,1417.2 L265.5,1418.4 L264.5,1419.5 L262.8,1418.4 L263.8,1416.2 L265.3,1416.1Z" fill="#fff"/>
<path d="M407.5,1521.0 L409.0,1520.9 L408.9,1522.4 L408.5,1523.6 L407.4,1523.2 L405.8,1523.3 L405.7,1520.9Z" fill="#fff"/>
<path d="M306.3,1471.3 L306.2,1470.6 L306.8,1469.9 L308.1,1470.0 L307.9,1471.4 L306.9,1472.4Z" fill="#fff"/>
<path d="M315.6,1500.9 L314.7,1499.9 L314.9,1498.8 L315.5,1497.6 L316.4,1497.9 L317.4,1498.4 L317.0,1499.6 L316.5,1500.5Z" fill="#fff"/>
<path d="M317.1,1491.1 L317.6,1491.3 L318.3,1491.8 L317.7,1492.3 L317.0,1492.7 L316.3,1492.4 L316.3,1491.2Z" fill="#fff"/>
<path d="M285.2,1482.3 L285.2,1481.1 L286.3,1481.3 L287.3,1481.9 L286.4,1482.8 L285.9,1483.9 L285.1,1483.2Z" fill="#fff"/>
<path d="M377.0,1511.8 L376.5,1512.5 L375.5,1513.0 L374.8,1511.7 L375.7,1510.9 L376.5,1511.1Z" fill="#fff"/>
<path d="M304.6,1494.4 L303.7,1495.3 L302.7,1494.7 L302.0,1493.1 L303.4,1492.7 L304.8,1492.6Z" fill="#fff"/>
<path d="M363.3,1503.6 L364.0,1504.0 L363.6,1504.9 L363.2,1505.7 L362.6,1505.0 L362.0,1504.3 L362.3,1503.3Z" fill="#fff"/>
<path d="M276.3,1430.8 L274.7,1430.8 L273.5,1429.8 L272.5,1429.3 L273.1,1428.2 L273.2,1426.2 L274.6,1426.6 L276.1,1426.6 L276.3,1428.6Z" fill="#fff"/>
<path d="M359.5,1520.8 L358.4,1520.5 L357.5,1519.3 L358.4,1518.2 L359.1,1517.9 L359.9,1517.7 L360.1,1518.7 L360.8,1520.4Z" fill="#fff"/>
<path d="M371.4,1512.2 L372.9,1510.7 L373.4,1513.2 L373.5,1514.5 L372.9,1515.3 L371.9,1515.2 L370.4,1515.2 L370.3,1513.6Z" fill="#fff"/>
<path d="M360.1,1502.3 L361.0,1503.4 L360.7,1506.5 L358.5,1505.3 L357.9,1503.8 L357.8,1502.5 L358.9,1502.0Z" fill="#fff"/>
<path d="M297.2,1492.5 L296.3,1491.4 L295.4,1489.5 L297.4,1489.1 L299.3,1489.5 L298.6,1491.8Z" fill="#fff"/>
<path d="M328.6,1499.8 L330.4,1500.5 L331.3,1500.3 L331.7,1501.6 L331.7,1502.8 L330.3,1503.6 L328.9,1503.4 L328.0,1501.4Z" fill="#fff"/>
<path d="M352.7,1511.5 L353.4,1511.8 L354.1,1512.5 L353.7,1513.5 L352.7,1513.4 L351.6,1512.5Z" fill="#fff"/>
<path d="M378.1,1512.2 L377.0,1511.1 L376.9,1510.2 L376.9,1509.1 L378.1,1508.5 L378.6,1509.5 L378.8,1510.2 L378.7,1510.7Z" fill="#fff"/>
<path d="M313.0,1502.9 L313.4,1501.4 L314.4,1500.8 L315.6,1500.6 L315.8,1502.1 L315.1,1502.7 L314.4,1502.9Z" fill="#fff"/>
<path d="M309.4,1468.1 L308.9,1470.7 L307.3,1468.7 L305.6,1468.8 L305.9,1466.9 L306.7,1465.5 L308.1,1465.8 L309.8,1466.2Z" fill="#fff"/>
<path d="M323.1,1489.0 L323.1,1488.2 L323.6,1487.4 L324.2,1488.0 L325.0,1488.4 L324.6,1489.4 L323.7,1489.3Z" fill="#fff"/>
<path d="M332.4,1489.5 L333.1,1490.8 L332.5,1492.0 L331.3,1492.5 L329.9,1492.4 L329.2,1491.0 L330.0,1489.8 L330.5,1488.6 L331.8,1489.2Z" fill="#fff"/>
<path d="M290.4,1451.3 L290.6,1452.4 L289.9,1452.8 L289.5,1453.5 L289.0,1453.2 L288.8,1452.6 L288.4,1451.8 L289.0,1451.6 L289.5,1451.8Z" fill="#fff"/>
<path d="M337.1,1504.2 L337.1,1503.6 L337.6,1502.9 L338.3,1503.3 L338.5,1504.4 L337.7,1504.3Z" fill="#fff"/>
<path d="M378.7,1517.6 L380.0,1516.4 L381.2,1518.3 L380.3,1520.0 L378.7,1519.7 L377.4,1518.6Z" fill="#fff"/>
<path d="M317.7,1485.5 L318.2,1484.9 L318.6,1484.2 L319.3,1484.1 L320.3,1484.8 L320.1,1486.2 L319.4,1486.5 L318.6,1486.7 L317.5,1486.3Z" fill="#fff"/>
<path d="M284.8,1411.8 L283.4,1410.2 L281.9,1409.9 L281.5,1408.0 L282.5,1406.6 L284.4,1406.6 L285.8,1407.4 L286.2,1409.6Z" fill="#fff"/>
<path d="M289.0,1447.1 L290.7,1447.4 L290.7,1449.7 L289.3,1450.8 L288.2,1449.7 L287.1,1447.7Z" fill="#fff"/>
<path d="M359.9,1501.4 L360.4,1500.8 L361.0,1501.0 L360.9,1501.7 L361.2,1502.8 L360.4,1502.9 L359.8,1502.4 L359.8,1501.8Z" fill="#fff"/>
<path d="M262.7,1394.1 L263.8,1394.0 L263.7,1395.0 L263.4,1396.8 L262.4,1395.4 L262.3,1394.7Z" fill="#fff"/>
<path d="M326.0,1503.9 L326.7,1503.6 L327.2,1503.2 L327.6,1503.7 L327.6,1504.2 L327.6,1505.1 L326.9,1505.8 L326.2,1504.6Z" fill="#fff"/>
<path d="M290.7,1483.2 L290.2,1482.6 L290.4,1482.0 L290.2,1481.0 L291.0,1481.3 L291.8,1480.8 L292.3,1481.9 L291.5,1482.4 L291.4,1483.0Z" fill="#fff"/>
<path d="M365.3,1507.7 L365.0,1507.1 L364.9,1506.5 L365.3,1505.3 L366.4,1505.5 L366.4,1506.9 L366.2,1507.6 L365.8,1508.0Z" fill="#fff"/>
<path d="M280.0,1478.1 L278.8,1477.6 L277.5,1477.6 L277.9,1476.4 L278.0,1474.6 L279.3,1474.2 L280.3,1475.7 L281.3,1476.9Z" fill="#fff"/>
<path d="M298.3,1490.2 L300.4,1489.7 L302.0,1491.2 L301.8,1494.0 L299.6,1492.7 L297.7,1492.3Z" fill="#fff"/>
<path d="M281.0,1384.3 L280.6,1384.9 L280.9,1385.9 L280.1,1385.7 L279.5,1385.7 L278.7,1385.2 L279.4,1384.5 L279.6,1383.7 L280.4,1384.0Z" fill="#fff"/>
<path d="M359.7,1519.3 L360.0,1517.6 L361.3,1517.6 L362.1,1518.3 L363.2,1518.8 L362.9,1520.1 L361.7,1521.6 L360.5,1520.0Z" fill="#fff"/>
<path d="M276.1,1417.8 L275.8,1417.1 L276.4,1416.8 L276.9,1416.4 L277.8,1415.7 L278.2,1416.9 L278.4,1418.1 L277.7,1418.5 L276.7,1418.7Z" fill="#fff"/>
<path d="M376.4,1513.0 L375.5,1513.5 L373.8,1513.1 L374.8,1511.8 L375.4,1511.0 L376.2,1511.4 L377.3,1511.9Z" fill="#fff"/>
<path d="M393.1,1518.9 L392.3,1519.8 L390.9,1521.4 L390.5,1519.1 L389.6,1518.1 L389.9,1516.6 L391.0,1515.6 L392.5,1516.2 L393.2,1517.5Z" fill="#fff"/>
<path d="M281.2,1395.0 L281.1,1394.5 L281.4,1393.5 L282.7,1393.3 L282.6,1394.8 L282.3,1395.5 L281.5,1395.7Z" fill="#fff"/>
<path d="M345.5,1503.9 L344.3,1503.5 L344.7,1502.6 L345.1,1502.0 L345.8,1501.0 L346.4,1501.9 L346.7,1502.7 L347.2,1504.0 L346.4,1504.7Z" fill="#fff"/>
<path d="M339.0,1491.8 L338.4,1494.6 L336.6,1495.5 L335.2,1493.6 L335.2,1491.5 L337.1,1490.5Z" fill="#fff"/>
<path d="M351.9,1504.4 L352.2,1505.1 L352.9,1505.5 L352.3,1506.1 L351.9,1506.6 L351.5,1505.9 L350.6,1505.9 L350.7,1505.0 L351.3,1504.5Z" fill="#fff"/>
<path d="M342.8,1509.0 L342.8,1509.7 L342.6,1510.4 L342.0,1510.3 L341.6,1509.9 L341.7,1509.4 L341.8,1508.7Z" fill="#fff"/>
<path d="M271.8,1464.4 L272.8,1465.3 L273.3,1465.6 L273.6,1466.6 L272.7,1466.7 L272.3,1467.4 L271.4,1467.9 L271.0,1466.6 L271.4,1465.8Z" fill="#fff"/>
<path d="M305.2,1478.1 L305.8,1478.0 L306.4,1478.1 L306.4,1479.0 L306.9,1480.0 L306.0,1480.1 L305.2,1480.4 L304.7,1479.5 L304.3,1478.7Z" fill="#fff"/>
<path d="M303.6,1496.5 L304.2,1497.1 L303.8,1498.0 L302.8,1498.4 L301.7,1497.5 L302.0,1495.8Z" fill="#fff"/>
<path d="M372.2,1517.0 L372.9,1518.2 L373.6,1519.4 L373.2,1520.6 L372.2,1520.6 L371.1,1520.8 L370.8,1519.9 L370.4,1518.5 L371.1,1517.5Z" fill="#fff"/>
<path d="M286.9,1455.0 L288.5,1452.7 L289.9,1451.3 L292.0,1452.9 L291.2,1455.4 L289.2,1455.3Z" fill="#fff"/>
<path d="M296.0,1468.8 L296.7,1468.1 L297.4,1467.6 L298.2,1467.9 L298.8,1468.7 L298.3,1469.8 L297.4,1469.8 L296.6,1469.6Z" fill="#fff"/>
<path d="M308.2,1477.3 L307.5,1477.4 L306.5,1477.8 L306.6,1476.8 L306.1,1475.4 L307.3,1475.3 L308.5,1474.8 L309.0,1476.4Z" fill="#fff"/>
<path d="M321.8,1503.8 L322.0,1503.1 L322.6,1502.8 L323.1,1503.5 L322.9,1504.1 L322.6,1504.6 L321.7,1504.6Z" fill="#fff"/>
<path d="M260.7,1387.2 L261.6,1388.4 L260.9,1389.4 L259.8,1389.7 L258.9,1389.3 L258.8,1388.0 L259.7,1387.6Z" fill="#fff"/>
<path d="M267.4,1431.2 L266.8,1429.7 L267.5,1428.8 L268.5,1426.0 L269.9,1428.0 L269.7,1430.1 L268.7,1431.4Z" fill="#fff"/>
<path d="M277.0,1440.8 L276.8,1439.3 L277.3,1438.1 L278.7,1437.5 L279.5,1438.8 L278.8,1439.8 L278.5,1441.2Z" fill="#fff"/>
<path d="M328.3,1491.7 L328.2,1490.1 L329.4,1489.9 L330.3,1490.0 L332.1,1491.0 L331.0,1493.5 L329.2,1493.4Z" fill="#fff"/>
<path d="M291.6,1428.2 L291.1,1427.6 L291.0,1426.4 L292.4,1426.7 L293.3,1427.4 L292.7,1428.7Z" fill="#fff"/>
<path d="M273.6,1429.4 L274.9,1430.4 L275.9,1431.4 L274.6,1432.3 L273.1,1432.9 L272.8,1430.9Z" fill="#fff"/>
<path d="M264.5,1418.5 L263.9,1417.6 L265.0,1416.5 L266.5,1417.0 L267.2,1419.0 L265.5,1420.8Z" fill="#fff"/>
<path d="M322.9,1492.1 L321.8,1492.3 L322.4,1491.4 L322.8,1491.1 L323.3,1490.1 L323.9,1491.0 L324.3,1491.6 L324.2,1492.3 L323.3,1492.8Z" fill="#fff"/>
<path d="M381.2,1517.3 L381.6,1516.9 L382.0,1517.0 L382.8,1517.7 L382.3,1518.5 L381.5,1518.6 L381.0,1518.2 L380.6,1517.6Z" fill="#fff"/>
<path d="M382.7,1518.0 L382.0,1516.8 L382.5,1515.7 L382.4,1514.0 L383.5,1514.5 L384.3,1515.1 L384.7,1515.8 L384.6,1516.8 L383.9,1517.9Z" fill="#fff"/>
<path d="M346.1,1512.3 L347.3,1513.4 L347.1,1515.0 L346.1,1516.6 L345.2,1514.6 L345.4,1513.6Z" fill="#fff"/>
<path d="M293.5,1457.3 L293.9,1458.2 L294.3,1459.4 L293.7,1460.3 L292.6,1460.2 L291.9,1459.4 L291.9,1458.5 L292.2,1456.6Z" fill="#fff"/>
<path d="M274.7,1455.7 L274.1,1454.0 L274.4,1453.1 L274.6,1452.1 L275.5,1452.5 L276.0,1453.1 L276.9,1454.1 L275.8,1454.7Z" fill="#fff"/>
<path d="M313.2,1494.1 L314.0,1494.9 L313.0,1495.7 L312.5,1494.8 L311.8,1494.2 L312.6,1493.9Z" fill="#fff"/>
<path d="M334.6,1502.2 L334.1,1501.6 L333.5,1501.6 L333.4,1500.8 L333.8,1500.3 L334.4,1499.7 L334.8,1500.5 L335.4,1500.9 L335.1,1501.4Z" fill="#fff"/>
<path d="M295.8,1480.1 L296.6,1482.2 L297.8,1483.0 L297.5,1484.9 L295.9,1484.7 L295.1,1484.0 L293.6,1483.1 L294.6,1481.8Z" fill="#fff"/>
<path d="M378.5,1510.5 L378.6,1512.3 L378.4,1513.5 L377.1,1513.6 L376.7,1512.3 L377.3,1511.3Z" fill="#fff"/>
<path d="M404.4,1522.7 L404.9,1523.7 L404.6,1524.6 L404.0,1524.7 L403.1,1526.1 L402.3,1524.5 L403.0,1523.8 L403.3,1522.3Z" fill="#fff"/>
<path d="M295.6,1485.2 L296.2,1486.4 L295.8,1487.2 L295.2,1487.4 L294.8,1486.7 L294.4,1485.8Z" fill="#fff"/>
<path d="M388.3,1527.7 L388.8,1525.2 L390.8,1524.2 L391.8,1525.8 L393.2,1527.2 L391.6,1527.9 L390.3,1529.2Z" fill="#fff"/>
<path d="M285.3,1383.9 L286.1,1385.2 L284.9,1385.2 L283.8,1385.8 L283.7,1384.2 L283.9,1383.0 L284.9,1383.3Z" fill="#fff"/>
<path d="M351.6,1504.2 L351.2,1503.8 L350.6,1502.7 L351.8,1502.9 L352.5,1503.1 L352.6,1503.8 L352.5,1505.0Z" fill="#fff"/>
<path d="M341.3,1501.0 L341.2,1502.3 L340.4,1502.6 L339.6,1504.5 L338.5,1503.4 L337.6,1501.8 L339.0,1500.9 L339.3,1499.3 L340.2,1500.7Z" fill="#fff"/>
<path d="M346.3,1502.3 L345.8,1501.4 L346.0,1500.7 L346.6,1499.4 L347.3,1500.5 L348.0,1501.4 L347.8,1503.5Z" fill="#fff"/>
<path d="M342.4,1509.6 L343.3,1511.9 L343.5,1513.4 L342.6,1514.6 L341.1,1515.1 L340.8,1513.0 L340.8,1510.8Z" fill="#fff"/>
<path d="M312.9,1492.3 L313.5,1490.1 L314.9,1487.7 L316.7,1489.8 L316.5,1492.6 L314.5,1493.0Z" fill="#fff"/>
<path d="M280.3,1432.3 L280.7,1433.5 L281.1,1434.6 L280.2,1435.8 L279.3,1434.9 L278.3,1434.8 L277.7,1433.8 L278.3,1432.9 L279.4,1432.9Z" fill="#fff"/>
<path d="M409.5,1526.6 L410.0,1526.1 L410.5,1526.4 L410.7,1526.8 L411.2,1527.3 L411.0,1528.5 L410.3,1527.7 L409.7,1527.7 L409.2,1527.3Z" fill="#fff"/>
<path d="M384.7,1519.4 L385.3,1517.1 L386.5,1515.5 L388.6,1515.8 L389.5,1518.3 L387.9,1519.6 L386.5,1521.2Z" fill="#fff"/>
<path d="M347.5,1498.7 L346.9,1497.4 L348.5,1496.9 L349.7,1496.3 L350.0,1498.0 L351.1,1499.1 L349.7,1499.7 L348.8,1500.0 L347.2,1501.1Z" fill="#fff"/>
<path d="M362.3,1502.0 L363.2,1502.2 L364.1,1503.0 L363.9,1504.0 L362.9,1504.5 L361.7,1505.1 L361.1,1503.9 L361.8,1503.0Z" fill="#fff"/>
<path d="M327.2,1497.9 L326.2,1497.5 L325.4,1497.5 L325.2,1496.6 L324.8,1495.5 L325.9,1495.4 L326.8,1494.4 L327.2,1495.8 L327.4,1496.7Z" fill="#fff"/>
<path d="M271.8,1391.1 L272.7,1390.9 L273.0,1390.5 L273.5,1390.4 L273.8,1391.0 L274.3,1391.8 L273.5,1392.3 L272.9,1391.9 L272.3,1392.0Z" fill="#fff"/>
<path d="M346.9,1509.8 L348.1,1508.3 L349.3,1509.0 L349.8,1510.1 L350.3,1512.3 L348.5,1511.9 L346.7,1511.6Z" fill="#fff"/>
<path d="M291.4,1487.2 L291.0,1486.5 L291.3,1485.8 L292.1,1484.7 L292.6,1485.8 L293.7,1486.1 L293.6,1487.5 L292.5,1487.5 L291.9,1488.5Z" fill="#fff"/>
<path d="M280.1,1476.1 L279.5,1476.4 L278.8,1476.2 L278.4,1475.8 L278.2,1474.4 L279.3,1474.9 L280.2,1475.0Z" fill="#fff"/>
<path d="M266.8,1397.7 L267.5,1398.1 L267.8,1398.5 L268.2,1399.3 L268.0,1400.5 L266.9,1400.4 L265.9,1400.2 L265.6,1398.9 L266.5,1398.4Z" fill="#fff"/>
<path d="M373.4,1520.3 L372.6,1519.1 L373.7,1518.6 L374.7,1518.5 L374.8,1519.8 L375.7,1520.8 L374.6,1522.0 L373.6,1521.6Z" fill="#fff"/>
<path d="M326.6,1493.5 L326.0,1491.4 L326.8,1490.1 L328.2,1489.5 L328.5,1491.2 L328.0,1492.6Z" fill="#fff"/>
<path d="M313.4,1500.4 L312.9,1501.4 L311.7,1502.5 L311.2,1500.5 L310.5,1498.8 L311.6,1496.8 L313.5,1498.2 L314.2,1499.1Z" fill="#fff"/>
<path d="M324.4,1493.5 L325.3,1494.6 L324.1,1495.1 L323.1,1495.1 L321.9,1495.6 L322.3,1493.8 L322.3,1492.9 L323.0,1492.2 L323.9,1492.3Z" fill="#fff"/>
<path d="M311.3,1490.6 L311.4,1487.9 L313.2,1488.8 L314.7,1489.0 L314.8,1491.4 L312.7,1493.5Z" fill="#fff"/>
<path d="M319.3,1501.1 L318.2,1499.2 L318.4,1497.8 L318.9,1496.4 L320.4,1496.2 L320.2,1498.2 L320.6,1499.9Z" fill="#fff"/>
<path d="M259.1,1409.0 L260.2,1411.3 L259.1,1413.1 L257.2,1412.4 L255.2,1411.7 L256.3,1410.0 L257.4,1407.7Z" fill="#fff"/>
<path d="M386.3,1516.2 L384.9,1515.3 L384.6,1513.9 L385.1,1513.0 L386.5,1512.7 L387.1,1514.4Z" fill="#fff"/>
<path d="M351.2,1512.6 L350.3,1511.7 L349.5,1510.3 L351.3,1509.9 L352.2,1510.7 L353.1,1512.8Z" fill="#fff"/>
<path d="M371.8,1512.4 L371.3,1512.0 L371.3,1511.4 L371.7,1511.0 L372.2,1510.9 L372.4,1511.4 L372.9,1511.9 L372.3,1512.3Z" fill="#fff"/>
<path d="M341.3,1506.5 L340.8,1504.3 L341.5,1502.4 L343.1,1502.7 L344.3,1503.1 L344.7,1504.4 L343.9,1505.3 L343.1,1506.2Z" fill="#fff"/>
<path d="M302.5,1486.1 L304.2,1488.0 L304.4,1490.1 L302.3,1490.4 L300.6,1491.4 L300.5,1489.3 L300.6,1487.0Z" fill="#fff"/>
<path d="M356.2,1515.1 L356.9,1515.6 L357.5,1516.1 L356.9,1516.5 L356.3,1516.7 L356.1,1516.0Z" fill="#fff"/>
<path d="M387.5,1525.0 L386.6,1525.0 L387.1,1523.6 L387.4,1523.3 L387.8,1522.8 L388.8,1522.6 L389.5,1523.2 L388.7,1524.1 L388.5,1525.2Z" fill="#fff"/>
<path d="M329.3,1503.6 L331.1,1504.1 L330.7,1506.5 L329.3,1507.0 L327.6,1507.8 L327.1,1505.5 L328.1,1504.5Z" fill="#fff"/>
<path d="M279.4,1372.0 L277.6,1371.3 L278.7,1369.7 L279.7,1367.5 L281.3,1369.8 L280.6,1371.6Z" fill="#fff"/>
<path d="M285.3,1400.7 L283.3,1401.2 L283.0,1398.8 L283.7,1397.6 L285.5,1396.5 L287.0,1398.0 L287.2,1400.4Z" fill="#fff"/>
<path d="M405.6,1521.5 L404.8,1523.4 L403.4,1522.1 L403.0,1520.8 L401.9,1519.9 L402.3,1517.8 L403.9,1518.3 L404.6,1519.0 L406.0,1519.8Z" fill="#fff"/>
<path d="M365.4,1511.6 L364.4,1511.0 L364.4,1509.8 L365.3,1509.5 L366.0,1509.2 L366.7,1510.1 L366.7,1511.7Z" fill="#fff"/>
<path d="M387.9,1516.0 L388.6,1516.7 L388.3,1517.7 L387.9,1517.9 L387.1,1518.4 L386.7,1517.9 L386.2,1516.7 L387.2,1516.6Z" fill="#fff"/>
<path d="M294.0,1437.7 L293.3,1439.6 L291.9,1439.5 L290.7,1438.7 L291.0,1437.1 L292.5,1437.3Z" fill="#fff"/>
<path d="M370.4,1520.4 L369.9,1521.6 L369.6,1522.4 L368.6,1522.8 L368.3,1521.8 L367.8,1521.0 L368.3,1520.4 L369.3,1520.5Z" fill="#fff"/>
<path d="M268.4,1386.3 L268.6,1386.9 L268.3,1387.7 L267.7,1387.6 L267.1,1387.9 L266.7,1387.0 L266.8,1386.1 L267.4,1386.0 L268.0,1385.2Z" fill="#fff"/>
<path d="M263.8,1382.4 L262.6,1380.7 L262.7,1379.1 L263.9,1377.0 L265.3,1378.6 L267.1,1379.1 L266.1,1381.0 L265.4,1382.5Z" fill="#fff"/>
<path d="M318.1,1482.1 L316.3,1482.5 L315.5,1481.4 L314.9,1479.6 L316.3,1478.8 L318.0,1480.1Z" fill="#fff"/>
<path d="M396.8,1524.2 L397.9,1524.5 L399.1,1525.6 L398.4,1527.1 L397.3,1527.9 L396.5,1526.5 L396.3,1525.6Z" fill="#fff"/>
<path d="M376.3,1524.0 L376.2,1522.2 L377.2,1521.3 L378.3,1521.6 L379.4,1523.2 L377.7,1523.5Z" fill="#fff"/>
<path d="M307.2,1495.5 L307.0,1494.0 L306.7,1493.1 L307.4,1492.8 L308.3,1491.9 L308.6,1493.1 L309.1,1494.4 L308.5,1495.7Z" fill="#fff"/>
<path d="M375.7,1513.2 L373.9,1513.4 L373.7,1511.4 L375.2,1510.5 L376.1,1510.7 L377.8,1510.2 L376.9,1511.9 L377.1,1513.8Z" fill="#fff"/>
<path d="M271.6,1377.6 L269.9,1378.8 L269.1,1378.9 L268.3,1378.8 L268.0,1377.8 L267.1,1376.1 L269.0,1376.1 L270.0,1376.8Z" fill="#fff"/>
<path d="M335.5,1492.7 L336.3,1493.5 L336.8,1495.3 L335.5,1496.2 L334.7,1496.7 L334.1,1495.4 L333.0,1495.0 L333.2,1493.7 L334.3,1493.0Z" fill="#fff"/>
<path d="M276.9,1417.6 L276.6,1418.2 L276.0,1418.2 L275.3,1417.8 L275.5,1417.2 L275.8,1416.5 L276.4,1416.6 L276.8,1417.0Z" fill="#fff"/>
<path d="M341.7,1497.1 L342.5,1498.0 L342.4,1498.9 L342.2,1499.8 L341.5,1500.3 L340.8,1499.9 L340.5,1498.8 L341.2,1498.4Z" fill="#fff"/>
<path d="M367.2,1511.8 L367.9,1511.6 L368.9,1511.1 L369.4,1512.2 L369.1,1513.2 L368.6,1514.3 L367.8,1513.6 L367.3,1512.9Z" fill="#fff"/>
<path d="M289.3,1462.1 L289.1,1463.7 L288.0,1465.1 L286.9,1463.8 L286.3,1462.2 L287.7,1461.5Z" fill="#fff"/>
<path d="M413.6,1527.7 L414.1,1527.3 L414.6,1527.6 L415.1,1528.2 L414.5,1528.7 L413.9,1528.3Z" fill="#fff"/>
<path d="M291.3,1453.8 L290.5,1453.9 L289.5,1454.5 L289.6,1453.4 L288.9,1452.1 L289.6,1451.5 L290.7,1452.1 L291.8,1451.7 L291.6,1453.2Z" fill="#fff"/>
<path d="M279.5,1475.1 L279.5,1477.5 L278.0,1479.1 L277.1,1477.6 L276.8,1476.4 L277.7,1475.7Z" fill="#fff"/>
<path d="M333.8,1506.6 L332.5,1508.3 L331.7,1506.0 L331.3,1504.5 L333.0,1503.9 L334.3,1504.7Z" fill="#fff"/>
<path d="M365.5,1501.3 L366.7,1502.3 L365.8,1503.5 L364.9,1503.7 L362.8,1503.4 L363.9,1501.8Z" fill="#fff"/>
<path d="M280.8,1399.8 L280.0,1399.5 L279.6,1398.5 L280.1,1397.1 L281.8,1397.3 L281.8,1399.1Z" fill="#fff"/>
<path d="M379.5,1514.7 L380.4,1515.1 L381.0,1515.1 L381.9,1516.1 L381.4,1517.8 L380.2,1518.1 L378.8,1517.3 L379.0,1516.0Z" fill="#fff"/>
<path d="M292.1,1489.9 L293.4,1490.2 L292.5,1491.6 L291.3,1491.9 L291.3,1490.5 L291.3,1489.2Z" fill="#fff"/>
<path d="M354.1,1512.3 L353.4,1511.9 L353.4,1510.9 L354.2,1510.7 L355.1,1509.4 L355.3,1510.9 L355.5,1511.7 L355.2,1512.4 L354.7,1512.6Z" fill="#fff"/>
<path d="M341.6,1508.3 L341.0,1507.3 L341.3,1505.6 L342.7,1505.9 L344.3,1506.3 L343.6,1507.7 L342.8,1508.7Z" fill="#fff"/>
<path d="M293.2,1427.5 L293.3,1428.6 L292.5,1430.9 L291.0,1429.9 L290.6,1428.2 L290.6,1427.3 L290.2,1425.0 L291.9,1425.4 L292.5,1427.0Z" fill="#fff"/>
<path d="M359.3,1504.0 L359.3,1505.2 L358.5,1504.9 L358.0,1504.2 L357.5,1503.5 L358.0,1502.5 L358.9,1503.2 L359.5,1502.7 L359.9,1503.5Z" fill="#fff"/>
<path d="M327.5,1489.4 L326.8,1489.4 L327.0,1488.5 L327.1,1488.1 L327.7,1487.8 L328.3,1487.8 L328.5,1488.6 L328.5,1489.3 L328.2,1490.5Z" fill="#fff"/>
<path d="M380.0,1523.5 L380.6,1524.1 L380.3,1525.0 L380.1,1526.0 L379.3,1525.8 L378.7,1524.8 L379.1,1523.7Z" fill="#fff"/>
<path d="M296.5,1493.0 L296.6,1490.8 L298.2,1491.2 L299.0,1491.9 L299.2,1492.9 L298.5,1493.7 L297.5,1493.7Z" fill="#fff"/>
<path d="M320.7,1496.1 L321.0,1495.4 L321.6,1495.3 L322.3,1495.2 L322.5,1496.2 L322.2,1497.0 L321.5,1497.4 L320.9,1496.8Z" fill="#fff"/>
<path d="M326.8,1489.3 L326.1,1488.7 L325.9,1487.9 L326.1,1487.0 L327.0,1486.4 L327.6,1487.2 L328.4,1488.1 L328.1,1489.7Z" fill="#fff"/>
<path d="M306.1,1486.8 L306.5,1486.7 L307.2,1486.8 L307.2,1487.7 L306.7,1487.8 L306.0,1488.5 L305.7,1487.6 L305.3,1486.8Z" fill="#fff"/>
<path d="M345.6,1498.0 L345.6,1496.4 L346.8,1495.3 L348.0,1495.3 L348.6,1495.9 L349.0,1497.0 L349.2,1498.7 L347.9,1498.9 L347.0,1498.1Z" fill="#fff"/>
<path d="M320.2,1486.6 L320.7,1488.2 L319.3,1489.3 L318.2,1489.3 L317.0,1489.1 L316.8,1487.7 L317.5,1486.8 L317.8,1484.8 L319.2,1485.2Z" fill="#fff"/>
<path d="M387.9,1517.4 L388.7,1517.5 L388.9,1518.5 L387.8,1519.5 L386.9,1518.6 L387.1,1517.3Z" fill="#fff"/>
<path d="M411.9,1523.8 L411.1,1524.4 L410.3,1524.6 L409.8,1524.1 L409.8,1523.4 L410.2,1522.4 L410.9,1523.2Z" fill="#fff"/>
<path d="M393.3,1515.3 L392.6,1516.9 L392.2,1517.9 L390.9,1518.0 L391.2,1516.4 L391.5,1515.1Z" fill="#fff"/>
<path d="M337.6,1502.9 L337.4,1503.8 L336.7,1504.0 L335.9,1504.6 L335.2,1503.8 L335.4,1502.8 L335.7,1502.1 L336.6,1501.0 L337.5,1502.1Z" fill="#fff"/>
<path d="M312.8,1483.1 L312.8,1481.6 L314.0,1480.9 L315.2,1480.3 L316.6,1481.2 L315.5,1482.7 L314.6,1484.3Z" fill="#fff"/>
<path d="M286.5,1383.0 L286.9,1382.7 L287.5,1382.7 L288.5,1383.3 L288.1,1384.6 L287.1,1384.3 L286.5,1384.2 L286.1,1383.6Z" fill="#fff"/>
<path d="M299.9,1472.2 L300.9,1471.6 L301.4,1471.4 L301.8,1472.1 L302.2,1473.0 L301.2,1473.9 L300.2,1473.1Z" fill="#fff"/>
<path d="M284.4,1418.4 L284.1,1417.2 L285.2,1416.7 L285.8,1417.5 L286.5,1418.6 L285.2,1419.5Z" fill="#fff"/>
<path d="M388.9,1518.2 L389.4,1520.3 L388.6,1521.8 L387.3,1521.9 L386.8,1520.5 L387.4,1519.2Z" fill="#fff"/>
<path d="M325.1,1490.2 L326.2,1489.9 L326.9,1490.5 L326.9,1491.8 L326.2,1492.9 L325.1,1492.5 L324.9,1491.2Z" fill="#fff"/>
<path d="M289.7,1484.5 L290.2,1483.5 L291.8,1482.0 L292.6,1484.4 L292.0,1485.8 L290.7,1487.5 L289.0,1485.9Z" fill="#fff"/>
<path d="M307.0,1477.9 L305.3,1478.9 L304.6,1476.7 L304.5,1474.8 L306.0,1475.3 L307.6,1475.7Z" fill="#fff"/>
<path d="M304.0,1490.5 L303.6,1489.9 L304.0,1489.4 L304.8,1489.3 L305.1,1489.9 L305.6,1490.6 L305.0,1491.5 L304.3,1491.3Z" fill="#fff"/>
<path d="M374.2,1516.7 L372.2,1516.1 L370.1,1515.8 L370.9,1513.8 L372.8,1513.8 L374.4,1514.5Z" fill="#fff"/>
<path d="M374.2,1511.9 L374.7,1512.5 L374.6,1513.5 L373.6,1513.6 L373.5,1512.7 L373.3,1511.8Z" fill="#fff"/>
<path d="M343.0,1510.9 L342.2,1511.9 L340.9,1511.9 L340.1,1511.7 L339.0,1511.2 L339.3,1509.6 L340.2,1509.2 L341.6,1508.4 L343.0,1508.6Z" fill="#fff"/>
<path d="M381.7,1518.5 L381.4,1517.8 L381.7,1517.1 L382.5,1517.4 L383.2,1517.4 L383.4,1517.9 L383.0,1518.4 L382.8,1519.3 L382.0,1519.5Z" fill="#fff"/>
<path d="M414.1,1527.2 L412.5,1527.9 L411.4,1529.2 L411.1,1527.2 L410.3,1525.8 L411.9,1525.3 L413.2,1525.9Z" fill="#fff"/>
<path d="M323.9,1497.9 L323.8,1498.5 L323.0,1499.2 L322.5,1498.6 L322.4,1497.8 L322.7,1497.2 L323.1,1497.2 L323.9,1497.0Z" fill="#fff"/>
<path d="M293.8,1465.6 L294.8,1464.1 L295.6,1466.0 L296.0,1466.9 L295.2,1467.9 L294.4,1468.3 L293.3,1467.5 L292.5,1466.3Z" fill="#fff"/>
<path d="M294.3,1481.3 L293.9,1482.2 L293.4,1482.4 L292.8,1482.3 L291.5,1482.5 L292.3,1481.3 L292.7,1480.8 L293.2,1480.0 L293.7,1480.9Z" fill="#fff"/>
<g fill="#ffffff" fill-opacity="0.42" stroke="#85857c" stroke-opacity="0.64" stroke-width="1.5"><circle cx="147.0" cy="213.0" r="6.0"/><circle cx="140.5" cy="228.2" r="6.0"/><circle cx="412.3" cy="240.0" r="6.0"/><circle cx="425.3" cy="242.0" r="6.0"/><circle cx="326.1" cy="235.0" r="6.0"/><circle cx="332.3" cy="237.5" r="6.0"/><circle cx="304.9" cy="250.0" r="6.0"/><circle cx="313.6" cy="245.0" r="6.0"/><circle cx="318.6" cy="242.5" r="6.0"/><circle cx="282.4" cy="253.7" r="6.0"/><circle cx="279.9" cy="261.2" r="6.0"/><circle cx="272.4" cy="258.7" r="6.0"/><circle cx="267.4" cy="262.5" r="6.0"/><circle cx="258.7" cy="267.4" r="6.0"/><circle cx="254.9" cy="272.4" r="6.0"/><circle cx="252.4" cy="279.9" r="6.0"/><circle cx="247.4" cy="287.4" r="6.0"/><circle cx="257.4" cy="286.2" r="6.0"/><circle cx="252.4" cy="294.9" r="6.0"/><circle cx="233.7" cy="307.4" r="6.0"/><circle cx="236.2" cy="313.7" r="6.0"/><circle cx="368.6" cy="246.2" r="6.0"/><circle cx="394.8" cy="256.2" r="6.0"/><circle cx="396.1" cy="260.0" r="6.0"/><circle cx="337.3" cy="260.0" r="6.0"/><circle cx="332.3" cy="253.7" r="6.0"/><circle cx="338.6" cy="273.7" r="6.0"/><circle cx="334.8" cy="283.7" r="6.0"/><circle cx="436.0" cy="269.9" r="6.0"/><circle cx="421.8" cy="280.4" r="6.0"/><circle cx="381.1" cy="291.2" r="6.0"/><circle cx="409.8" cy="304.9" r="6.0"/><circle cx="379.3" cy="323.7" r="6.0"/><circle cx="348.6" cy="299.9" r="6.0"/><circle cx="338.1" cy="306.2" r="6.0"/><circle cx="338.1" cy="334.1" r="6.0"/><circle cx="279.1" cy="291.7" r="6.0"/><circle cx="290.6" cy="294.4" r="6.0"/><circle cx="266.1" cy="308.7" r="6.0"/><circle cx="271.1" cy="324.9" r="6.0"/><circle cx="274.4" cy="333.6" r="6.0"/><circle cx="266.1" cy="338.6" r="6.0"/><circle cx="261.7" cy="344.9" r="6.0"/><circle cx="258.7" cy="351.1" r="6.0"/><circle cx="304.1" cy="357.4" r="6.0"/><circle cx="298.6" cy="359.1" r="6.0"/><circle cx="316.1" cy="374.9" r="6.0"/><circle cx="224.9" cy="359.9" r="6.0"/><circle cx="222.4" cy="383.6" r="6.0"/><circle cx="254.9" cy="372.4" r="6.0"/><circle cx="249.9" cy="376.1" r="6.0"/><circle cx="246.2" cy="386.1" r="6.0"/><circle cx="252.4" cy="383.6" r="6.0"/><circle cx="266.1" cy="383.6" r="6.0"/><circle cx="274.4" cy="388.6" r="6.0"/><circle cx="282.4" cy="378.6" r="6.0"/><circle cx="288.6" cy="373.6" r="6.0"/><circle cx="286.1" cy="367.4" r="6.0"/><circle cx="294.9" cy="389.9" r="6.0"/><circle cx="306.1" cy="391.1" r="6.0"/><circle cx="291.1" cy="401.8" r="6.0"/><circle cx="305.4" cy="404.8" r="6.0"/><circle cx="242.4" cy="398.6" r="6.0"/><circle cx="239.2" cy="404.8" r="6.0"/><circle cx="218.7" cy="406.1" r="6.0"/><circle cx="237.4" cy="419.8" r="6.0"/><circle cx="234.9" cy="422.3" r="6.0"/><circle cx="196.2" cy="432.3" r="6.0"/><circle cx="190.0" cy="446.1" r="6.0"/><circle cx="180.0" cy="448.6" r="6.0"/><circle cx="175.0" cy="456.1" r="6.0"/><circle cx="171.2" cy="462.3" r="6.0"/><circle cx="176.2" cy="463.6" r="6.0"/><circle cx="170.0" cy="482.3" r="6.0"/><circle cx="183.0" cy="486.8" r="6.0"/><circle cx="227.9" cy="446.1" r="6.0"/><circle cx="203.7" cy="452.3" r="6.0"/><circle cx="237.4" cy="474.8" r="6.0"/><circle cx="257.9" cy="478.5" r="6.0"/><circle cx="202.4" cy="488.5" r="6.0"/><circle cx="197.4" cy="501.0" r="6.0"/><circle cx="201.9" cy="509.3" r="6.0"/><circle cx="188.0" cy="521.0" r="6.0"/><circle cx="173.7" cy="534.7" r="6.0"/><circle cx="168.0" cy="544.7" r="6.0"/><circle cx="171.2" cy="522.3" r="6.0"/><circle cx="176.2" cy="508.5" r="6.0"/><circle cx="143.0" cy="391.9" r="6.0"/><circle cx="434.8" cy="371.1" r="6.0"/><circle cx="411.8" cy="390.4" r="6.0"/><circle cx="440.0" cy="408.6" r="6.0"/><circle cx="423.5" cy="449.3" r="6.0"/><circle cx="363.6" cy="524.8" r="6.0"/><circle cx="328.6" cy="531.0" r="6.0"/><circle cx="322.4" cy="532.3" r="6.0"/><circle cx="302.4" cy="538.5" r="6.0"/><circle cx="244.9" cy="567.2" r="6.0"/><circle cx="258.7" cy="572.2" r="6.0"/><circle cx="281.6" cy="569.2" r="6.0"/><circle cx="264.1" cy="627.2" r="6.0"/><circle cx="217.4" cy="637.9" r="6.0"/><circle cx="156.2" cy="573.5" r="6.0"/><circle cx="155.0" cy="581.0" r="6.0"/><circle cx="156.7" cy="591.0" r="6.0"/><circle cx="167.5" cy="593.5" r="6.0"/><circle cx="176.2" cy="598.5" r="6.0"/><circle cx="183.7" cy="609.7" r="6.0"/><circle cx="183.7" cy="615.9" r="6.0"/><circle cx="190.0" cy="622.2" r="6.0"/><circle cx="192.5" cy="627.2" r="6.0"/><circle cx="197.4" cy="632.2" r="6.0"/><circle cx="440.0" cy="268.7" r="6.0"/><circle cx="453.7" cy="274.9" r="6.0"/><circle cx="477.5" cy="255.5" r="6.0"/><circle cx="483.7" cy="255.0" r="6.0"/><circle cx="498.7" cy="286.9" r="6.0"/><circle cx="511.2" cy="276.2" r="6.0"/><circle cx="529.9" cy="294.4" r="6.0"/><circle cx="532.4" cy="283.7" r="6.0"/><circle cx="538.7" cy="286.9" r="6.0"/><circle cx="632.4" cy="372.4" r="6.0"/><circle cx="648.6" cy="377.4" r="6.0"/><circle cx="674.8" cy="364.9" r="6.0"/><circle cx="682.3" cy="359.9" r="6.0"/><circle cx="704.8" cy="382.4" r="6.0"/><circle cx="541.2" cy="413.6" r="6.0"/><circle cx="466.2" cy="394.9" r="6.0"/><circle cx="445.0" cy="396.1" r="6.0"/><circle cx="446.2" cy="402.3" r="6.0"/><circle cx="455.0" cy="414.3" r="6.0"/><circle cx="441.2" cy="407.3" r="6.0"/><circle cx="458.0" cy="474.8" r="6.0"/><circle cx="461.2" cy="477.8" r="6.0"/><circle cx="525.4" cy="504.8" r="6.0"/><circle cx="463.7" cy="510.3" r="6.0"/><circle cx="445.0" cy="517.3" r="6.0"/><circle cx="470.0" cy="531.8" r="6.0"/><circle cx="539.9" cy="529.3" r="6.0"/><circle cx="554.9" cy="529.3" r="6.0"/><circle cx="561.7" cy="551.5" r="6.0"/><circle cx="479.5" cy="633.4" r="6.0"/><circle cx="440.0" cy="371.1" r="6.0"/><circle cx="714.5" cy="401.3" r="6.0"/><circle cx="725.4" cy="410.3" r="6.0"/><circle cx="728.7" cy="417.4" r="6.0"/><circle cx="737.0" cy="427.7" r="6.0"/><circle cx="742.2" cy="432.2" r="6.0"/><circle cx="746.1" cy="436.1" r="6.0"/><circle cx="745.4" cy="447.7" r="6.0"/><circle cx="753.8" cy="486.1" r="6.0"/><circle cx="788.0" cy="479.9" r="6.0"/><circle cx="793.8" cy="480.6" r="6.0"/><circle cx="795.7" cy="478.6" r="6.0"/><circle cx="806.7" cy="487.0" r="6.0"/><circle cx="823.4" cy="487.7" r="6.0"/><circle cx="750.0" cy="436.2" r="6.0"/><circle cx="750.0" cy="447.4" r="6.0"/><circle cx="833.7" cy="491.9" r="6.0"/><circle cx="841.2" cy="492.4" r="6.0"/><circle cx="846.2" cy="499.9" r="6.0"/><circle cx="849.9" cy="507.4" r="6.0"/><circle cx="857.4" cy="514.9" r="6.0"/><circle cx="866.2" cy="513.6" r="6.0"/><circle cx="842.4" cy="532.9" r="6.0"/><circle cx="883.6" cy="516.9" r="6.0"/><circle cx="908.6" cy="523.1" r="6.0"/><circle cx="939.9" cy="524.4" r="6.0"/><circle cx="963.6" cy="537.4" r="6.0"/><circle cx="956.8" cy="541.9" r="6.0"/><circle cx="969.3" cy="544.4" r="6.0"/><circle cx="1052.8" cy="541.1" r="6.0"/><circle cx="1079.3" cy="539.9" r="6.0"/><circle cx="999.8" cy="564.9" r="6.0"/><circle cx="1005.3" cy="565.4" r="6.0"/><circle cx="1017.3" cy="573.6" r="6.0"/><circle cx="1026.0" cy="578.6" r="6.0"/><circle cx="1029.3" cy="587.8" r="6.0"/><circle cx="1031.8" cy="616.1" r="6.0"/><circle cx="1033.5" cy="621.1" r="6.0"/><circle cx="1026.8" cy="638.1" r="6.0"/><circle cx="934.9" cy="607.3" r="6.0"/><circle cx="938.1" cy="642.3" r="6.0"/><circle cx="894.4" cy="651.0" r="6.0"/><circle cx="893.6" cy="657.8" r="6.0"/><circle cx="770.0" cy="569.9" r="6.0"/><circle cx="991.1" cy="675.3" r="6.0"/><circle cx="981.1" cy="692.3" r="6.0"/><circle cx="955.3" cy="711.0" r="6.0"/><circle cx="962.3" cy="716.0" r="6.0"/><circle cx="954.3" cy="734.7" r="6.0"/><circle cx="954.8" cy="765.5" r="6.0"/><circle cx="931.9" cy="810.2" r="6.0"/><circle cx="959.8" cy="810.2" r="6.0"/><circle cx="941.1" cy="817.9" r="6.0"/><circle cx="802.0" cy="739.7" r="6.0"/><circle cx="802.5" cy="751.7" r="6.0"/><circle cx="808.7" cy="751.5" r="6.0"/><circle cx="788.2" cy="766.0" r="6.0"/><circle cx="822.4" cy="790.2" r="6.0"/><circle cx="819.9" cy="791.7" r="6.0"/><circle cx="807.0" cy="802.9" r="6.0"/><circle cx="834.4" cy="815.9" r="6.0"/><circle cx="217.9" cy="641.0" r="6.0"/><circle cx="204.9" cy="651.7" r="6.0"/><circle cx="224.4" cy="652.5" r="6.0"/><circle cx="213.7" cy="670.5" r="6.0"/><circle cx="218.7" cy="679.2" r="6.0"/><circle cx="223.7" cy="688.0" r="6.0"/><circle cx="229.9" cy="700.5" r="6.0"/><circle cx="236.2" cy="709.2" r="6.0"/><circle cx="241.2" cy="717.9" r="6.0"/><circle cx="247.4" cy="724.2" r="6.0"/><circle cx="249.9" cy="745.4" r="6.0"/><circle cx="263.6" cy="757.4" r="6.0"/><circle cx="274.4" cy="764.9" r="6.0"/><circle cx="311.1" cy="784.1" r="6.0"/><circle cx="289.9" cy="719.9" r="6.0"/><circle cx="317.4" cy="754.9" r="6.0"/><circle cx="328.6" cy="764.2" r="6.0"/><circle cx="337.3" cy="774.1" r="6.0"/><circle cx="344.8" cy="781.6" r="6.0"/><circle cx="356.1" cy="792.9" r="6.0"/><circle cx="364.8" cy="787.9" r="6.0"/><circle cx="339.8" cy="661.0" r="6.0"/><circle cx="347.3" cy="701.7" r="6.0"/><circle cx="341.1" cy="715.9" r="6.0"/><circle cx="324.9" cy="722.9" r="6.0"/><circle cx="332.3" cy="727.9" r="6.0"/><circle cx="336.1" cy="734.2" r="6.0"/><circle cx="342.3" cy="745.4" r="6.0"/><circle cx="346.1" cy="744.2" r="6.0"/><circle cx="363.6" cy="756.7" r="6.0"/><circle cx="367.3" cy="757.9" r="6.0"/><circle cx="381.1" cy="706.7" r="6.0"/><circle cx="397.8" cy="693.0" r="6.0"/><circle cx="416.8" cy="664.2" r="6.0"/><circle cx="436.0" cy="676.7" r="6.0"/><circle cx="438.5" cy="679.2" r="6.0"/><circle cx="399.8" cy="789.1" r="6.0"/><circle cx="409.8" cy="799.1" r="6.0"/><circle cx="413.5" cy="800.4" r="6.0"/><circle cx="339.8" cy="802.9" r="6.0"/><circle cx="348.6" cy="807.9" r="6.0"/><circle cx="383.6" cy="822.9" r="6.0"/><circle cx="379.8" cy="827.9" r="6.0"/><circle cx="384.8" cy="836.6" r="6.0"/><circle cx="359.3" cy="852.3" r="6.0"/><circle cx="383.6" cy="854.1" r="6.0"/><circle cx="391.1" cy="866.6" r="6.0"/><circle cx="361.1" cy="872.8" r="6.0"/><circle cx="363.6" cy="877.8" r="6.0"/><circle cx="372.3" cy="884.1" r="6.0"/><circle cx="383.6" cy="895.3" r="6.0"/><circle cx="391.1" cy="892.8" r="6.0"/><circle cx="406.0" cy="881.6" r="6.0"/><circle cx="419.8" cy="897.8" r="6.0"/><circle cx="414.8" cy="909.0" r="6.0"/><circle cx="396.1" cy="915.3" r="6.0"/><circle cx="404.8" cy="920.3" r="6.0"/><circle cx="353.6" cy="906.5" r="6.0"/><circle cx="352.3" cy="935.3" r="6.0"/><circle cx="352.3" cy="949.0" r="6.0"/><circle cx="351.1" cy="962.8" r="6.0"/><circle cx="346.1" cy="984.0" r="6.0"/><circle cx="344.8" cy="991.5" r="6.0"/><circle cx="339.8" cy="1007.7" r="6.0"/><circle cx="348.6" cy="1012.7" r="6.0"/><circle cx="378.6" cy="984.0" r="6.0"/><circle cx="408.5" cy="992.7" r="6.0"/><circle cx="421.0" cy="975.2" r="6.0"/><circle cx="431.0" cy="926.5" r="6.0"/><circle cx="436.0" cy="950.3" r="6.0"/><circle cx="440.0" cy="962.8" r="6.0"/><circle cx="440.0" cy="981.5" r="6.0"/><circle cx="347.3" cy="1047.7" r="6.0"/><circle cx="342.3" cy="1052.7" r="6.0"/><circle cx="331.1" cy="1060.2" r="6.0"/><circle cx="332.3" cy="1071.4" r="6.0"/><circle cx="391.1" cy="1041.4" r="6.0"/><circle cx="412.3" cy="1050.2" r="6.0"/><circle cx="373.6" cy="1073.9" r="6.0"/><circle cx="393.6" cy="1067.7" r="6.0"/><circle cx="404.8" cy="1075.9" r="6.0"/><circle cx="314.4" cy="641.0" r="6.0"/><circle cx="480.0" cy="638.0" r="6.0"/><circle cx="440.0" cy="676.7" r="6.0"/><circle cx="472.5" cy="705.4" r="6.0"/><circle cx="534.9" cy="725.4" r="6.0"/><circle cx="533.7" cy="751.2" r="6.0"/><circle cx="554.9" cy="753.4" r="6.0"/><circle cx="559.9" cy="754.2" r="6.0"/><circle cx="629.9" cy="771.6" r="6.0"/><circle cx="627.9" cy="781.6" r="6.0"/><circle cx="739.8" cy="686.2" r="6.0"/><circle cx="482.5" cy="782.4" r="6.0"/><circle cx="483.0" cy="791.6" r="6.0"/><circle cx="485.0" cy="800.4" r="6.0"/><circle cx="494.5" cy="802.9" r="6.0"/><circle cx="493.7" cy="809.1" r="6.0"/><circle cx="448.7" cy="802.9" r="6.0"/><circle cx="485.0" cy="840.3" r="6.0"/><circle cx="490.0" cy="837.9" r="6.0"/><circle cx="597.9" cy="829.9" r="6.0"/><circle cx="626.1" cy="838.6" r="6.0"/><circle cx="624.9" cy="845.3" r="6.0"/><circle cx="622.4" cy="852.3" r="6.0"/><circle cx="589.9" cy="851.6" r="6.0"/><circle cx="576.1" cy="869.1" r="6.0"/><circle cx="582.4" cy="870.3" r="6.0"/><circle cx="594.9" cy="869.1" r="6.0"/><circle cx="721.0" cy="850.8" r="6.0"/><circle cx="705.3" cy="881.6" r="6.0"/><circle cx="458.0" cy="881.6" r="6.0"/><circle cx="523.7" cy="909.0" r="6.0"/><circle cx="544.9" cy="896.6" r="6.0"/><circle cx="473.7" cy="911.5" r="6.0"/><circle cx="485.0" cy="932.3" r="6.0"/><circle cx="519.4" cy="932.8" r="6.0"/><circle cx="526.2" cy="941.5" r="6.0"/><circle cx="542.4" cy="937.8" r="6.0"/><circle cx="558.7" cy="950.3" r="6.0"/><circle cx="551.2" cy="955.3" r="6.0"/><circle cx="602.4" cy="912.8" r="6.0"/><circle cx="624.9" cy="921.5" r="6.0"/><circle cx="662.3" cy="924.0" r="6.0"/><circle cx="641.1" cy="936.5" r="6.0"/><circle cx="636.1" cy="940.3" r="6.0"/><circle cx="671.1" cy="949.0" r="6.0"/><circle cx="673.6" cy="964.0" r="6.0"/><circle cx="704.8" cy="958.3" r="6.0"/><circle cx="714.8" cy="962.8" r="6.0"/><circle cx="739.8" cy="1002.7" r="6.0"/><circle cx="731.0" cy="1007.7" r="6.0"/><circle cx="691.1" cy="1006.5" r="6.0"/><circle cx="676.1" cy="1012.0" r="6.0"/><circle cx="708.5" cy="1017.2" r="6.0"/><circle cx="727.3" cy="1027.7" r="6.0"/><circle cx="743.5" cy="1022.7" r="6.0"/><circle cx="717.3" cy="1032.7" r="6.0"/><circle cx="684.8" cy="1038.9" r="6.0"/><circle cx="689.8" cy="1038.9" r="6.0"/><circle cx="749.8" cy="1037.7" r="6.0"/><circle cx="819.9" cy="791.2" r="6.0"/><circle cx="822.4" cy="790.0" r="6.0"/><circle cx="807.4" cy="802.5" r="6.0"/><circle cx="834.4" cy="816.7" r="6.0"/><circle cx="859.9" cy="840.0" r="6.0"/><circle cx="859.9" cy="846.2" r="6.0"/><circle cx="721.2" cy="851.2" r="6.0"/><circle cx="705.0" cy="881.9" r="6.0"/><circle cx="763.2" cy="882.4" r="6.0"/><circle cx="769.4" cy="912.4" r="6.0"/><circle cx="789.9" cy="913.6" r="6.0"/><circle cx="792.4" cy="904.9" r="6.0"/><circle cx="808.7" cy="900.7" r="6.0"/><circle cx="829.1" cy="906.2" r="6.0"/><circle cx="813.7" cy="922.4" r="6.0"/><circle cx="760.7" cy="950.4" r="6.0"/><circle cx="776.2" cy="952.4" r="6.0"/><circle cx="782.4" cy="944.9" r="6.0"/><circle cx="794.9" cy="936.1" r="6.0"/><circle cx="704.2" cy="958.6" r="6.0"/><circle cx="713.7" cy="962.9" r="6.0"/><circle cx="769.9" cy="966.1" r="6.0"/><circle cx="773.7" cy="964.9" r="6.0"/><circle cx="764.9" cy="979.9" r="6.0"/><circle cx="771.2" cy="979.9" r="6.0"/><circle cx="777.4" cy="993.6" r="6.0"/><circle cx="734.5" cy="1003.6" r="6.0"/><circle cx="726.2" cy="1009.8" r="6.0"/><circle cx="708.0" cy="1016.8" r="6.0"/><circle cx="692.5" cy="1006.8" r="6.0"/><circle cx="727.5" cy="1027.3" r="6.0"/><circle cx="742.5" cy="1022.3" r="6.0"/><circle cx="750.0" cy="1023.6" r="6.0"/><circle cx="711.2" cy="1037.3" r="6.0"/><circle cx="722.5" cy="1034.8" r="6.0"/><circle cx="742.5" cy="1037.3" r="6.0"/><circle cx="690.0" cy="1039.8" r="6.0"/><circle cx="705.0" cy="1057.3" r="6.0"/><circle cx="931.8" cy="810.5" r="6.0"/><circle cx="960.3" cy="810.0" r="6.0"/><circle cx="941.1" cy="821.2" r="6.0"/><circle cx="938.6" cy="841.2" r="6.0"/><circle cx="931.1" cy="845.0" r="6.0"/><circle cx="909.8" cy="886.2" r="6.0"/><circle cx="874.9" cy="903.7" r="6.0"/><circle cx="878.6" cy="904.9" r="6.0"/><circle cx="563.2" cy="1443.3" r="6.0"/><circle cx="575.6" cy="1443.8" r="6.0"/><circle cx="553.0" cy="1459.1" r="6.0"/><circle cx="585.7" cy="1456.3" r="6.0"/><circle cx="597.0" cy="1451.7" r="6.0"/><circle cx="553.3" cy="1138.5" r="6.0"/><circle cx="558.0" cy="1115.9" r="6.0"/><circle cx="459.6" cy="1117.7" r="6.0"/><circle cx="555.1" cy="1016.0" r="6.0"/><circle cx="436.3" cy="1002.2" r="6.0"/><circle cx="590.8" cy="1089.6" r="6.0"/><circle cx="468.7" cy="1066.5" r="6.0"/><circle cx="510.1" cy="1023.9" r="6.0"/><circle cx="605.4" cy="1056.7" r="6.0"/><circle cx="542.5" cy="940.2" r="6.0"/><circle cx="603.8" cy="1022.6" r="6.0"/><circle cx="474.9" cy="1138.3" r="6.0"/><circle cx="610.0" cy="1016.9" r="6.0"/><circle cx="489.2" cy="1088.9" r="6.0"/><circle cx="444.1" cy="910.3" r="6.0"/><circle cx="613.7" cy="1061.3" r="6.0"/><circle cx="598.3" cy="1086.6" r="6.0"/><circle cx="424.3" cy="1221.3" r="6.0"/><circle cx="605.4" cy="1104.2" r="6.0"/><circle cx="717.2" cy="1006.3" r="6.0"/><circle cx="500.4" cy="1190.0" r="6.0"/><circle cx="509.4" cy="1184.7" r="6.0"/><circle cx="529.5" cy="1148.7" r="6.0"/><circle cx="539.9" cy="1167.2" r="6.0"/><circle cx="503.2" cy="1239.3" r="6.0"/><circle cx="442.6" cy="1092.9" r="6.0"/><circle cx="549.3" cy="1134.4" r="6.0"/><circle cx="472.5" cy="1124.1" r="6.0"/><circle cx="591.0" cy="1030.6" r="6.0"/><circle cx="571.1" cy="1158.3" r="6.0"/><circle cx="592.0" cy="1108.6" r="6.0"/><circle cx="489.2" cy="1100.8" r="6.0"/><circle cx="507.7" cy="1049.6" r="6.0"/><circle cx="431.7" cy="1212.9" r="6.0"/><circle cx="573.7" cy="1004.0" r="6.0"/><circle cx="580.6" cy="1085.0" r="6.0"/><circle cx="539.7" cy="1125.3" r="6.0"/><circle cx="466.5" cy="1169.6" r="6.0"/><circle cx="478.8" cy="1211.1" r="6.0"/><circle cx="465.3" cy="1191.8" r="6.0"/><circle cx="594.1" cy="958.8" r="6.0"/><circle cx="509.4" cy="1098.1" r="6.0"/><circle cx="545.5" cy="1156.4" r="6.0"/><circle cx="458.4" cy="1092.5" r="6.0"/><circle cx="536.9" cy="979.9" r="6.0"/><circle cx="615.3" cy="1071.0" r="6.0"/><circle cx="537.0" cy="1209.3" r="6.0"/><circle cx="514.6" cy="1098.9" r="6.0"/><circle cx="519.5" cy="1172.8" r="6.0"/><circle cx="628.1" cy="1041.9" r="6.0"/><circle cx="484.8" cy="1069.7" r="6.0"/><circle cx="463.4" cy="1058.4" r="6.0"/><circle cx="587.5" cy="1115.9" r="6.0"/><circle cx="410.8" cy="1299.6" r="6.0"/><circle cx="579.4" cy="1155.1" r="6.0"/><circle cx="495.0" cy="1180.0" r="6.0"/><circle cx="494.2" cy="1206.7" r="6.0"/><circle cx="480.3" cy="1122.7" r="6.0"/><circle cx="554.4" cy="1009.0" r="6.0"/><circle cx="520.7" cy="1013.1" r="6.0"/><circle cx="525.6" cy="1103.2" r="6.0"/><circle cx="469.6" cy="1079.6" r="6.0"/><circle cx="544.7" cy="1055.6" r="6.0"/><circle cx="634.9" cy="1025.0" r="6.0"/><circle cx="637.9" cy="1018.1" r="6.0"/><circle cx="520.2" cy="1210.8" r="6.0"/><circle cx="522.9" cy="1053.0" r="6.0"/><circle cx="530.7" cy="979.8" r="6.0"/><circle cx="575.5" cy="1131.7" r="6.0"/><circle cx="622.2" cy="1001.8" r="6.0"/><circle cx="567.8" cy="1128.7" r="6.0"/><circle cx="526.4" cy="967.9" r="6.0"/><circle cx="543.7" cy="1022.0" r="6.0"/><circle cx="415.7" cy="1029.2" r="6.0"/><circle cx="603.2" cy="992.4" r="6.0"/><circle cx="504.1" cy="1133.5" r="6.0"/><circle cx="562.8" cy="1008.3" r="6.0"/><circle cx="575.5" cy="1014.4" r="6.0"/><circle cx="625.1" cy="998.4" r="6.0"/><circle cx="560.4" cy="1056.6" r="6.0"/><circle cx="575.6" cy="1172.1" r="6.0"/><circle cx="488.3" cy="1127.5" r="6.0"/><circle cx="489.5" cy="1206.7" r="6.0"/><circle cx="563.0" cy="1098.9" r="6.0"/><circle cx="504.0" cy="1030.2" r="6.0"/><circle cx="502.0" cy="1098.2" r="6.0"/><circle cx="520.9" cy="1193.9" r="6.0"/><circle cx="533.0" cy="1095.9" r="6.0"/><circle cx="467.4" cy="1163.0" r="6.0"/><circle cx="526.6" cy="1129.8" r="6.0"/><circle cx="513.1" cy="1065.6" r="6.0"/><circle cx="427.3" cy="956.3" r="6.0"/><circle cx="458.0" cy="1070.0" r="6.0"/><circle cx="602.5" cy="934.2" r="6.0"/><circle cx="574.0" cy="1176.6" r="6.0"/><circle cx="535.2" cy="1199.4" r="6.0"/><circle cx="510.9" cy="1043.9" r="6.0"/><circle cx="518.4" cy="1112.7" r="6.0"/><circle cx="614.5" cy="981.1" r="6.0"/><circle cx="480.6" cy="1145.8" r="6.0"/><circle cx="521.4" cy="1096.4" r="6.0"/><circle cx="591.3" cy="1138.8" r="6.0"/><circle cx="625.4" cy="1028.8" r="6.0"/><circle cx="464.8" cy="1098.6" r="6.0"/><circle cx="530.2" cy="1142.7" r="6.0"/><circle cx="576.9" cy="1009.7" r="6.0"/><circle cx="511.2" cy="1174.1" r="6.0"/><circle cx="538.2" cy="1083.8" r="6.0"/><circle cx="570.9" cy="1067.6" r="6.0"/><circle cx="638.2" cy="1123.9" r="6.0"/><circle cx="502.2" cy="1067.1" r="6.0"/><circle cx="480.4" cy="1025.2" r="6.0"/><circle cx="534.0" cy="1050.1" r="6.0"/><circle cx="502.7" cy="1111.8" r="6.0"/><circle cx="519.0" cy="1100.5" r="6.0"/><circle cx="477.4" cy="1184.1" r="6.0"/><circle cx="525.4" cy="1183.0" r="6.0"/><circle cx="491.9" cy="1173.4" r="6.0"/><circle cx="579.9" cy="1125.9" r="6.0"/><circle cx="604.9" cy="1018.8" r="6.0"/><circle cx="494.8" cy="1223.7" r="6.0"/><circle cx="492.7" cy="1133.4" r="6.0"/><circle cx="620.7" cy="1051.4" r="6.0"/><circle cx="455.9" cy="1234.1" r="6.0"/><circle cx="607.8" cy="997.4" r="6.0"/><circle cx="472.4" cy="1147.3" r="6.0"/><circle cx="458.0" cy="961.0" r="6.0"/><circle cx="568.6" cy="1084.1" r="6.0"/><circle cx="487.0" cy="1242.4" r="6.0"/><circle cx="479.6" cy="1095.8" r="6.0"/><circle cx="522.4" cy="1041.6" r="6.0"/><circle cx="536.1" cy="1177.7" r="6.0"/><circle cx="515.1" cy="1197.2" r="6.0"/><circle cx="556.9" cy="1065.9" r="6.0"/><circle cx="470.4" cy="1046.1" r="6.0"/><circle cx="587.3" cy="966.3" r="6.0"/><circle cx="470.1" cy="1098.5" r="6.0"/><circle cx="466.6" cy="1061.6" r="6.0"/><circle cx="637.0" cy="1052.8" r="6.0"/><circle cx="486.8" cy="1065.9" r="6.0"/><circle cx="507.7" cy="1062.2" r="6.0"/><circle cx="532.9" cy="998.7" r="6.0"/><circle cx="447.8" cy="1154.0" r="6.0"/><circle cx="504.3" cy="1079.5" r="6.0"/><circle cx="515.7" cy="988.9" r="6.0"/><circle cx="499.3" cy="1186.7" r="6.0"/><circle cx="470.7" cy="1194.8" r="6.0"/><circle cx="477.1" cy="1170.1" r="6.0"/><circle cx="544.7" cy="1065.7" r="6.0"/><circle cx="529.2" cy="1037.8" r="6.0"/><circle cx="532.0" cy="1053.5" r="6.0"/><circle cx="568.4" cy="1149.9" r="6.0"/><circle cx="508.9" cy="1005.2" r="6.0"/><circle cx="593.0" cy="1008.9" r="6.0"/><circle cx="460.1" cy="1099.1" r="6.0"/><circle cx="538.8" cy="1075.8" r="6.0"/><circle cx="503.0" cy="1051.8" r="6.0"/><circle cx="633.1" cy="997.0" r="6.0"/><circle cx="585.3" cy="1066.3" r="6.0"/><circle cx="567.8" cy="1177.8" r="6.0"/><circle cx="504.7" cy="1206.4" r="6.0"/><circle cx="566.7" cy="1140.3" r="6.0"/><circle cx="478.0" cy="1003.4" r="6.0"/><circle cx="483.1" cy="1206.3" r="6.0"/><circle cx="542.2" cy="1202.5" r="6.0"/><circle cx="475.9" cy="975.3" r="6.0"/><circle cx="644.6" cy="946.5" r="6.0"/><circle cx="437.1" cy="1038.6" r="6.0"/><circle cx="584.9" cy="1105.1" r="6.0"/><circle cx="494.3" cy="1065.4" r="6.0"/><circle cx="531.3" cy="1196.9" r="6.0"/><circle cx="401.7" cy="1141.2" r="6.0"/><circle cx="613.9" cy="1014.2" r="6.0"/><circle cx="563.8" cy="1054.1" r="6.0"/><circle cx="564.5" cy="1075.3" r="6.0"/><circle cx="648.7" cy="971.5" r="6.0"/><circle cx="454.1" cy="946.7" r="6.0"/><circle cx="518.9" cy="1016.5" r="6.0"/><circle cx="457.1" cy="941.0" r="6.0"/><circle cx="517.6" cy="1082.4" r="6.0"/><circle cx="507.3" cy="1223.0" r="6.0"/><circle cx="537.9" cy="1202.1" r="6.0"/><circle cx="490.7" cy="1189.6" r="6.0"/><circle cx="617.2" cy="1059.5" r="6.0"/><circle cx="571.7" cy="1142.0" r="6.0"/><circle cx="553.6" cy="1184.5" r="6.0"/><circle cx="529.6" cy="995.1" r="6.0"/><circle cx="595.5" cy="1119.1" r="6.0"/><circle cx="448.2" cy="1098.9" r="6.0"/><circle cx="566.8" cy="1000.2" r="6.0"/><circle cx="513.9" cy="1032.2" r="6.0"/><circle cx="492.5" cy="1157.3" r="6.0"/><circle cx="558.3" cy="951.2" r="6.0"/><circle cx="520.1" cy="980.3" r="6.0"/><circle cx="521.1" cy="1030.0" r="6.0"/><circle cx="446.2" cy="1169.6" r="6.0"/><circle cx="516.2" cy="1201.1" r="6.0"/><circle cx="597.7" cy="1018.9" r="6.0"/><circle cx="541.7" cy="1017.4" r="6.0"/><circle cx="630.2" cy="1001.5" r="6.0"/><circle cx="542.2" cy="1043.6" r="6.0"/><circle cx="557.7" cy="1032.5" r="6.0"/><circle cx="556.8" cy="1069.6" r="6.0"/><circle cx="468.3" cy="1055.9" r="6.0"/><circle cx="533.1" cy="1217.7" r="6.0"/><circle cx="453.4" cy="1177.3" r="6.0"/><circle cx="436.9" cy="1098.9" r="6.0"/><circle cx="517.9" cy="1128.1" r="6.0"/><circle cx="497.9" cy="1233.2" r="6.0"/><circle cx="471.2" cy="1091.5" r="6.0"/><circle cx="431.5" cy="1264.8" r="6.0"/><circle cx="537.3" cy="1161.3" r="6.0"/><circle cx="411.1" cy="1076.0" r="6.0"/><circle cx="510.1" cy="1107.7" r="6.0"/><circle cx="533.1" cy="1025.2" r="6.0"/><circle cx="485.4" cy="1055.0" r="6.0"/><circle cx="561.9" cy="1050.9" r="6.0"/><circle cx="579.8" cy="1133.2" r="6.0"/><circle cx="505.0" cy="1105.5" r="6.0"/><circle cx="657.3" cy="1107.0" r="6.0"/><circle cx="523.0" cy="1155.2" r="6.0"/><circle cx="500.4" cy="1160.0" r="6.0"/><circle cx="535.8" cy="1019.3" r="6.0"/><circle cx="527.2" cy="1089.7" r="6.0"/><circle cx="628.2" cy="1133.4" r="6.0"/><circle cx="468.9" cy="1075.4" r="6.0"/><circle cx="431.8" cy="1217.9" r="6.0"/><circle cx="577.0" cy="1064.0" r="6.0"/><circle cx="509.8" cy="1198.4" r="6.0"/><circle cx="527.2" cy="1206.7" r="6.0"/><circle cx="554.5" cy="1106.8" r="6.0"/><circle cx="588.0" cy="1039.9" r="6.0"/><circle cx="582.2" cy="1160.3" r="6.0"/><circle cx="497.6" cy="1005.0" r="6.0"/><circle cx="564.7" cy="1013.6" r="6.0"/><circle cx="492.2" cy="1116.5" r="6.0"/><circle cx="666.3" cy="1008.0" r="6.0"/><circle cx="476.7" cy="1092.0" r="6.0"/><circle cx="420.1" cy="1287.3" r="6.0"/><circle cx="416.5" cy="1184.9" r="6.0"/><circle cx="579.3" cy="1049.1" r="6.0"/><circle cx="464.1" cy="1201.7" r="6.0"/><circle cx="512.5" cy="1200.4" r="6.0"/><circle cx="576.9" cy="1147.3" r="6.0"/><circle cx="579.1" cy="1040.9" r="6.0"/><circle cx="554.2" cy="997.0" r="6.0"/><circle cx="511.5" cy="998.6" r="6.0"/><circle cx="486.1" cy="1122.4" r="6.0"/><circle cx="500.5" cy="1038.4" r="6.0"/><circle cx="480.6" cy="989.8" r="6.0"/><circle cx="495.5" cy="1153.1" r="6.0"/><circle cx="417.8" cy="1292.8" r="6.0"/><circle cx="525.3" cy="947.3" r="6.0"/><circle cx="459.7" cy="1046.2" r="6.0"/><circle cx="502.4" cy="974.5" r="6.0"/><circle cx="579.4" cy="1130.0" r="6.0"/><circle cx="594.0" cy="1023.1" r="6.0"/><circle cx="557.8" cy="978.0" r="6.0"/><circle cx="661.9" cy="1069.2" r="6.0"/><circle cx="623.5" cy="1097.3" r="6.0"/><circle cx="598.3" cy="1076.4" r="6.0"/><circle cx="556.1" cy="1039.6" r="6.0"/><circle cx="451.9" cy="1116.4" r="6.0"/><circle cx="477.3" cy="1148.9" r="6.0"/><circle cx="635.6" cy="1046.0" r="6.0"/><circle cx="575.0" cy="1059.8" r="6.0"/><circle cx="568.8" cy="1012.0" r="6.0"/><circle cx="616.2" cy="1096.1" r="6.0"/><circle cx="569.1" cy="1104.6" r="6.0"/><circle cx="571.4" cy="1080.4" r="6.0"/><circle cx="563.8" cy="1021.4" r="6.0"/><circle cx="571.1" cy="1044.0" r="6.0"/><circle cx="438.8" cy="1211.1" r="6.0"/><circle cx="577.9" cy="1107.2" r="6.0"/><circle cx="479.5" cy="1037.5" r="6.0"/><circle cx="540.0" cy="1071.9" r="6.0"/><circle cx="461.3" cy="1228.2" r="6.0"/><circle cx="447.6" cy="1134.8" r="6.0"/><circle cx="643.7" cy="950.9" r="6.0"/><circle cx="565.3" cy="1150.7" r="6.0"/><circle cx="501.5" cy="991.1" r="6.0"/><circle cx="573.1" cy="1073.5" r="6.0"/><circle cx="547.9" cy="1092.1" r="6.0"/><circle cx="613.3" cy="1073.8" r="6.0"/><circle cx="535.5" cy="1187.0" r="6.0"/><circle cx="547.3" cy="1179.2" r="6.0"/><circle cx="472.3" cy="1068.3" r="6.0"/><circle cx="483.0" cy="1201.8" r="6.0"/><circle cx="491.1" cy="1141.7" r="6.0"/><circle cx="445.8" cy="1158.5" r="6.0"/><circle cx="518.4" cy="1225.1" r="6.0"/><circle cx="500.1" cy="1196.0" r="6.0"/><circle cx="469.0" cy="1201.0" r="6.0"/><circle cx="473.0" cy="1164.6" r="6.0"/><circle cx="475.1" cy="1207.6" r="6.0"/><circle cx="599.1" cy="936.4" r="6.0"/><circle cx="416.9" cy="939.3" r="6.0"/><circle cx="638.9" cy="971.7" r="6.0"/><circle cx="591.5" cy="1049.8" r="6.0"/><circle cx="482.1" cy="1022.1" r="6.0"/><circle cx="602.2" cy="1011.9" r="6.0"/><circle cx="570.2" cy="1074.7" r="6.0"/><circle cx="571.4" cy="1098.8" r="6.0"/><circle cx="707.4" cy="992.4" r="6.0"/><circle cx="554.1" cy="1067.9" r="6.0"/><circle cx="585.2" cy="1118.9" r="6.0"/><circle cx="602.2" cy="1148.3" r="6.0"/><circle cx="585.3" cy="1041.5" r="6.0"/><circle cx="472.0" cy="1180.7" r="6.0"/><circle cx="407.0" cy="1242.1" r="6.0"/><circle cx="459.6" cy="1171.3" r="6.0"/><circle cx="592.1" cy="1061.5" r="6.0"/><circle cx="479.0" cy="1016.3" r="6.0"/><circle cx="567.2" cy="1062.1" r="6.0"/><circle cx="524.9" cy="1038.6" r="6.0"/><circle cx="458.1" cy="1112.6" r="6.0"/><circle cx="422.3" cy="1271.1" r="6.0"/><circle cx="413.1" cy="1254.0" r="6.0"/><circle cx="451.8" cy="911.3" r="6.0"/><circle cx="572.8" cy="1063.8" r="6.0"/><circle cx="532.3" cy="1130.7" r="6.0"/><circle cx="525.2" cy="1202.4" r="6.0"/><circle cx="460.0" cy="1066.1" r="6.0"/><circle cx="521.7" cy="1158.4" r="6.0"/><circle cx="536.3" cy="1140.4" r="6.0"/><circle cx="464.5" cy="1137.2" r="6.0"/><circle cx="506.2" cy="1067.9" r="6.0"/><circle cx="588.9" cy="1148.2" r="6.0"/><circle cx="573.3" cy="1117.0" r="6.0"/><circle cx="496.5" cy="1093.2" r="6.0"/><circle cx="564.4" cy="1068.1" r="6.0"/><circle cx="411.2" cy="1068.8" r="6.0"/><circle cx="632.3" cy="960.5" r="6.0"/><circle cx="550.6" cy="1023.4" r="6.0"/><circle cx="705.9" cy="987.8" r="6.0"/><circle cx="559.6" cy="1026.0" r="6.0"/><circle cx="468.0" cy="1174.8" r="6.0"/><circle cx="611.3" cy="1034.4" r="6.0"/><circle cx="409.3" cy="1114.3" r="6.0"/><circle cx="557.2" cy="946.4" r="6.0"/><circle cx="538.7" cy="1054.3" r="6.0"/><circle cx="518.4" cy="1048.1" r="6.0"/><circle cx="482.9" cy="1032.2" r="6.0"/><circle cx="501.0" cy="1059.6" r="6.0"/><circle cx="444.8" cy="1172.6" r="6.0"/><circle cx="496.8" cy="1079.7" r="6.0"/><circle cx="509.1" cy="978.3" r="6.0"/><circle cx="604.5" cy="1033.9" r="6.0"/><circle cx="542.3" cy="1048.8" r="6.0"/><circle cx="439.1" cy="1246.4" r="6.0"/><circle cx="590.0" cy="937.3" r="6.0"/><circle cx="539.7" cy="1119.2" r="6.0"/><circle cx="503.3" cy="1086.0" r="6.0"/><circle cx="592.5" cy="1016.6" r="6.0"/><circle cx="556.8" cy="1006.9" r="6.0"/><circle cx="581.5" cy="1148.0" r="6.0"/><circle cx="479.4" cy="1177.0" r="6.0"/><circle cx="509.2" cy="1141.6" r="6.0"/><circle cx="501.0" cy="1091.6" r="6.0"/><circle cx="514.2" cy="993.9" r="6.0"/><circle cx="550.3" cy="1123.7" r="6.0"/><circle cx="567.6" cy="1044.5" r="6.0"/><circle cx="556.6" cy="1127.0" r="6.0"/><circle cx="538.6" cy="1100.7" r="6.0"/><circle cx="555.9" cy="1174.8" r="6.0"/><circle cx="551.4" cy="1188.8" r="6.0"/><circle cx="480.7" cy="993.6" r="6.0"/><circle cx="540.5" cy="1197.4" r="6.0"/><circle cx="519.0" cy="1042.6" r="6.0"/><circle cx="709.0" cy="1067.6" r="6.0"/><circle cx="533.2" cy="1014.5" r="6.0"/><circle cx="463.5" cy="1125.9" r="6.0"/><circle cx="629.2" cy="1008.0" r="6.0"/><circle cx="426.4" cy="1148.1" r="6.0"/><circle cx="429.7" cy="1307.7" r="6.0"/><circle cx="646.0" cy="1124.3" r="6.0"/><circle cx="568.7" cy="1089.1" r="6.0"/><circle cx="491.5" cy="1019.9" r="6.0"/><circle cx="416.8" cy="966.0" r="6.0"/><circle cx="472.4" cy="959.0" r="6.0"/><circle cx="567.8" cy="1077.7" r="6.0"/><circle cx="581.4" cy="939.7" r="6.0"/><circle cx="418.4" cy="1023.5" r="6.0"/><circle cx="519.7" cy="983.6" r="6.0"/><circle cx="428.8" cy="1127.5" r="6.0"/><circle cx="480.4" cy="1066.1" r="6.0"/><circle cx="637.9" cy="1076.2" r="6.0"/><circle cx="619.9" cy="954.6" r="6.0"/><circle cx="443.0" cy="1027.2" r="6.0"/><circle cx="490.1" cy="1163.3" r="6.0"/><circle cx="417.9" cy="1095.8" r="6.0"/><circle cx="555.1" cy="1086.9" r="6.0"/><circle cx="417.0" cy="947.2" r="6.0"/><circle cx="601.9" cy="1007.9" r="6.0"/><circle cx="590.6" cy="1073.0" r="6.0"/><circle cx="467.3" cy="984.1" r="6.0"/><circle cx="481.3" cy="1162.3" r="6.0"/><circle cx="598.8" cy="1006.9" r="6.0"/><circle cx="503.7" cy="944.3" r="6.0"/><circle cx="490.5" cy="1053.1" r="6.0"/><circle cx="598.8" cy="1035.9" r="6.0"/><circle cx="594.4" cy="1002.5" r="6.0"/><circle cx="523.4" cy="1083.8" r="6.0"/><circle cx="590.2" cy="1135.4" r="6.0"/><circle cx="576.4" cy="1092.5" r="6.0"/><circle cx="474.8" cy="1016.2" r="6.0"/><circle cx="455.2" cy="1174.5" r="6.0"/><circle cx="498.5" cy="1096.8" r="6.0"/><circle cx="495.9" cy="1057.1" r="6.0"/><circle cx="426.1" cy="1268.6" r="6.0"/><circle cx="551.9" cy="1172.4" r="6.0"/><circle cx="583.7" cy="1100.1" r="6.0"/><circle cx="548.5" cy="1069.4" r="6.0"/><circle cx="681.5" cy="1014.9" r="6.0"/><circle cx="505.3" cy="1108.6" r="6.0"/><circle cx="564.0" cy="982.1" r="6.0"/><circle cx="474.6" cy="1194.6" r="6.0"/><circle cx="554.3" cy="1116.7" r="6.0"/><circle cx="424.7" cy="1175.8" r="6.0"/><circle cx="550.8" cy="1129.1" r="6.0"/><circle cx="481.9" cy="1234.3" r="6.0"/><circle cx="635.7" cy="1032.9" r="6.0"/><circle cx="519.8" cy="1065.2" r="6.0"/><circle cx="604.1" cy="1082.4" r="6.0"/><circle cx="449.6" cy="1168.9" r="6.0"/><circle cx="472.6" cy="950.4" r="6.0"/><circle cx="410.9" cy="1228.5" r="6.0"/><circle cx="476.9" cy="1116.1" r="6.0"/><circle cx="606.3" cy="1123.5" r="6.0"/><circle cx="588.3" cy="1002.7" r="6.0"/><circle cx="626.4" cy="1003.0" r="6.0"/><circle cx="587.3" cy="1159.1" r="6.0"/><circle cx="551.7" cy="1081.7" r="6.0"/><circle cx="551.3" cy="1178.4" r="6.0"/><circle cx="576.9" cy="1053.4" r="6.0"/><circle cx="492.4" cy="1102.1" r="6.0"/><circle cx="671.9" cy="1016.6" r="6.0"/><circle cx="444.4" cy="1006.6" r="6.0"/><circle cx="588.0" cy="1155.7" r="6.0"/><circle cx="484.4" cy="1099.7" r="6.0"/><circle cx="518.2" cy="1147.6" r="6.0"/><circle cx="483.6" cy="946.5" r="6.0"/><circle cx="512.2" cy="1052.4" r="6.0"/><circle cx="518.8" cy="1204.8" r="6.0"/><circle cx="539.6" cy="1152.9" r="6.0"/><circle cx="397.6" cy="1223.1" r="6.0"/><circle cx="543.0" cy="1106.0" r="6.0"/><circle cx="477.3" cy="1163.4" r="6.0"/><circle cx="490.1" cy="1029.9" r="6.0"/><circle cx="516.9" cy="1000.6" r="6.0"/><circle cx="631.1" cy="935.2" r="6.0"/><circle cx="495.4" cy="944.7" r="6.0"/><circle cx="578.2" cy="1057.8" r="6.0"/><circle cx="409.7" cy="1022.9" r="6.0"/><circle cx="608.9" cy="1072.9" r="6.0"/><circle cx="515.2" cy="1179.8" r="6.0"/><circle cx="566.4" cy="1081.2" r="6.0"/><circle cx="453.1" cy="1102.3" r="6.0"/><circle cx="530.7" cy="1067.1" r="6.0"/><circle cx="539.1" cy="972.9" r="6.0"/><circle cx="543.2" cy="1093.5" r="6.0"/><circle cx="654.1" cy="1029.1" r="6.0"/><circle cx="522.7" cy="1213.8" r="6.0"/><circle cx="615.4" cy="995.0" r="6.0"/><circle cx="702.4" cy="1045.6" r="6.0"/><circle cx="454.0" cy="1185.1" r="6.0"/><circle cx="591.2" cy="1122.5" r="6.0"/><circle cx="523.4" cy="1149.7" r="6.0"/><circle cx="439.9" cy="972.0" r="6.0"/><circle cx="622.8" cy="1063.4" r="6.0"/><circle cx="513.4" cy="1189.9" r="6.0"/><circle cx="454.8" cy="957.2" r="6.0"/><circle cx="412.1" cy="1225.3" r="6.0"/><circle cx="400.1" cy="1118.7" r="6.0"/><circle cx="443.3" cy="1116.1" r="6.0"/><circle cx="469.5" cy="1148.8" r="6.0"/><circle cx="496.8" cy="1168.1" r="6.0"/><circle cx="588.6" cy="996.7" r="6.0"/><circle cx="551.9" cy="1104.5" r="6.0"/><circle cx="455.6" cy="1077.3" r="6.0"/><circle cx="587.5" cy="1127.3" r="6.0"/><circle cx="611.7" cy="1067.4" r="6.0"/><circle cx="493.1" cy="938.9" r="6.0"/><circle cx="485.7" cy="1143.2" r="6.0"/><circle cx="521.3" cy="1127.6" r="6.0"/><circle cx="464.8" cy="1149.8" r="6.0"/><circle cx="540.1" cy="1040.0" r="6.0"/><circle cx="473.5" cy="1198.9" r="6.0"/><circle cx="436.1" cy="1165.0" r="6.0"/><circle cx="552.6" cy="1131.8" r="6.0"/><circle cx="560.0" cy="1148.0" r="6.0"/><circle cx="553.9" cy="1005.0" r="6.0"/><circle cx="513.3" cy="981.2" r="6.0"/><circle cx="484.5" cy="1221.3" r="6.0"/><circle cx="530.5" cy="1031.1" r="6.0"/><circle cx="463.0" cy="1072.5" r="6.0"/><circle cx="617.0" cy="1082.0" r="6.0"/><circle cx="568.2" cy="1115.2" r="6.0"/><circle cx="511.1" cy="1083.0" r="6.0"/><circle cx="490.1" cy="985.6" r="6.0"/><circle cx="476.2" cy="939.4" r="6.0"/><circle cx="489.0" cy="1060.7" r="6.0"/><circle cx="615.5" cy="1044.0" r="6.0"/><circle cx="510.3" cy="995.4" r="6.0"/><circle cx="526.4" cy="1016.2" r="6.0"/><circle cx="564.3" cy="1166.1" r="6.0"/><circle cx="638.0" cy="933.2" r="6.0"/><circle cx="561.3" cy="989.9" r="6.0"/><circle cx="507.0" cy="1027.1" r="6.0"/><circle cx="686.1" cy="963.4" r="6.0"/><circle cx="539.2" cy="996.4" r="6.0"/><circle cx="407.1" cy="1281.6" r="6.0"/><circle cx="507.5" cy="1152.1" r="6.0"/><circle cx="527.2" cy="1063.2" r="6.0"/><circle cx="555.8" cy="1136.6" r="6.0"/><circle cx="535.8" cy="1121.0" r="6.0"/><circle cx="633.3" cy="979.1" r="6.0"/><circle cx="544.9" cy="1190.9" r="6.0"/><circle cx="581.4" cy="967.1" r="6.0"/><circle cx="568.5" cy="1003.8" r="6.0"/><circle cx="611.2" cy="1115.8" r="6.0"/><circle cx="599.4" cy="1010.2" r="6.0"/><circle cx="549.3" cy="1056.1" r="6.0"/><circle cx="589.0" cy="1012.0" r="6.0"/><circle cx="573.9" cy="1021.5" r="6.0"/><circle cx="601.9" cy="1076.7" r="6.0"/><circle cx="632.0" cy="1051.7" r="6.0"/><circle cx="530.5" cy="1206.0" r="6.0"/><circle cx="483.2" cy="1017.0" r="6.0"/><circle cx="531.8" cy="1081.2" r="6.0"/><circle cx="611.0" cy="1045.8" r="6.0"/><circle cx="574.0" cy="1163.3" r="6.0"/><circle cx="496.3" cy="1108.7" r="6.0"/><circle cx="483.0" cy="1170.8" r="6.0"/><circle cx="549.8" cy="1146.7" r="6.0"/><circle cx="581.0" cy="1036.4" r="6.0"/><circle cx="528.6" cy="1027.6" r="6.0"/><circle cx="553.6" cy="987.6" r="6.0"/><circle cx="539.4" cy="986.7" r="6.0"/><circle cx="500.9" cy="1133.0" r="6.0"/><circle cx="440.7" cy="1082.6" r="6.0"/><circle cx="625.2" cy="1015.9" r="6.0"/><circle cx="498.3" cy="1120.5" r="6.0"/><circle cx="596.0" cy="987.1" r="6.0"/><circle cx="510.6" cy="1029.1" r="6.0"/><circle cx="577.2" cy="1080.9" r="6.0"/><circle cx="586.2" cy="1132.2" r="6.0"/><circle cx="582.1" cy="1053.1" r="6.0"/><circle cx="421.9" cy="1053.9" r="6.0"/><circle cx="506.0" cy="1013.1" r="6.0"/><circle cx="487.2" cy="1174.6" r="6.0"/><circle cx="457.3" cy="1132.8" r="6.0"/><circle cx="559.1" cy="1100.9" r="6.0"/><circle cx="535.5" cy="1134.2" r="6.0"/><circle cx="497.1" cy="1061.0" r="6.0"/><circle cx="408.7" cy="988.3" r="6.0"/><circle cx="543.5" cy="1060.1" r="6.0"/><circle cx="492.5" cy="1074.1" r="6.0"/><circle cx="483.1" cy="1079.6" r="6.0"/><circle cx="582.0" cy="1047.2" r="6.0"/><circle cx="588.2" cy="1098.3" r="6.0"/><circle cx="496.1" cy="977.0" r="6.0"/><circle cx="536.8" cy="1038.3" r="6.0"/><circle cx="493.6" cy="1029.6" r="6.0"/><circle cx="507.1" cy="984.7" r="6.0"/><circle cx="506.2" cy="1119.5" r="6.0"/><circle cx="579.0" cy="1070.9" r="6.0"/><circle cx="583.0" cy="1122.1" r="6.0"/><circle cx="593.4" cy="1026.5" r="6.0"/><circle cx="570.7" cy="1111.6" r="6.0"/><circle cx="412.1" cy="1212.0" r="6.0"/><circle cx="428.6" cy="1213.3" r="6.0"/><circle cx="418.2" cy="1208.3" r="6.0"/><circle cx="417.6" cy="1199.5" r="6.0"/><circle cx="380.3" cy="1211.2" r="6.0"/><circle cx="384.5" cy="1210.3" r="6.0"/><circle cx="391.6" cy="1206.1" r="6.0"/><circle cx="378.3" cy="1200.4" r="6.0"/><circle cx="393.7" cy="1198.1" r="6.0"/><circle cx="404.1" cy="1199.2" r="6.0"/><circle cx="395.6" cy="1205.0" r="6.0"/><circle cx="370.0" cy="1200.7" r="6.0"/><circle cx="374.6" cy="1207.2" r="6.0"/><circle cx="408.4" cy="1201.3" r="6.0"/><circle cx="387.5" cy="1201.0" r="6.0"/><circle cx="402.0" cy="1206.3" r="6.0"/><circle cx="341.4" cy="1148.0" r="6.0"/><circle cx="344.6" cy="1124.5" r="6.0"/><circle cx="341.8" cy="1134.2" r="6.0"/><circle cx="358.2" cy="1086.1" r="6.0"/><circle cx="333.1" cy="1214.3" r="6.0"/><circle cx="334.8" cy="1114.4" r="6.0"/><circle cx="351.9" cy="1091.3" r="6.0"/><circle cx="342.4" cy="1090.2" r="6.0"/><circle cx="359.4" cy="1145.7" r="6.0"/><circle cx="369.2" cy="1132.3" r="6.0"/><circle cx="345.9" cy="1164.1" r="6.0"/><circle cx="330.7" cy="1256.1" r="6.0"/><circle cx="336.1" cy="1186.4" r="6.0"/><circle cx="341.5" cy="1189.3" r="6.0"/><circle cx="350.8" cy="1121.8" r="6.0"/><circle cx="319.5" cy="1226.9" r="6.0"/><circle cx="349.0" cy="1146.0" r="6.0"/><circle cx="327.6" cy="1212.2" r="6.0"/><circle cx="343.7" cy="1141.0" r="6.0"/><circle cx="333.1" cy="1228.3" r="6.0"/><circle cx="303.8" cy="1179.4" r="6.0"/><circle cx="330.1" cy="1239.1" r="6.0"/><circle cx="328.6" cy="1202.2" r="6.0"/><circle cx="304.4" cy="1233.5" r="6.0"/><circle cx="336.3" cy="1301.7" r="6.0"/><circle cx="296.2" cy="1240.5" r="6.0"/><circle cx="335.3" cy="1241.9" r="6.0"/><circle cx="310.2" cy="1297.0" r="6.0"/><circle cx="348.9" cy="1199.5" r="6.0"/><circle cx="299.2" cy="1183.2" r="6.0"/><circle cx="354.1" cy="1110.0" r="6.0"/><circle cx="369.4" cy="1122.0" r="6.0"/><circle cx="324.1" cy="1204.8" r="6.0"/><circle cx="325.9" cy="1152.3" r="6.0"/><circle cx="317.0" cy="1152.5" r="6.0"/><circle cx="354.6" cy="1152.1" r="6.0"/><circle cx="329.0" cy="1124.7" r="6.0"/><circle cx="304.8" cy="1241.2" r="6.0"/><circle cx="368.7" cy="1111.0" r="6.0"/><circle cx="344.8" cy="1236.9" r="6.0"/><circle cx="315.7" cy="1169.2" r="6.0"/><circle cx="355.0" cy="1207.2" r="6.0"/><circle cx="341.3" cy="1098.0" r="6.0"/><circle cx="341.0" cy="1118.6" r="6.0"/><circle cx="343.2" cy="1230.1" r="6.0"/><circle cx="326.5" cy="1132.1" r="6.0"/><circle cx="319.7" cy="1163.5" r="6.0"/><circle cx="312.1" cy="1282.7" r="6.0"/><circle cx="303.4" cy="1189.0" r="6.0"/><circle cx="331.0" cy="1155.9" r="6.0"/><circle cx="354.3" cy="1134.4" r="6.0"/><circle cx="341.6" cy="1102.1" r="6.0"/><circle cx="368.6" cy="1138.9" r="6.0"/><circle cx="361.3" cy="1115.6" r="6.0"/><circle cx="326.0" cy="1217.8" r="6.0"/><circle cx="368.0" cy="1128.1" r="6.0"/><circle cx="354.2" cy="1096.3" r="6.0"/><circle cx="362.9" cy="1134.4" r="6.0"/><circle cx="348.0" cy="1231.0" r="6.0"/><circle cx="320.2" cy="1282.6" r="6.0"/><circle cx="311.9" cy="1290.5" r="6.0"/><circle cx="319.7" cy="1176.6" r="6.0"/><circle cx="335.7" cy="1232.6" r="6.0"/><circle cx="349.0" cy="1172.9" r="6.0"/><circle cx="341.3" cy="1159.3" r="6.0"/><circle cx="335.3" cy="1274.3" r="6.0"/><circle cx="328.5" cy="1119.0" r="6.0"/><circle cx="313.0" cy="1207.4" r="6.0"/><circle cx="327.1" cy="1114.4" r="6.0"/><circle cx="313.6" cy="1194.4" r="6.0"/><circle cx="327.3" cy="1243.5" r="6.0"/><circle cx="306.2" cy="1222.4" r="6.0"/><circle cx="330.6" cy="1148.7" r="6.0"/><circle cx="329.3" cy="1249.0" r="6.0"/><circle cx="330.2" cy="1144.7" r="6.0"/><circle cx="319.1" cy="1199.6" r="6.0"/><circle cx="315.3" cy="1200.9" r="6.0"/><circle cx="299.5" cy="1192.7" r="6.0"/><circle cx="333.5" cy="1290.0" r="6.0"/><circle cx="359.5" cy="1111.8" r="6.0"/><circle cx="356.1" cy="1191.4" r="6.0"/><circle cx="320.1" cy="1206.2" r="6.0"/><circle cx="325.2" cy="1287.8" r="6.0"/><circle cx="360.0" cy="1175.1" r="6.0"/><circle cx="320.1" cy="1156.4" r="6.0"/><circle cx="340.9" cy="1202.3" r="6.0"/><circle cx="357.3" cy="1129.3" r="6.0"/><circle cx="333.8" cy="1286.0" r="6.0"/><circle cx="318.7" cy="1295.0" r="6.0"/><circle cx="358.1" cy="1095.0" r="6.0"/><circle cx="331.0" cy="1260.2" r="6.0"/><circle cx="360.6" cy="1153.3" r="6.0"/><circle cx="332.2" cy="1279.5" r="6.0"/><circle cx="333.8" cy="1206.3" r="6.0"/><circle cx="328.7" cy="1296.9" r="6.0"/><circle cx="354.5" cy="1197.8" r="6.0"/><circle cx="335.1" cy="1253.2" r="6.0"/><circle cx="328.6" cy="1305.0" r="6.0"/><circle cx="315.1" cy="1173.8" r="6.0"/><circle cx="322.0" cy="1231.3" r="6.0"/><circle cx="332.5" cy="1306.2" r="6.0"/><circle cx="336.3" cy="1141.8" r="6.0"/><circle cx="338.5" cy="1172.6" r="6.0"/><circle cx="334.8" cy="1264.8" r="6.0"/><circle cx="297.2" cy="1250.2" r="6.0"/><circle cx="317.7" cy="1264.7" r="6.0"/><circle cx="332.2" cy="1244.5" r="6.0"/><circle cx="348.1" cy="1140.0" r="6.0"/><circle cx="352.0" cy="1184.1" r="6.0"/><circle cx="361.6" cy="1165.9" r="6.0"/><circle cx="300.7" cy="1215.0" r="6.0"/><circle cx="313.8" cy="1248.8" r="6.0"/><circle cx="363.2" cy="1085.6" r="6.0"/><circle cx="309.0" cy="1191.7" r="6.0"/><circle cx="314.7" cy="1259.3" r="6.0"/><circle cx="362.9" cy="1159.5" r="6.0"/><circle cx="300.7" cy="1221.2" r="6.0"/><circle cx="326.1" cy="1148.2" r="6.0"/><circle cx="333.4" cy="1138.2" r="6.0"/><circle cx="347.1" cy="1133.9" r="6.0"/><circle cx="335.5" cy="1092.5" r="6.0"/><circle cx="336.4" cy="1162.0" r="6.0"/><circle cx="303.8" cy="1197.2" r="6.0"/><circle cx="311.2" cy="1244.9" r="6.0"/><circle cx="324.1" cy="1222.0" r="6.0"/><circle cx="338.4" cy="1244.9" r="6.0"/><circle cx="346.9" cy="1210.3" r="6.0"/><circle cx="326.5" cy="1182.0" r="6.0"/><circle cx="345.0" cy="1154.4" r="6.0"/><circle cx="298.8" cy="1236.4" r="6.0"/><circle cx="351.5" cy="1426.6" r="6.0"/><circle cx="349.2" cy="1419.6" r="6.0"/><circle cx="360.5" cy="1349.7" r="6.0"/><circle cx="356.4" cy="1471.2" r="6.0"/><circle cx="362.5" cy="1337.6" r="6.0"/><circle cx="309.7" cy="1453.3" r="6.0"/><circle cx="310.0" cy="1379.0" r="6.0"/><circle cx="354.6" cy="1457.3" r="6.0"/><circle cx="326.4" cy="1389.5" r="6.0"/><circle cx="342.9" cy="1378.8" r="6.0"/><circle cx="314.8" cy="1352.9" r="6.0"/><circle cx="341.7" cy="1439.3" r="6.0"/><circle cx="313.5" cy="1443.2" r="6.0"/><circle cx="341.2" cy="1415.4" r="6.0"/><circle cx="335.6" cy="1389.3" r="6.0"/><circle cx="345.4" cy="1466.5" r="6.0"/><circle cx="346.4" cy="1402.4" r="6.0"/><circle cx="340.4" cy="1337.9" r="6.0"/><circle cx="314.0" cy="1341.0" r="6.0"/><circle cx="365.2" cy="1465.6" r="6.0"/><circle cx="308.7" cy="1417.0" r="6.0"/><circle cx="336.0" cy="1458.4" r="6.0"/><circle cx="299.6" cy="1424.0" r="6.0"/><circle cx="303.9" cy="1401.5" r="6.0"/><circle cx="353.4" cy="1482.4" r="6.0"/><circle cx="355.2" cy="1449.4" r="6.0"/><circle cx="319.0" cy="1426.2" r="6.0"/><circle cx="336.7" cy="1402.8" r="6.0"/><circle cx="340.6" cy="1394.7" r="6.0"/><circle cx="324.8" cy="1446.3" r="6.0"/><circle cx="333.4" cy="1450.7" r="6.0"/><circle cx="363.4" cy="1354.4" r="6.0"/><circle cx="341.0" cy="1385.0" r="6.0"/><circle cx="325.2" cy="1425.9" r="6.0"/><circle cx="323.9" cy="1402.7" r="6.0"/><circle cx="353.3" cy="1340.7" r="6.0"/><circle cx="333.5" cy="1424.7" r="6.0"/><circle cx="303.1" cy="1416.4" r="6.0"/><circle cx="358.1" cy="1445.2" r="6.0"/><circle cx="326.4" cy="1410.2" r="6.0"/><circle cx="320.8" cy="1333.0" r="6.0"/><circle cx="324.4" cy="1460.8" r="6.0"/><circle cx="369.3" cy="1330.0" r="6.0"/><circle cx="331.2" cy="1379.1" r="6.0"/><circle cx="350.9" cy="1327.9" r="6.0"/><circle cx="341.1" cy="1355.8" r="6.0"/><circle cx="317.6" cy="1439.0" r="6.0"/><circle cx="319.4" cy="1340.9" r="6.0"/><circle cx="304.4" cy="1388.5" r="6.0"/><circle cx="316.1" cy="1382.1" r="6.0"/><circle cx="311.1" cy="1334.9" r="6.0"/><circle cx="315.3" cy="1458.8" r="6.0"/><circle cx="309.0" cy="1400.9" r="6.0"/><circle cx="318.2" cy="1414.6" r="6.0"/><circle cx="332.4" cy="1281.3" r="6.0"/><circle cx="332.6" cy="1265.5" r="6.0"/><circle cx="338.3" cy="1280.4" r="6.0"/><circle cx="344.7" cy="1272.7" r="6.0"/><circle cx="347.4" cy="1287.0" r="6.0"/><circle cx="332.5" cy="1293.4" r="6.0"/><circle cx="346.2" cy="1281.0" r="6.0"/><circle cx="340.4" cy="1269.3" r="6.0"/><circle cx="341.2" cy="1284.7" r="6.0"/><circle cx="414.9" cy="1273.7" r="6.0"/><circle cx="378.6" cy="1332.4" r="6.0"/><circle cx="387.4" cy="1334.9" r="6.0"/><circle cx="383.6" cy="1353.7" r="6.0"/><circle cx="402.4" cy="1374.9" r="6.0"/><circle cx="408.6" cy="1381.2" r="6.0"/><circle cx="397.4" cy="1388.7" r="6.0"/><circle cx="373.6" cy="1411.1" r="6.0"/><circle cx="357.4" cy="1409.9" r="6.0"/><circle cx="349.9" cy="1394.9" r="6.0"/><circle cx="359.9" cy="1354.9" r="6.0"/><circle cx="354.9" cy="1305.0" r="6.0"/><circle cx="347.4" cy="1320.0" r="6.0"/><circle cx="337.4" cy="1469.8" r="6.0"/><circle cx="347.4" cy="1477.3" r="6.0"/><circle cx="359.9" cy="1484.8" r="6.0"/><circle cx="369.9" cy="1492.3" r="6.0"/><circle cx="339.9" cy="1484.8" r="6.0"/><circle cx="447.2" cy="1298.3" r="6.0"/><circle cx="450.9" cy="1295.8" r="6.0"/><circle cx="448.4" cy="1307.5" r="6.0"/><circle cx="442.1" cy="1321.1" r="6.0"/><circle cx="435.3" cy="1326.5" r="6.0"/><circle cx="426.1" cy="1328.6" r="6.0"/><circle cx="414.6" cy="1339.3" r="6.0"/><circle cx="415.8" cy="1336.1" r="6.0"/><circle cx="412.1" cy="1344.8" r="6.0"/><circle cx="410.7" cy="1337.7" r="6.0"/><circle cx="409.1" cy="1350.7" r="6.0"/><circle cx="413.1" cy="1355.7" r="6.0"/><circle cx="411.0" cy="1360.1" r="6.0"/><circle cx="420.2" cy="1359.5" r="6.0"/><circle cx="434.1" cy="1365.3" r="6.0"/><circle cx="435.9" cy="1364.0" r="6.0"/><circle cx="436.2" cy="1366.5" r="6.0"/><circle cx="436.4" cy="1367.5" r="6.0"/><circle cx="439.1" cy="1370.8" r="6.0"/><circle cx="444.3" cy="1371.6" r="6.0"/><circle cx="436.7" cy="1383.5" r="6.0"/><circle cx="438.0" cy="1382.0" r="6.0"/><circle cx="433.5" cy="1389.0" r="6.0"/><circle cx="427.3" cy="1391.5" r="6.0"/><circle cx="424.1" cy="1395.2" r="6.0"/><circle cx="416.3" cy="1397.4" r="6.0"/><circle cx="406.7" cy="1402.2" r="6.0"/><circle cx="410.5" cy="1403.4" r="6.0"/><circle cx="403.6" cy="1417.9" r="6.0"/><circle cx="405.4" cy="1409.0" r="6.0"/><circle cx="390.2" cy="1424.6" r="6.0"/><circle cx="398.7" cy="1415.6" r="6.0"/><circle cx="382.7" cy="1428.5" r="6.0"/><circle cx="389.9" cy="1427.9" r="6.0"/><circle cx="379.5" cy="1435.7" r="6.0"/><circle cx="377.3" cy="1435.9" r="6.0"/><circle cx="381.8" cy="1450.2" r="6.0"/><circle cx="377.1" cy="1448.3" r="6.0"/><circle cx="379.1" cy="1451.2" r="6.0"/><circle cx="381.4" cy="1451.6" r="6.0"/><circle cx="395.5" cy="1509.0" r="6.0"/><circle cx="403.4" cy="1512.5" r="6.0"/><circle cx="418.2" cy="1510.6" r="6.0"/><circle cx="411.2" cy="1511.0" r="6.0"/><circle cx="426.8" cy="1510.4" r="6.0"/><circle cx="425.4" cy="1515.4" r="6.0"/><circle cx="440.4" cy="1514.9" r="6.0"/><circle cx="448.2" cy="1511.5" r="6.0"/><circle cx="463.6" cy="1515.1" r="6.0"/><circle cx="449.9" cy="1511.7" r="6.0"/><circle cx="479.1" cy="1510.0" r="6.0"/><circle cx="470.2" cy="1509.8" r="6.0"/><circle cx="414.9" cy="1533.5" r="6.0"/><circle cx="424.9" cy="1499.8" r="6.0"/><circle cx="434.8" cy="1503.6" r="6.0"/><circle cx="404.9" cy="1506.1" r="6.0"/><circle cx="505.8" cy="865.1" r="6.0"/><circle cx="471.0" cy="867.7" r="6.0"/><circle cx="466.0" cy="855.8" r="6.0"/><circle cx="440.3" cy="897.5" r="6.0"/><circle cx="477.6" cy="859.6" r="6.0"/><circle cx="410.8" cy="871.1" r="6.0"/><circle cx="405.3" cy="857.7" r="6.0"/><circle cx="425.4" cy="851.4" r="6.0"/><circle cx="426.5" cy="838.0" r="6.0"/><circle cx="452.5" cy="829.6" r="6.0"/><circle cx="430.2" cy="877.6" r="6.0"/><circle cx="412.2" cy="887.7" r="6.0"/><circle cx="449.4" cy="837.0" r="6.0"/><circle cx="492.7" cy="850.1" r="6.0"/><circle cx="421.4" cy="895.0" r="6.0"/><circle cx="459.3" cy="854.8" r="6.0"/><circle cx="418.2" cy="889.0" r="6.0"/><circle cx="475.7" cy="845.5" r="6.0"/><circle cx="453.6" cy="882.8" r="6.0"/><circle cx="431.9" cy="861.1" r="6.0"/><circle cx="481.1" cy="891.3" r="6.0"/><circle cx="456.4" cy="841.4" r="6.0"/></g>
<g fill="#1478ff" stroke="#000" stroke-width="1.9"><circle cx="392.3" cy="366.1" r="4.99"/><circle cx="338.1" cy="380.1" r="4.99"/><circle cx="224.7" cy="395.1" r="4.99"/><circle cx="209.4" cy="421.8" r="7.68"/><circle cx="208.9" cy="460.6" r="4.99"/><circle cx="207.4" cy="477.3" r="3.91"/><circle cx="201.9" cy="479.3" r="6.60"/><circle cx="201.9" cy="479.3" r="4.45"/><circle cx="201.9" cy="479.3" r="2.83"/><circle cx="155.0" cy="509.8" r="7.14"/><circle cx="156.2" cy="510.5" r="4.45"/><circle cx="158.7" cy="509.0" r="4.45"/><circle cx="237.4" cy="516.8" r="4.99"/><circle cx="364.1" cy="546.7" r="4.99"/><circle cx="492.5" cy="264.5" r="7.14"/><circle cx="486.2" cy="267.4" r="9.30"/><circle cx="481.2" cy="263.7" r="7.14"/><circle cx="473.7" cy="267.4" r="8.49"/><circle cx="475.0" cy="267.9" r="6.60"/><circle cx="623.6" cy="354.9" r="6.60"/><circle cx="616.1" cy="356.9" r="8.49"/><circle cx="617.4" cy="357.4" r="6.07"/><circle cx="617.4" cy="357.4" r="3.91"/><circle cx="642.3" cy="354.9" r="7.14"/><circle cx="652.3" cy="354.9" r="5.80"/><circle cx="644.8" cy="362.4" r="9.84"/><circle cx="647.3" cy="357.4" r="4.99"/><circle cx="659.8" cy="358.6" r="8.49"/><circle cx="666.1" cy="361.1" r="5.80"/><circle cx="662.3" cy="353.6" r="7.14"/><circle cx="661.8" cy="355.4" r="4.45"/><circle cx="645.3" cy="363.6" r="6.60"/><circle cx="646.1" cy="357.9" r="3.91"/><circle cx="639.9" cy="364.9" r="3.91"/><circle cx="694.3" cy="369.1" r="10.38"/><circle cx="693.6" cy="369.4" r="8.22"/><circle cx="693.6" cy="369.4" r="6.60"/><circle cx="625.4" cy="396.4" r="4.45"/><circle cx="634.4" cy="399.4" r="4.99"/><circle cx="626.9" cy="427.8" r="4.99"/><circle cx="984.8" cy="686.0" r="9.84"/><circle cx="969.8" cy="708.8" r="7.14"/><circle cx="757.0" cy="767.7" r="4.45"/><circle cx="753.7" cy="779.2" r="4.45"/><circle cx="247.4" cy="677.5" r="10.38"/><circle cx="229.4" cy="699.7" r="4.99"/><circle cx="318.6" cy="699.2" r="4.99"/><circle cx="338.1" cy="693.2" r="7.68"/><circle cx="244.4" cy="730.9" r="7.68"/><circle cx="244.4" cy="730.9" r="5.53"/><circle cx="243.9" cy="731.2" r="3.37"/><circle cx="328.1" cy="792.9" r="9.84"/><circle cx="328.6" cy="793.4" r="7.14"/><circle cx="356.1" cy="779.1" r="9.84"/><circle cx="352.3" cy="770.4" r="10.38"/><circle cx="388.6" cy="777.9" r="13.08"/><circle cx="374.3" cy="767.9" r="9.84"/><circle cx="398.5" cy="781.6" r="4.99"/><circle cx="356.1" cy="815.9" r="9.30"/><circle cx="367.3" cy="816.6" r="8.49"/><circle cx="367.8" cy="817.4" r="5.80"/><circle cx="368.1" cy="817.4" r="3.10"/><circle cx="379.3" cy="814.9" r="4.99"/><circle cx="372.3" cy="844.8" r="4.99"/><circle cx="424.8" cy="816.6" r="9.30"/><circle cx="417.3" cy="810.4" r="9.84"/><circle cx="405.3" cy="901.6" r="4.99"/><circle cx="354.3" cy="915.3" r="4.99"/><circle cx="333.6" cy="1026.5" r="7.14"/><circle cx="334.3" cy="1022.7" r="5.80"/><circle cx="338.6" cy="1036.5" r="7.68"/><circle cx="337.8" cy="1037.7" r="4.45"/><circle cx="332.8" cy="1043.9" r="9.84"/><circle cx="332.3" cy="1043.9" r="7.14"/><circle cx="332.8" cy="1043.9" r="4.45"/><circle cx="440.0" cy="801.6" r="7.14"/><circle cx="441.2" cy="797.9" r="9.30"/><circle cx="487.5" cy="830.9" r="4.99"/><circle cx="629.9" cy="810.4" r="4.99"/><circle cx="556.2" cy="860.3" r="4.99"/><circle cx="715.5" cy="861.1" r="4.99"/><circle cx="443.7" cy="896.6" r="15.24"/><circle cx="445.0" cy="897.8" r="12.54"/><circle cx="442.5" cy="892.8" r="9.84"/><circle cx="441.2" cy="887.8" r="7.14"/><circle cx="446.2" cy="900.3" r="8.49"/><circle cx="440.0" cy="894.1" r="5.80"/><circle cx="463.0" cy="920.3" r="4.99"/><circle cx="553.7" cy="897.3" r="7.14"/><circle cx="559.9" cy="901.6" r="4.99"/><circle cx="562.4" cy="896.6" r="8.49"/><circle cx="567.4" cy="895.3" r="9.30"/><circle cx="572.4" cy="897.8" r="7.68"/><circle cx="557.4" cy="899.1" r="5.80"/><circle cx="595.4" cy="898.3" r="9.84"/><circle cx="549.2" cy="920.3" r="13.89"/><circle cx="539.4" cy="921.0" r="4.99"/><circle cx="599.9" cy="949.8" r="13.89"/><circle cx="599.9" cy="949.8" r="11.19"/><circle cx="599.9" cy="949.8" r="8.49"/><circle cx="599.9" cy="949.8" r="5.80"/><circle cx="600.4" cy="949.8" r="3.10"/><circle cx="656.8" cy="955.3" r="4.99"/><circle cx="656.1" cy="961.5" r="4.99"/><circle cx="654.8" cy="971.5" r="4.99"/><circle cx="686.6" cy="987.7" r="7.68"/><circle cx="454.5" cy="978.2" r="7.68"/><circle cx="579.9" cy="991.5" r="4.99"/><circle cx="619.9" cy="1022.2" r="4.99"/><circle cx="630.4" cy="1032.2" r="4.99"/><circle cx="753.7" cy="780.0" r="4.45"/><circle cx="715.0" cy="861.2" r="4.99"/><circle cx="784.2" cy="886.9" r="4.99"/><circle cx="808.7" cy="916.9" r="4.99"/><circle cx="791.2" cy="937.9" r="4.99"/><circle cx="867.9" cy="905.4" r="7.14"/><circle cx="862.4" cy="904.9" r="10.38"/><circle cx="771.9" cy="992.8" r="4.99"/><circle cx="460.5" cy="1040.0" r="9.84"/><circle cx="473.7" cy="1065.0" r="7.14"/><circle cx="487.5" cy="1050.0" r="5.80"/><circle cx="503.7" cy="1065.0" r="11.19"/><circle cx="500.0" cy="1074.9" r="9.84"/><circle cx="524.9" cy="1067.4" r="9.30"/><circle cx="514.9" cy="1072.4" r="7.14"/><circle cx="486.2" cy="1092.4" r="12.54"/><circle cx="497.5" cy="1087.4" r="9.30"/><circle cx="491.2" cy="1098.7" r="9.84"/><circle cx="514.9" cy="1098.7" r="11.19"/><circle cx="509.9" cy="1088.7" r="4.45"/><circle cx="496.2" cy="1111.2" r="9.84"/><circle cx="468.7" cy="1112.4" r="9.84"/><circle cx="524.9" cy="1108.7" r="9.30"/><circle cx="546.2" cy="1104.9" r="12.54"/><circle cx="548.7" cy="1047.5" r="13.89"/><circle cx="557.9" cy="1057.0" r="4.45"/><circle cx="546.2" cy="1071.2" r="8.49"/><circle cx="548.7" cy="1121.2" r="4.45"/><circle cx="572.4" cy="1072.4" r="7.68"/><circle cx="554.9" cy="1089.9" r="7.14"/><circle cx="569.9" cy="1096.2" r="9.30"/><circle cx="561.7" cy="1091.9" r="4.45"/><circle cx="574.9" cy="1099.9" r="8.49"/><circle cx="563.7" cy="1109.9" r="3.91"/><circle cx="572.4" cy="1117.4" r="5.80"/><circle cx="578.6" cy="1103.7" r="4.99"/><circle cx="583.6" cy="1102.4" r="3.91"/><circle cx="584.9" cy="1109.9" r="7.14"/><circle cx="589.9" cy="1117.4" r="4.45"/><circle cx="582.4" cy="1124.9" r="5.80"/><circle cx="579.9" cy="1129.9" r="7.14"/><circle cx="587.4" cy="1132.4" r="5.80"/><circle cx="592.4" cy="1127.4" r="4.99"/><circle cx="599.9" cy="1129.9" r="6.60"/><circle cx="583.6" cy="1136.1" r="4.99"/><circle cx="567.4" cy="1141.1" r="6.60"/><circle cx="576.1" cy="1143.6" r="4.99"/><circle cx="558.7" cy="1146.1" r="4.45"/><circle cx="564.9" cy="1147.4" r="3.91"/><circle cx="571.2" cy="1151.1" r="4.99"/><circle cx="574.9" cy="1154.9" r="5.80"/><circle cx="582.4" cy="1147.4" r="4.99"/><circle cx="553.7" cy="1159.4" r="4.99"/><circle cx="571.2" cy="1166.9" r="4.99"/><circle cx="569.9" cy="1177.9" r="4.99"/><circle cx="578.6" cy="1201.1" r="4.99"/><circle cx="619.9" cy="1022.5" r="4.99"/><circle cx="630.4" cy="1032.0" r="4.45"/><circle cx="594.4" cy="1049.2" r="4.99"/><circle cx="490.0" cy="1156.9" r="7.68"/><circle cx="506.2" cy="1172.4" r="8.49"/><circle cx="501.2" cy="1176.1" r="6.60"/><circle cx="507.4" cy="1172.4" r="3.91"/><circle cx="527.4" cy="1189.9" r="9.84"/><circle cx="519.9" cy="1199.9" r="8.49"/><circle cx="511.2" cy="1192.4" r="4.45"/><circle cx="527.4" cy="1209.8" r="11.19"/><circle cx="514.9" cy="1209.8" r="12.54"/><circle cx="507.4" cy="1204.8" r="8.49"/><circle cx="502.5" cy="1217.3" r="9.84"/><circle cx="514.9" cy="1217.3" r="7.14"/><circle cx="521.2" cy="1214.8" r="5.80"/><circle cx="512.4" cy="1207.3" r="4.99"/><circle cx="517.4" cy="1208.6" r="3.91"/><circle cx="542.4" cy="1204.8" r="9.84"/><circle cx="558.7" cy="1207.3" r="13.89"/><circle cx="554.9" cy="1204.8" r="12.54"/><circle cx="511.2" cy="1239.3" r="13.89"/><circle cx="511.2" cy="1239.3" r="9.84"/><circle cx="511.2" cy="1239.3" r="6.60"/><circle cx="510.7" cy="1239.8" r="3.37"/><circle cx="460.0" cy="1242.3" r="14.70"/><circle cx="460.0" cy="1242.3" r="11.19"/><circle cx="460.0" cy="1242.3" r="7.68"/><circle cx="460.0" cy="1242.3" r="4.45"/><circle cx="485.0" cy="1272.3" r="7.14"/><circle cx="482.0" cy="1268.5" r="7.14"/><circle cx="457.5" cy="1282.3" r="4.45"/><circle cx="452.0" cy="1291.0" r="7.14"/><circle cx="684.8" cy="1091.2" r="17.94"/><circle cx="686.1" cy="1091.2" r="9.84"/><circle cx="684.8" cy="1091.2" r="5.80"/><circle cx="703.6" cy="1080.4" r="5.80"/><circle cx="704.1" cy="1080.4" r="3.10"/><circle cx="664.8" cy="1108.7" r="9.84"/><circle cx="676.1" cy="1109.9" r="8.49"/><circle cx="671.1" cy="1117.4" r="9.84"/><circle cx="679.8" cy="1119.9" r="9.84"/><circle cx="674.8" cy="1124.9" r="13.89"/><circle cx="664.8" cy="1128.7" r="8.49"/><circle cx="657.3" cy="1131.2" r="7.14"/><circle cx="651.1" cy="1119.9" r="8.49"/><circle cx="659.8" cy="1122.4" r="7.14"/><circle cx="649.8" cy="1132.4" r="5.80"/><circle cx="641.1" cy="1129.9" r="4.99"/><circle cx="634.9" cy="1129.9" r="5.80"/><circle cx="628.6" cy="1131.2" r="4.99"/><circle cx="621.1" cy="1128.7" r="8.49"/><circle cx="622.4" cy="1129.4" r="3.91"/><circle cx="672.3" cy="1122.4" r="4.45"/><circle cx="664.8" cy="1128.7" r="4.45"/><circle cx="676.1" cy="1109.9" r="3.91"/><circle cx="617.4" cy="1159.9" r="16.59"/><circle cx="612.4" cy="1179.9" r="12.54"/><circle cx="584.9" cy="1187.4" r="8.49"/><circle cx="589.9" cy="1169.9" r="7.14"/><circle cx="629.9" cy="1129.9" r="3.37"/><circle cx="633.6" cy="1128.7" r="2.83"/><circle cx="637.4" cy="1131.2" r="3.37"/><circle cx="643.6" cy="1128.7" r="3.10"/><circle cx="647.3" cy="1131.2" r="3.37"/><circle cx="652.3" cy="1129.9" r="3.91"/><circle cx="656.1" cy="1127.4" r="3.37"/><circle cx="659.8" cy="1129.9" r="3.91"/><circle cx="663.6" cy="1124.9" r="3.37"/><circle cx="667.3" cy="1122.4" r="3.91"/><circle cx="669.8" cy="1127.4" r="3.37"/><circle cx="673.6" cy="1118.7" r="3.91"/><circle cx="677.3" cy="1114.9" r="3.37"/><circle cx="679.8" cy="1111.2" r="3.91"/><circle cx="674.8" cy="1129.9" r="4.45"/><circle cx="666.1" cy="1132.4" r="3.91"/><circle cx="661.1" cy="1133.6" r="3.37"/><circle cx="654.8" cy="1134.9" r="3.10"/><circle cx="671.1" cy="1113.7" r="2.83"/><circle cx="682.3" cy="1117.4" r="3.37"/><circle cx="678.6" cy="1124.9" r="3.91"/><circle cx="683.6" cy="1107.4" r="4.45"/><circle cx="687.3" cy="1102.4" r="3.91"/><circle cx="506.2" cy="1199.9" r="3.37"/><circle cx="508.7" cy="1203.6" r="2.83"/><circle cx="511.2" cy="1206.1" r="3.37"/><circle cx="513.7" cy="1203.6" r="2.83"/><circle cx="516.2" cy="1211.1" r="3.37"/><circle cx="509.9" cy="1211.1" r="3.91"/><circle cx="506.9" cy="1208.6" r="2.83"/><circle cx="514.9" cy="1213.6" r="2.83"/><circle cx="518.7" cy="1206.1" r="2.83"/><circle cx="512.4" cy="1199.9" r="2.83"/><circle cx="505.0" cy="1213.6" r="4.45"/><circle cx="578.6" cy="1099.9" r="2.83"/><circle cx="581.1" cy="1104.9" r="2.83"/><circle cx="586.1" cy="1113.7" r="2.83"/><circle cx="588.6" cy="1122.4" r="2.83"/><circle cx="591.1" cy="1124.9" r="2.83"/><circle cx="594.9" cy="1129.9" r="2.83"/><circle cx="587.4" cy="1127.4" r="2.83"/><circle cx="583.6" cy="1119.9" r="2.83"/><circle cx="579.9" cy="1111.2" r="2.83"/><circle cx="576.1" cy="1107.4" r="2.83"/><circle cx="334.9" cy="1022.5" r="7.14"/><circle cx="333.6" cy="1025.0" r="4.45"/><circle cx="338.6" cy="1035.0" r="7.14"/><circle cx="337.9" cy="1037.5" r="3.91"/><circle cx="332.4" cy="1042.5" r="9.30"/><circle cx="332.4" cy="1043.7" r="6.60"/><circle cx="331.9" cy="1044.5" r="3.91"/><circle cx="334.1" cy="1094.4" r="4.45"/><circle cx="350.4" cy="1104.4" r="4.99"/><circle cx="381.9" cy="1106.7" r="7.68"/><circle cx="369.9" cy="1117.9" r="4.99"/><circle cx="379.4" cy="1147.9" r="10.38"/><circle cx="361.1" cy="1174.1" r="7.68"/><circle cx="298.7" cy="1206.1" r="4.99"/><circle cx="349.4" cy="1231.6" r="4.99"/><circle cx="340.9" cy="1249.6" r="4.99"/><circle cx="307.9" cy="1256.6" r="7.68"/><circle cx="292.9" cy="1262.8" r="9.30"/><circle cx="292.4" cy="1262.3" r="7.14"/><circle cx="294.2" cy="1264.1" r="3.91"/><circle cx="339.4" cy="1341.5" r="4.99"/><circle cx="459.8" cy="1243.1" r="14.70"/><circle cx="459.8" cy="1243.1" r="11.19"/><circle cx="459.8" cy="1243.1" r="8.49"/><circle cx="459.8" cy="1243.1" r="5.80"/><circle cx="459.8" cy="1243.1" r="2.83"/><circle cx="482.3" cy="1268.5" r="7.68"/><circle cx="486.0" cy="1272.8" r="6.60"/><circle cx="457.3" cy="1282.3" r="4.45"/><circle cx="452.3" cy="1291.0" r="7.14"/><circle cx="429.3" cy="1326.5" r="10.38"/><circle cx="441.8" cy="1376.7" r="4.45"/><circle cx="441.1" cy="1384.0" r="7.68"/><circle cx="391.6" cy="1418.4" r="7.68"/><circle cx="429.4" cy="1327.0" r="10.38"/><circle cx="339.4" cy="1341.5" r="4.99"/><circle cx="442.3" cy="1376.7" r="4.99"/><circle cx="441.1" cy="1383.7" r="7.68"/><circle cx="391.6" cy="1418.2" r="7.68"/><circle cx="392.4" cy="1481.1" r="18.48"/><circle cx="392.4" cy="1481.1" r="11.19"/><circle cx="392.4" cy="1481.1" r="8.49"/><circle cx="392.4" cy="1481.1" r="4.99"/><circle cx="413.6" cy="1496.6" r="4.99"/></g>
<g fill="#e10000" stroke="#000" stroke-width="1.8"><circle cx="505.5" cy="1037.5" r="19.17"/><circle cx="504.5" cy="1051.7" r="18.40"/><circle cx="725.5" cy="1062.5" r="19.17"/><circle cx="607.9" cy="1153.6" r="18.40"/><circle cx="604.9" cy="1183.6" r="18.40"/><circle cx="609.4" cy="1179.9" r="18.40"/></g>
<rect x="53.5" y="41.5" width="1149" height="1668" fill="none" stroke="#8c8c8c" stroke-width="1.3"/>
<rect x="58.5" y="47.5" width="1139.5" height="1655.5" fill="none" stroke="#8c8c8c" stroke-width="1.3"/>
<g transform="translate(164.5,127.8) scale(0.9792,1)"><text x="0" y="0" font-size="47.8" fill="#0a286b" stroke="#0a286b" stroke-width="0.5">American Golden Plover (<tspan font-style="italic">Pluvialis dominica</tspan>)</text></g>
<g transform="translate(312.5,186.2) scale(0.9830,1)"><text x="0" y="0" font-size="47.8" fill="#0a286b" stroke="#0a286b" stroke-width="0.5">Abundances in South America</text></g>
<rect x="868.9" y="305" width="221" height="41.3" rx="2.5" fill="#0b3090"/>
<g transform="translate(881.8,334.8) scale(1.1906,1)"><text font-size="20.2" font-weight="bold" fill="#fff" stroke="#fff" stroke-width="0.9" stroke-linejoin="round">INTERNATIONAL</text></g>
<g transform="translate(911.2,297.0) scale(1.0229,1)"><text x="0" y="0" font-size="33.3" fill="#3fa535" font-family="Liberation Serif, serif" font-weight="bold">ETLANDS</text></g>
<polygon points="873.5,272.9 878.3,276.5 884.6,290.8 889.8,303.7 885.2,303.7 881.4,292.9 876.8,280.3" fill="#3fa535"/>
<polygon points="899.4,263.5 901.3,264.6 896.5,284.5 891.9,303.7 887.3,303.7 891.1,286.6 895.7,271.9" fill="#3fa535"/>
<polygon points="889.8,266.0 891.9,267.7 895.0,282.4 904.9,303.7 900.3,303.7 892.9,286.6 890.2,274.0" fill="#3fa535"/>
<polygon points="916.6,261.4 919.1,261.4 912.9,280.3 906.1,303.7 901.1,303.7 907.6,284.5 912.9,269.8" fill="#3fa535"/>
<polygon points="915.4,263.5 917.5,256.2 920.8,251.0 923.3,249.3 922.3,253.5 920.2,259.3 918.3,264.6" fill="#3fa535"/>
<ellipse cx="895.0" cy="307.9" rx="17.5" ry="2.2" fill="#fff"/>
<ellipse cx="892.9" cy="311.7" rx="9.5" ry="1.4" fill="#fff"/>
<circle cx="1027.9" cy="899.8" r="34.7" fill="#03318e"/><path d="M1028.2,865.6 L1045.6,928 L1028.2,923.2 L1010.6,928 Z" fill="#fff"/>
<rect x="904.75" y="961" width="230.5" height="503" fill="#fff" stroke="#4d4d4d" stroke-width="2"/>
<g transform="translate(973.3,1000.5) scale(1.0058,1)"><text x="0" y="0" font-size="26.2" fill="#0a286b" font-weight="bold">Legend</text></g>
<g transform="translate(920,1048.7) scale(1.0512,1)"><text x="0" y="0" font-size="21.7" fill="#000" font-weight="bold">Abundance</text></g>
<circle cx="953.25" cy="1084.25" r="5.0" fill="#1478ff" stroke="#000" stroke-width="1.5"/>
<g transform="translate(1000.7,1091.2) scale(1.0203,1)"><text x="0" y="0" font-size="20.3" fill="#000">Presence</text></g>
<circle cx="953.25" cy="1132.5" r="8.0" fill="#1478ff" stroke="#000" stroke-width="1.5"/>
<g transform="translate(1000.7,1139.5) scale(1.0000,1)"><text x="0" y="0" font-size="20.3" fill="#000">2 - 10</text></g>
<circle cx="953.25" cy="1181.25" r="10.0" fill="#1478ff" stroke="#000" stroke-width="1.5"/>
<g transform="translate(1000.7,1188.3) scale(1.0000,1)"><text x="0" y="0" font-size="20.3" fill="#000">11 - 100</text></g>
<circle cx="953.25" cy="1230.25" r="14.1" fill="#1478ff" stroke="#000" stroke-width="1.5"/>
<g transform="translate(1000.7,1237.5) scale(1.0201,1)"><text x="0" y="0" font-size="20.3" fill="#000">101 - 500</text></g>
<circle cx="953.25" cy="1279.25" r="17.7" fill="#1478ff" stroke="#000" stroke-width="1.5"/>
<g transform="translate(1000.7,1286.7) scale(1.0219,1)"><text x="0" y="0" font-size="20.3" fill="#000">501 - 2000</text></g>
<circle cx="953.25" cy="1329.5" r="19.7" fill="#e10000" stroke="#000" stroke-width="1.6"/>
<g transform="translate(1000.7,1338.5) scale(1.0135,1)"><text font-size="20.3">&gt; 2000</text></g>
<circle cx="953.25" cy="1382.75" r="6" fill="#fff" stroke="#969696" stroke-width="1.5"/>
<g transform="translate(1000.7,1390) scale(1.0124,1)"><text x="0" y="0" font-size="20.3" fill="#000">Not recorded</text></g>
<rect x="919.25" y="1413.75" width="68.5" height="35.75" fill="#f5f3d0"/>
<g transform="translate(1000.7,1440) scale(1.0157,1)"><text x="0" y="0" font-size="22.3" fill="#000">Distribution</text></g>
<g transform="translate(951.2,1485.5) scale(0.9773,1)"><text x="0" y="0" font-size="17" fill="#000">Scale: 1:34,500,000</text></g>
<g transform="translate(964.5,1504.3) scale(0.9726,1)"><text x="0" y="0" font-size="17" fill="#000">GCS: WGS1984</text></g>
<g transform="translate(500.8,1554.7) scale(1.0191,1)"><text font-size="18.4" font-weight="bold" fill="#14509e">Prepared by: Román J. Baigún, Daniel E. Blanco &amp; Bernabé López-Lanús</text></g>
<g transform="translate(477.7,1590) scale(1.13,1)"><text font-size="16.3" font-weight="bold" fill="#000" stroke="#000" stroke-width="0.35" letter-spacing="4.926">Global Avian Influenza Network for Surveillance</text></g>
<text x="422.6" y="1617.8" font-size="14.8" fill="#000" word-spacing="-0.011" xml:space="preserve">This map was made possible through support provided by the Office of Health, Infectious Disease and Nutrition,</text>
<text x="422.6" y="1634.6" font-size="14.8" fill="#000" word-spacing="0.386" xml:space="preserve">Bureau for Global Health, U.S. Agency for International Development and Wildlife Conservation Society, under</text>
<text x="422.6" y="1651.5" font-size="14.8" fill="#000" word-spacing="7.872" xml:space="preserve">the terms of Leader Award No.LAG-A-00-99-00047-00, Cooperative Agreement: GHS-A-00-06-00005.</text>
<text x="422.6" y="1668.6" font-size="14.8" fill="#000" word-spacing="1.208" xml:space="preserve">The opinions expressed herein are those of the author(s) and do not necessarily reflect the views of the U.S.</text>
<text x="422.6" y="1685.3" font-size="14.8" fill="#000" word-spacing="2.102" xml:space="preserve">Agency for International Development or Wildlife Conservation Society.</text>
<circle cx="108.4" cy="1637.1" r="29.1" fill="#fff" stroke="#1f2a8f" stroke-width="0.9"/>
<circle cx="108.4" cy="1637.1" r="23.3" fill="#fff" stroke="#1f2a8f" stroke-width="0.8"/>
<rect x="95.10000000000001" y="1620.8999999999999" width="26.7" height="7.8" fill="#1f2a8f"/>
<g transform="translate(97.6,1627.1) scale(1.0421,1)"><text x="0" y="0" font-size="6.6" fill="#fff" font-weight="bold">USAID</text></g>
<path d="M95.4,1633.5 h9.5 l3.5,-1 l4,1 h9 M95.4,1639.0 h8 l5,1.5 l5,-1.5 h8" stroke="#555" stroke-width="0.8" fill="none"/>
<path d="M95.4,1639.0 l7,-0.3 l3,-1.5" stroke="#444" stroke-width="1.3" fill="none"/>
<ellipse cx="108.80000000000001" cy="1636.6999999999998" rx="5.6" ry="4.2" fill="#9a9a9a"/>
<path d="M104.4,1635.1 l7,4.5 M106.4,1633.6 l7,4.5 M103.4,1637.1 l6,4" stroke="#444" stroke-width="0.6" fill="none"/>
<path d="M95.4,1645.5 h26.4 v3.9 h-26.4 Z" fill="#1f2a8f"/>
<circle cx="97.4" cy="1647.5" r="0.55" fill="#fff"/>
<circle cx="101.1" cy="1647.5" r="0.55" fill="#fff"/>
<circle cx="104.8" cy="1647.5" r="0.55" fill="#fff"/>
<circle cx="108.5" cy="1647.5" r="0.55" fill="#fff"/>
<circle cx="112.2" cy="1647.5" r="0.55" fill="#fff"/>
<circle cx="115.9" cy="1647.5" r="0.55" fill="#fff"/>
<circle cx="119.6" cy="1647.5" r="0.55" fill="#fff"/>
<clipPath id="shc"><path d="M95.4,1649.3999999999999 h26.4 l-1.5,3.5 l-11.7,4.8 l-11.7,-4.8 Z"/></clipPath>
<g clip-path="url(#shc)"><rect x="95.4" y="1649.3999999999999" width="26.4" height="9" fill="#fff"/>
<rect x="96.10" y="1649.3999999999999" width="2.4" height="9" fill="#d6203e"/>
<rect x="99.85" y="1649.3999999999999" width="2.4" height="9" fill="#d6203e"/>
<rect x="103.60" y="1649.3999999999999" width="2.4" height="9" fill="#d6203e"/>
<rect x="107.35" y="1649.3999999999999" width="2.4" height="9" fill="#d6203e"/>
<rect x="111.10" y="1649.3999999999999" width="2.4" height="9" fill="#d6203e"/>
<rect x="114.85" y="1649.3999999999999" width="2.4" height="9" fill="#d6203e"/>
<rect x="118.60" y="1649.3999999999999" width="2.4" height="9" fill="#d6203e"/>
</g>
<path id="ringt" d="M85.50,1627.85 A24.7,24.7 0 0 1 131.30,1627.85" fill="none"/>
<path id="ringb" d="M80.57,1639.05 A27.9,27.9 0 0 0 136.23,1639.05" fill="none"/>
<text font-size="4.9" font-weight="bold" fill="#1f2a8f"><textPath href="#ringt" textLength="58.6" lengthAdjust="spacing">UNITED STATES AGENCY</textPath></text>
<text font-size="4.9" font-weight="bold" fill="#1f2a8f"><textPath href="#ringb" textLength="83.8" lengthAdjust="spacing">INTERNATIONAL DEVELOPMENT</textPath></text>
<circle cx="82.30000000000001" cy="1631.8999999999999" r="0.7" fill="#1f2a8f"/><circle cx="134.5" cy="1631.8999999999999" r="0.7" fill="#1f2a8f"/>
<g transform="translate(143.5,1646) scale(1.0884,1)"><text font-size="38.3" font-weight="bold" fill="#1f2a8f" stroke="#1f2a8f" stroke-width="0.6">US<tspan fill="#d6203e" stroke="#d6203e">AID</tspan></text></g>
<g transform="translate(143.5,1658.3) scale(1.0752,1)"><text x="0" y="0" font-size="8.1" fill="#2a3a9a">FROM THE AMERICAN PEOPLE</text></g>
<rect x="302.0" y="1592.9" width="99.2" height="99.6" fill="#2b4b6e"/>
<g transform="translate(308.0,1612.8) scale(0.6188,1)"><text font-size="18.4" font-weight="bold" fill="#f5ee4c" stroke="#f5ee4c" stroke-width="0.7" stroke-linejoin="round">WILDLIFE</text></g>
<g transform="translate(308.0,1630.9) scale(0.6033,1)"><text font-size="18.4" font-weight="bold" fill="#f5ee4c" stroke="#f5ee4c" stroke-width="0.7" stroke-linejoin="round">CONSERVATION</text></g>
<g transform="translate(308.0,1648.9) scale(0.5680,1)"><text font-size="18.4" font-weight="bold" fill="#f5ee4c" stroke="#f5ee4c" stroke-width="0.7" stroke-linejoin="round">SOCIETY</text></g>
<clipPath id="wcsc"><rect x="302.0" y="1592.9" width="99.2" height="99.6"/></clipPath>
<g fill="#fff" clip-path="url(#wcsc)"><rect x="-1.44" y="-0.73" width="2.87" height="1.47" rx="0.5" transform="translate(378.9,1595.5) rotate(-15)"/><rect x="-1.47" y="-0.68" width="2.94" height="1.37" rx="0.5" transform="translate(380.7,1595.9) rotate(35)"/><rect x="-0.89" y="-0.59" width="1.78" height="1.18" rx="0.5" transform="translate(378.5,1594.0) rotate(35)"/><rect x="-1.00" y="-0.67" width="2.00" height="1.34" rx="0.5" transform="translate(382.2,1599.2) rotate(20)"/><rect x="-1.41" y="-0.50" width="2.83" height="1.00" rx="0.5" transform="translate(381.9,1603.5) rotate(-35)"/><rect x="-0.90" y="-0.45" width="1.80" height="0.90" rx="0.5" transform="translate(387.0,1601.1) rotate(-35)"/><rect x="-1.59" y="-0.71" width="3.17" height="1.42" rx="0.5" transform="translate(384.2,1600.2) rotate(-50)"/><rect x="-1.50" y="-0.64" width="3.00" height="1.28" rx="0.5" transform="translate(382.5,1600.0) rotate(35)"/><rect x="-1.57" y="-0.72" width="3.15" height="1.44" rx="0.5" transform="translate(389.1,1597.0) rotate(-50)"/><rect x="-1.55" y="-0.53" width="3.10" height="1.06" rx="0.5" transform="translate(387.5,1598.8) rotate(-50)"/><rect x="-0.80" y="-0.65" width="1.61" height="1.31" rx="0.5" transform="translate(381.8,1601.7) rotate(-50)"/><rect x="-1.04" y="-0.66" width="2.09" height="1.32" rx="0.5" transform="translate(386.9,1599.4) rotate(35)"/><rect x="-0.85" y="-0.74" width="1.69" height="1.49" rx="0.5" transform="translate(376.3,1652.2) rotate(-35)"/><rect x="-1.12" y="-0.61" width="2.25" height="1.23" rx="0.5" transform="translate(384.8,1649.7) rotate(20)"/><rect x="-0.81" y="-0.46" width="1.61" height="0.93" rx="0.5" transform="translate(378.6,1656.5) rotate(35)"/><rect x="-0.90" y="-0.52" width="1.79" height="1.05" rx="0.5" transform="translate(375.5,1642.0) rotate(20)"/><rect x="-1.22" y="-0.68" width="2.44" height="1.37" rx="0.5" transform="translate(379.8,1655.4) rotate(-35)"/><rect x="-1.09" y="-0.54" width="2.19" height="1.08" rx="0.5" transform="translate(376.5,1646.3) rotate(20)"/><rect x="-1.07" y="-0.63" width="2.15" height="1.27" rx="0.5" transform="translate(383.1,1650.5) rotate(35)"/><rect x="-1.24" y="-0.54" width="2.47" height="1.09" rx="0.5" transform="translate(377.4,1661.5) rotate(-50)"/><rect x="-1.30" y="-0.67" width="2.60" height="1.33" rx="0.5" transform="translate(379.5,1660.2) rotate(-50)"/><rect x="-0.84" y="-0.75" width="1.68" height="1.49" rx="0.5" transform="translate(383.7,1651.2) rotate(60)"/><rect x="-1.39" y="-0.55" width="2.78" height="1.11" rx="0.5" transform="translate(382.4,1650.6) rotate(-50)"/><rect x="-0.84" y="-0.72" width="1.69" height="1.45" rx="0.5" transform="translate(378.2,1652.8) rotate(-35)"/><rect x="-0.97" y="-0.74" width="1.93" height="1.49" rx="0.5" transform="translate(382.7,1646.7) rotate(60)"/><rect x="-1.43" y="-0.48" width="2.86" height="0.96" rx="0.5" transform="translate(386.3,1648.9) rotate(20)"/><rect x="-1.14" y="-0.49" width="2.27" height="0.98" rx="0.5" transform="translate(380.8,1652.6) rotate(60)"/><rect x="-1.16" y="-0.60" width="2.33" height="1.19" rx="0.5" transform="translate(387.3,1640.6) rotate(-15)"/><rect x="-1.18" y="-0.72" width="2.35" height="1.44" rx="0.5" transform="translate(380.5,1655.1) rotate(-35)"/><rect x="-1.57" y="-0.64" width="3.14" height="1.28" rx="0.5" transform="translate(374.7,1661.9) rotate(20)"/><rect x="-1.19" y="-0.60" width="2.39" height="1.21" rx="0.5" transform="translate(383.1,1648.8) rotate(60)"/><rect x="-1.43" y="-0.68" width="2.86" height="1.36" rx="0.5" transform="translate(383.9,1647.5) rotate(-15)"/><rect x="-1.04" y="-0.62" width="2.09" height="1.24" rx="0.5" transform="translate(380.9,1650.5) rotate(-15)"/><rect x="-1.42" y="-0.66" width="2.83" height="1.31" rx="0.5" transform="translate(380.9,1657.3) rotate(-50)"/><rect x="-0.94" y="-0.71" width="1.89" height="1.41" rx="0.5" transform="translate(384.7,1650.0) rotate(20)"/><rect x="-1.34" y="-0.59" width="2.67" height="1.18" rx="0.5" transform="translate(379.1,1650.1) rotate(60)"/><rect x="-1.08" y="-0.64" width="2.16" height="1.29" rx="0.5" transform="translate(377.9,1643.6) rotate(-15)"/><rect x="-1.54" y="-0.50" width="3.08" height="1.00" rx="0.5" transform="translate(384.9,1649.2) rotate(-15)"/><rect x="-1.07" y="-0.49" width="2.13" height="0.99" rx="0.5" transform="translate(378.5,1652.8) rotate(35)"/><rect x="-1.48" y="-0.53" width="2.97" height="1.07" rx="0.5" transform="translate(382.7,1656.1) rotate(-35)"/><rect x="-0.94" y="-0.68" width="1.87" height="1.37" rx="0.5" transform="translate(380.6,1642.8) rotate(60)"/><rect x="-1.04" y="-0.62" width="2.08" height="1.23" rx="0.5" transform="translate(374.7,1650.0) rotate(-15)"/><rect x="-0.96" y="-0.63" width="1.91" height="1.25" rx="0.5" transform="translate(380.2,1661.9) rotate(60)"/><rect x="-1.35" y="-0.64" width="2.70" height="1.28" rx="0.5" transform="translate(380.2,1648.2) rotate(-35)"/><rect x="-0.93" y="-0.72" width="1.87" height="1.44" rx="0.5" transform="translate(388.6,1650.0) rotate(-35)"/><rect x="-0.95" y="-0.46" width="1.91" height="0.92" rx="0.5" transform="translate(380.8,1654.3) rotate(20)"/><rect x="-0.86" y="-0.51" width="1.72" height="1.02" rx="0.5" transform="translate(378.6,1657.6) rotate(-15)"/><rect x="-1.12" y="-0.53" width="2.25" height="1.07" rx="0.5" transform="translate(381.8,1651.2) rotate(20)"/><rect x="-1.24" y="-0.74" width="2.48" height="1.48" rx="0.5" transform="translate(385.2,1645.2) rotate(60)"/><rect x="-1.24" y="-0.55" width="2.47" height="1.10" rx="0.5" transform="translate(380.5,1649.7) rotate(60)"/><rect x="-0.90" y="-0.57" width="1.81" height="1.15" rx="0.5" transform="translate(380.8,1656.0) rotate(60)"/><rect x="-0.91" y="-0.63" width="1.83" height="1.26" rx="0.5" transform="translate(379.6,1647.3) rotate(60)"/><rect x="-0.91" y="-0.48" width="1.81" height="0.95" rx="0.5" transform="translate(379.4,1651.8) rotate(-15)"/><rect x="-1.25" y="-0.63" width="2.51" height="1.27" rx="0.5" transform="translate(383.3,1651.3) rotate(35)"/><rect x="-1.25" y="-0.58" width="2.50" height="1.16" rx="0.5" transform="translate(378.4,1661.0) rotate(35)"/><rect x="-1.37" y="-0.57" width="2.73" height="1.13" rx="0.5" transform="translate(377.7,1651.5) rotate(35)"/><rect x="-1.58" y="-0.60" width="3.17" height="1.20" rx="0.5" transform="translate(379.4,1648.9) rotate(20)"/><rect x="-1.05" y="-0.73" width="2.09" height="1.46" rx="0.5" transform="translate(400.7,1650.3) rotate(35)"/><rect x="-1.30" y="-0.58" width="2.59" height="1.17" rx="0.5" transform="translate(393.1,1649.1) rotate(-50)"/><rect x="-1.11" y="-0.59" width="2.23" height="1.19" rx="0.5" transform="translate(396.2,1649.4) rotate(60)"/><rect x="-1.43" y="-0.52" width="2.85" height="1.05" rx="0.5" transform="translate(393.6,1659.1) rotate(-50)"/><rect x="-1.03" y="-0.60" width="2.06" height="1.20" rx="0.5" transform="translate(397.3,1641.8) rotate(20)"/><rect x="-1.50" y="-0.72" width="3.01" height="1.44" rx="0.5" transform="translate(388.7,1647.5) rotate(-35)"/><rect x="-1.23" y="-0.55" width="2.45" height="1.10" rx="0.5" transform="translate(394.8,1644.3) rotate(-50)"/><rect x="-1.08" y="-0.65" width="2.16" height="1.31" rx="0.5" transform="translate(394.5,1647.5) rotate(60)"/><rect x="-1.24" y="-0.66" width="2.49" height="1.31" rx="0.5" transform="translate(394.8,1649.0) rotate(-35)"/><rect x="-0.81" y="-0.68" width="1.62" height="1.37" rx="0.5" transform="translate(397.5,1644.5) rotate(20)"/><rect x="-1.56" y="-0.64" width="3.13" height="1.29" rx="0.5" transform="translate(390.8,1644.2) rotate(20)"/><rect x="-1.38" y="-0.72" width="2.75" height="1.44" rx="0.5" transform="translate(390.1,1649.9) rotate(20)"/><rect x="-1.47" y="-0.66" width="2.94" height="1.32" rx="0.5" transform="translate(395.2,1647.0) rotate(20)"/><rect x="-1.18" y="-0.54" width="2.36" height="1.09" rx="0.5" transform="translate(390.8,1645.0) rotate(35)"/><rect x="-1.20" y="-0.55" width="2.40" height="1.10" rx="0.5" transform="translate(390.9,1649.6) rotate(35)"/><rect x="-0.84" y="-0.67" width="1.68" height="1.34" rx="0.5" transform="translate(391.3,1651.7) rotate(-50)"/><rect x="-1.33" y="-0.46" width="2.66" height="0.92" rx="0.5" transform="translate(396.9,1640.4) rotate(-15)"/><rect x="-1.12" y="-0.60" width="2.25" height="1.19" rx="0.5" transform="translate(393.6,1649.6) rotate(-35)"/><rect x="-1.32" y="-0.74" width="2.63" height="1.47" rx="0.5" transform="translate(395.8,1645.6) rotate(-15)"/><rect x="-1.36" y="-0.58" width="2.73" height="1.16" rx="0.5" transform="translate(400.7,1638.5) rotate(35)"/><rect x="-0.93" y="-0.64" width="1.86" height="1.27" rx="0.5" transform="translate(392.2,1645.3) rotate(-35)"/><rect x="-1.40" y="-0.53" width="2.79" height="1.07" rx="0.5" transform="translate(390.5,1646.1) rotate(60)"/><rect x="-1.50" y="-0.49" width="3.01" height="0.98" rx="0.5" transform="translate(304.2,1666.3) rotate(20)"/><rect x="-1.19" y="-0.56" width="2.38" height="1.11" rx="0.5" transform="translate(316.0,1677.6) rotate(-15)"/><rect x="-1.36" y="-0.50" width="2.72" height="0.99" rx="0.5" transform="translate(309.5,1673.4) rotate(-15)"/><rect x="-1.55" y="-0.61" width="3.11" height="1.23" rx="0.5" transform="translate(309.0,1666.3) rotate(35)"/><rect x="-1.00" y="-0.68" width="2.01" height="1.35" rx="0.5" transform="translate(310.1,1680.7) rotate(60)"/><rect x="-1.49" y="-0.59" width="2.98" height="1.17" rx="0.5" transform="translate(318.2,1669.6) rotate(20)"/><rect x="-1.32" y="-0.48" width="2.65" height="0.95" rx="0.5" transform="translate(313.4,1681.9) rotate(-15)"/><rect x="-1.21" y="-0.59" width="2.41" height="1.17" rx="0.5" transform="translate(318.9,1674.9) rotate(20)"/><rect x="-1.06" y="-0.69" width="2.12" height="1.38" rx="0.5" transform="translate(314.0,1665.9) rotate(-35)"/><rect x="-1.48" y="-0.73" width="2.96" height="1.47" rx="0.5" transform="translate(306.4,1669.8) rotate(20)"/><rect x="-0.89" y="-0.74" width="1.79" height="1.48" rx="0.5" transform="translate(309.2,1667.0) rotate(-15)"/><rect x="-1.36" y="-0.56" width="2.72" height="1.13" rx="0.5" transform="translate(307.6,1671.9) rotate(35)"/><rect x="-1.36" y="-0.69" width="2.73" height="1.38" rx="0.5" transform="translate(308.1,1686.0) rotate(20)"/><rect x="-1.32" y="-0.69" width="2.64" height="1.38" rx="0.5" transform="translate(315.8,1681.9) rotate(20)"/><rect x="-0.83" y="-0.75" width="1.66" height="1.50" rx="0.5" transform="translate(314.5,1670.0) rotate(35)"/><rect x="-0.88" y="-0.46" width="1.76" height="0.92" rx="0.5" transform="translate(310.3,1664.5) rotate(35)"/><rect x="-1.55" y="-0.65" width="3.10" height="1.30" rx="0.5" transform="translate(312.2,1679.5) rotate(-50)"/><rect x="-1.51" y="-0.64" width="3.02" height="1.27" rx="0.5" transform="translate(315.4,1671.7) rotate(20)"/><rect x="-0.95" y="-0.65" width="1.91" height="1.29" rx="0.5" transform="translate(308.4,1678.8) rotate(-35)"/><rect x="-1.50" y="-0.50" width="3.01" height="0.99" rx="0.5" transform="translate(307.5,1676.7) rotate(-50)"/><rect x="-1.40" y="-0.65" width="2.80" height="1.30" rx="0.5" transform="translate(316.6,1680.1) rotate(-35)"/><rect x="-1.54" y="-0.56" width="3.08" height="1.12" rx="0.5" transform="translate(309.4,1671.9) rotate(-35)"/><rect x="-1.18" y="-0.73" width="2.35" height="1.47" rx="0.5" transform="translate(308.1,1661.7) rotate(-35)"/><rect x="-1.16" y="-0.52" width="2.33" height="1.04" rx="0.5" transform="translate(311.4,1665.5) rotate(35)"/><rect x="-1.26" y="-0.65" width="2.52" height="1.29" rx="0.5" transform="translate(317.2,1674.0) rotate(60)"/><rect x="-1.09" y="-0.54" width="2.18" height="1.09" rx="0.5" transform="translate(302.0,1682.9) rotate(20)"/><rect x="-1.59" y="-0.59" width="3.19" height="1.18" rx="0.5" transform="translate(309.5,1673.7) rotate(35)"/><rect x="-0.84" y="-0.63" width="1.67" height="1.27" rx="0.5" transform="translate(311.8,1676.0) rotate(-15)"/><rect x="-0.85" y="-0.68" width="1.70" height="1.37" rx="0.5" transform="translate(311.0,1671.5) rotate(20)"/><rect x="-1.47" y="-0.70" width="2.94" height="1.40" rx="0.5" transform="translate(311.1,1673.3) rotate(60)"/><rect x="-0.86" y="-0.72" width="1.71" height="1.44" rx="0.5" transform="translate(309.4,1674.2) rotate(20)"/><rect x="-1.35" y="-0.64" width="2.69" height="1.29" rx="0.5" transform="translate(314.6,1676.1) rotate(20)"/><rect x="-1.00" y="-0.57" width="2.01" height="1.14" rx="0.5" transform="translate(309.3,1673.2) rotate(-50)"/><rect x="-1.56" y="-0.51" width="3.12" height="1.02" rx="0.5" transform="translate(305.0,1660.3) rotate(-15)"/><rect x="-1.23" y="-0.48" width="2.45" height="0.95" rx="0.5" transform="translate(306.2,1671.3) rotate(-50)"/><rect x="-1.59" y="-0.50" width="3.18" height="1.00" rx="0.5" transform="translate(311.0,1668.7) rotate(-35)"/><rect x="-0.81" y="-0.61" width="1.63" height="1.22" rx="0.5" transform="translate(312.4,1667.7) rotate(20)"/><rect x="-1.22" y="-0.49" width="2.44" height="0.98" rx="0.5" transform="translate(304.0,1677.4) rotate(-35)"/><rect x="-1.16" y="-0.70" width="2.32" height="1.40" rx="0.5" transform="translate(313.7,1668.5) rotate(35)"/><rect x="-1.19" y="-0.68" width="2.37" height="1.37" rx="0.5" transform="translate(308.3,1670.3) rotate(-50)"/><rect x="-0.90" y="-0.47" width="1.81" height="0.95" rx="0.5" transform="translate(312.1,1666.0) rotate(35)"/><rect x="-1.57" y="-0.65" width="3.15" height="1.30" rx="0.5" transform="translate(308.0,1659.5) rotate(-50)"/><rect x="-0.84" y="-0.51" width="1.68" height="1.02" rx="0.5" transform="translate(316.7,1675.9) rotate(-50)"/><rect x="-0.86" y="-0.68" width="1.72" height="1.36" rx="0.5" transform="translate(317.1,1661.6) rotate(20)"/><rect x="-1.52" y="-0.65" width="3.03" height="1.29" rx="0.5" transform="translate(310.6,1662.5) rotate(35)"/><rect x="-1.45" y="-0.65" width="2.91" height="1.29" rx="0.5" transform="translate(306.4,1668.1) rotate(-35)"/><rect x="-1.01" y="-0.69" width="2.03" height="1.39" rx="0.5" transform="translate(309.6,1660.6) rotate(20)"/><rect x="-1.05" y="-0.49" width="2.09" height="0.98" rx="0.5" transform="translate(307.0,1669.3) rotate(20)"/><rect x="-0.85" y="-0.68" width="1.70" height="1.36" rx="0.5" transform="translate(308.9,1666.4) rotate(60)"/><rect x="-1.58" y="-0.70" width="3.15" height="1.40" rx="0.5" transform="translate(312.7,1672.3) rotate(20)"/><rect x="-1.29" y="-0.52" width="2.58" height="1.04" rx="0.5" transform="translate(317.2,1658.1) rotate(20)"/><rect x="-1.09" y="-0.50" width="2.17" height="1.00" rx="0.5" transform="translate(312.6,1675.1) rotate(60)"/><rect x="-0.88" y="-0.61" width="1.75" height="1.22" rx="0.5" transform="translate(313.7,1661.4) rotate(35)"/><rect x="-1.41" y="-0.58" width="2.82" height="1.16" rx="0.5" transform="translate(308.9,1668.7) rotate(20)"/><rect x="-1.53" y="-0.59" width="3.06" height="1.18" rx="0.5" transform="translate(313.3,1675.9) rotate(20)"/><rect x="-1.33" y="-0.50" width="2.67" height="1.00" rx="0.5" transform="translate(326.6,1684.3) rotate(20)"/><rect x="-0.88" y="-0.69" width="1.77" height="1.39" rx="0.5" transform="translate(330.6,1684.0) rotate(20)"/><rect x="-0.80" y="-0.72" width="1.60" height="1.45" rx="0.5" transform="translate(325.1,1683.8) rotate(35)"/><rect x="-1.11" y="-0.51" width="2.23" height="1.03" rx="0.5" transform="translate(319.1,1684.3) rotate(-50)"/><rect x="-1.21" y="-0.68" width="2.43" height="1.36" rx="0.5" transform="translate(327.3,1683.7) rotate(35)"/><rect x="-1.45" y="-0.65" width="2.90" height="1.30" rx="0.5" transform="translate(353.5,1687.4) rotate(-35)"/><rect x="-0.91" y="-0.70" width="1.83" height="1.40" rx="0.5" transform="translate(355.3,1674.2) rotate(20)"/><rect x="-1.12" y="-0.68" width="2.24" height="1.35" rx="0.5" transform="translate(356.8,1680.6) rotate(-50)"/><rect x="-1.44" y="-0.55" width="2.88" height="1.09" rx="0.5" transform="translate(360.0,1676.1) rotate(-15)"/><rect x="-0.87" y="-0.51" width="1.75" height="1.02" rx="0.5" transform="translate(353.5,1680.1) rotate(-15)"/><rect x="-1.27" y="-0.51" width="2.54" height="1.01" rx="0.5" transform="translate(362.5,1679.1) rotate(20)"/><rect x="-1.29" y="-0.60" width="2.58" height="1.21" rx="0.5" transform="translate(363.5,1680.0) rotate(60)"/><rect x="-1.12" y="-0.74" width="2.24" height="1.49" rx="0.5" transform="translate(352.3,1680.1) rotate(60)"/><rect x="-1.34" y="-0.61" width="2.67" height="1.22" rx="0.5" transform="translate(363.1,1674.0) rotate(20)"/><rect x="-1.34" y="-0.61" width="2.69" height="1.21" rx="0.5" transform="translate(354.8,1685.2) rotate(-50)"/><rect x="-1.42" y="-0.63" width="2.84" height="1.27" rx="0.5" transform="translate(357.8,1680.1) rotate(-15)"/><rect x="-0.81" y="-0.73" width="1.62" height="1.46" rx="0.5" transform="translate(350.6,1687.5) rotate(35)"/><rect x="-1.34" y="-0.74" width="2.67" height="1.47" rx="0.5" transform="translate(363.6,1683.4) rotate(-50)"/><rect x="-1.39" y="-0.63" width="2.78" height="1.27" rx="0.5" transform="translate(355.3,1667.2) rotate(35)"/><rect x="-0.90" y="-0.55" width="1.79" height="1.11" rx="0.5" transform="translate(356.4,1678.9) rotate(60)"/><rect x="-1.34" y="-0.56" width="2.67" height="1.13" rx="0.5" transform="translate(350.6,1686.5) rotate(-15)"/><rect x="-1.34" y="-0.55" width="2.68" height="1.09" rx="0.5" transform="translate(355.5,1677.8) rotate(-50)"/><rect x="-1.24" y="-0.66" width="2.49" height="1.33" rx="0.5" transform="translate(362.4,1684.9) rotate(-50)"/><rect x="-1.04" y="-0.69" width="2.07" height="1.38" rx="0.5" transform="translate(358.0,1681.6) rotate(60)"/><rect x="-0.86" y="-0.57" width="1.72" height="1.15" rx="0.5" transform="translate(365.4,1686.1) rotate(35)"/><rect x="-1.25" y="-0.70" width="2.51" height="1.40" rx="0.5" transform="translate(358.2,1680.9) rotate(60)"/><rect x="-1.14" y="-0.61" width="2.28" height="1.22" rx="0.5" transform="translate(357.5,1671.9) rotate(35)"/><rect x="-1.28" y="-0.74" width="2.57" height="1.48" rx="0.5" transform="translate(357.0,1683.6) rotate(35)"/><rect x="-1.04" y="-0.62" width="2.07" height="1.23" rx="0.5" transform="translate(356.2,1680.3) rotate(60)"/><rect x="-1.28" y="-0.64" width="2.55" height="1.29" rx="0.5" transform="translate(359.0,1682.5) rotate(-15)"/><rect x="-1.56" y="-0.49" width="3.12" height="0.98" rx="0.5" transform="translate(357.3,1680.9) rotate(60)"/><rect x="-1.48" y="-0.64" width="2.96" height="1.29" rx="0.5" transform="translate(361.2,1677.1) rotate(35)"/><rect x="-1.44" y="-0.70" width="2.88" height="1.40" rx="0.5" transform="translate(362.0,1673.0) rotate(-35)"/><rect x="-0.87" y="-0.50" width="1.75" height="0.99" rx="0.5" transform="translate(358.8,1682.2) rotate(60)"/><rect x="-1.15" y="-0.55" width="2.31" height="1.09" rx="0.5" transform="translate(358.3,1670.1) rotate(35)"/><rect x="-1.57" y="-0.64" width="3.13" height="1.28" rx="0.5" transform="translate(356.1,1665.6) rotate(-35)"/><rect x="-0.96" y="-0.55" width="1.91" height="1.09" rx="0.5" transform="translate(353.5,1687.5) rotate(35)"/><rect x="-1.39" y="-0.48" width="2.79" height="0.95" rx="0.5" transform="translate(352.6,1681.1) rotate(20)"/><rect x="-0.80" y="-0.74" width="1.61" height="1.49" rx="0.5" transform="translate(361.9,1676.0) rotate(-50)"/><rect x="-1.10" y="-0.55" width="2.21" height="1.11" rx="0.5" transform="translate(358.2,1679.0) rotate(-15)"/><rect x="-1.38" y="-0.54" width="2.75" height="1.08" rx="0.5" transform="translate(363.6,1683.4) rotate(-35)"/><rect x="-1.40" y="-0.51" width="2.80" height="1.02" rx="0.5" transform="translate(363.1,1665.6) rotate(-50)"/><rect x="-1.20" y="-0.66" width="2.40" height="1.32" rx="0.5" transform="translate(355.8,1682.2) rotate(-35)"/><rect x="-1.07" y="-0.70" width="2.14" height="1.41" rx="0.5" transform="translate(376.4,1682.5) rotate(60)"/><rect x="-1.59" y="-0.53" width="3.18" height="1.06" rx="0.5" transform="translate(376.6,1684.6) rotate(-15)"/><rect x="-0.88" y="-0.59" width="1.75" height="1.19" rx="0.5" transform="translate(379.4,1684.8) rotate(35)"/><rect x="-1.55" y="-0.48" width="3.09" height="0.96" rx="0.5" transform="translate(376.0,1682.9) rotate(-50)"/><rect x="-1.45" y="-0.49" width="2.91" height="0.98" rx="0.5" transform="translate(378.5,1684.6) rotate(-35)"/><rect x="-1.57" y="-0.71" width="3.13" height="1.42" rx="0.5" transform="translate(380.6,1684.2) rotate(-35)"/><rect x="-1.58" y="-0.58" width="3.16" height="1.17" rx="0.5" transform="translate(379.3,1684.4) rotate(20)"/><rect x="-1.28" y="-0.70" width="2.56" height="1.40" rx="0.5" transform="translate(373.8,1682.8) rotate(20)"/><rect x="-1.11" y="-0.68" width="2.23" height="1.37" rx="0.5" transform="translate(377.3,1683.7) rotate(20)"/><rect x="-1.33" y="-0.64" width="2.66" height="1.27" rx="0.5" transform="translate(381.1,1678.2) rotate(60)"/><rect x="-1.42" y="-0.57" width="2.83" height="1.15" rx="0.5" transform="translate(378.4,1683.9) rotate(20)"/><rect x="-1.60" y="-0.68" width="3.20" height="1.35" rx="0.5" transform="translate(370.8,1639.9) rotate(-50)"/><rect x="-1.14" y="-0.74" width="2.28" height="1.48" rx="0.5" transform="translate(329.8,1595.9) rotate(-50)"/></g>
</svg>
</body></html>
